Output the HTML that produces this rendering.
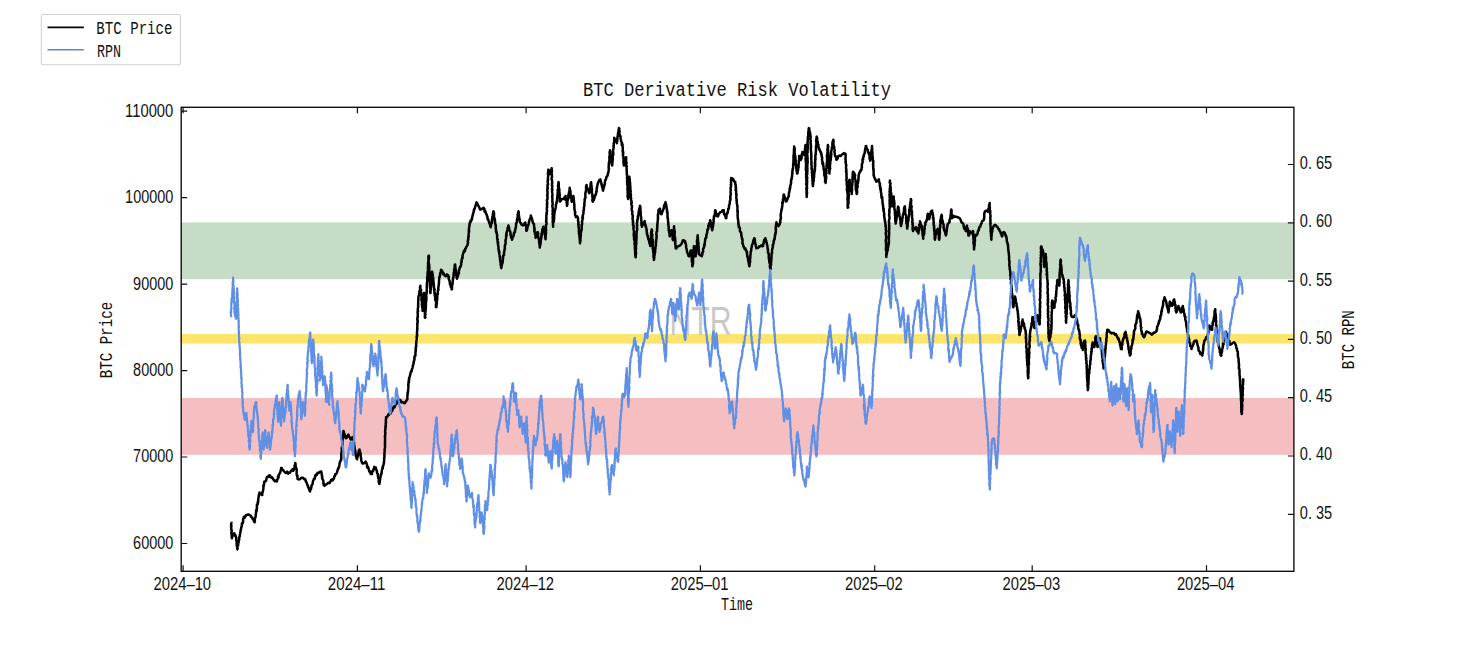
<!DOCTYPE html><html><head><meta charset="utf-8"><style>html,body{margin:0;padding:0;background:#fff;width:1472px;height:648px;overflow:hidden}svg{display:block}</style></head><body><svg width="1472" height="648" viewBox="0 0 1472 648">
<rect width="1472" height="648" fill="#fff"/>
<rect x="181.2" y="222.4" width="1112.7" height="56.70000000000002" fill="#c7dcc6"/>
<rect x="181.2" y="334.0" width="1112.7" height="9.6" fill="#fde56c"/>
<rect x="181.2" y="398.0" width="1112.7" height="56.80000000000001" fill="#f5bfc1"/>
<text x="669.5" y="335.4" font-family="'Liberation Sans', sans-serif" font-size="40" fill="#c8c8c8" textLength="62" lengthAdjust="spacingAndGlyphs">NTR</text>
<path d="M231.1,522.2 L231.4,522.4 L231.1,524.8 L231.2,525.2 L231.5,526.6 L231.1,526.3 L231.3,529.0 L231.1,529.8 L231.6,530.1 L231.8,530.7 L231.3,533.1 L231.6,532.2 L231.6,535.2 L231.7,534.6 L231.6,535.2 L231.8,537.1 L231.9,538.3 L232.2,536.7 L232.8,535.7 L233.0,534.8 L233.9,535.1 L234.3,533.3 L234.6,534.6 L235.4,536.3 L235.5,535.3 L236.0,537.0 L236.3,538.6 L236.2,540.1 L236.5,540.8 L236.5,540.7 L236.8,543.0 L236.7,543.2 L236.6,543.2 L236.8,545.9 L237.0,545.6 L237.2,547.8 L237.1,548.1 L237.3,549.4 L237.6,548.4 L237.5,547.5 L237.5,546.4 L238.1,544.4 L238.2,545.5 L238.1,543.2 L238.7,542.5 L238.6,542.1 L238.6,541.3 L239.2,539.5 L239.1,538.7 L239.3,537.0 L239.1,537.5 L239.8,536.2 L239.8,534.6 L240.1,534.4 L240.2,533.2 L240.4,531.7 L240.9,529.6 L240.7,529.7 L241.1,528.6 L241.3,527.2 L241.7,526.6 L241.8,525.8 L241.9,523.5 L242.4,522.8 L242.7,523.3 L243.0,522.2 L243.2,520.0 L243.0,519.9 L243.5,518.5 L243.9,516.7 L244.8,517.6 L245.8,515.4 L246.2,515.2 L247.2,514.8 L248.4,514.5 L249.5,514.9 L250.9,516.0 L251.4,517.4 L251.9,517.4 L252.4,517.6 L252.8,519.4 L253.7,519.6 L253.9,521.4 L254.6,522.2 L254.9,521.5 L254.6,519.2 L255.2,518.4 L255.3,517.5 L255.4,517.6 L255.8,515.6 L255.7,515.9 L255.9,513.6 L256.0,513.0 L256.2,511.8 L256.1,510.2 L256.6,511.2 L256.8,508.8 L257.0,507.8 L256.8,507.7 L257.0,506.2 L256.9,504.6 L257.1,504.9 L257.9,503.7 L257.6,502.1 L258.3,501.8 L258.2,500.4 L258.3,498.6 L258.7,497.2 L258.6,496.6 L259.0,494.9 L259.1,494.2 L259.5,493.3 L259.5,492.6 L260.0,494.3 L261.0,493.6 L262.0,495.1 L262.3,495.1 L262.2,492.6 L262.7,492.3 L262.6,491.8 L263.0,490.7 L263.4,488.8 L263.4,487.2 L263.3,485.8 L263.5,486.6 L263.9,485.2 L264.0,484.3 L264.1,482.2 L264.4,481.5 L265.2,481.4 L266.1,480.7 L266.6,478.0 L267.0,477.1 L268.2,476.1 L268.9,476.8 L269.4,475.3 L270.2,475.7 L270.8,477.4 L271.4,477.7 L272.2,477.4 L273.1,479.0 L274.1,480.5 L274.9,481.2 L276.0,480.4 L276.8,481.5 L276.9,481.2 L277.3,479.9 L278.1,477.7 L278.0,476.6 L278.5,477.7 L278.7,474.8 L279.4,474.1 L279.9,472.8 L280.2,472.5 L280.2,472.7 L280.7,470.3 L281.1,469.0 L281.1,467.9 L281.7,467.9 L282.2,469.9 L282.9,470.0 L283.3,470.3 L284.2,471.6 L285.5,472.8 L285.9,473.1 L287.2,471.7 L288.2,473.6 L289.1,472.8 L290.1,472.6 L290.8,471.1 L291.5,470.6 L292.3,469.4 L293.2,470.8 L294.1,469.1 L294.4,468.4 L294.4,468.0 L294.6,465.6 L295.1,464.6 L295.0,464.9 L295.3,463.0 L295.5,463.6 L295.7,465.1 L295.5,465.4 L295.7,466.4 L295.8,468.1 L296.3,468.0 L296.6,469.5 L296.8,471.0 L296.7,471.2 L296.6,473.6 L296.8,475.0 L297.5,475.6 L297.2,476.7 L297.5,476.1 L297.5,478.9 L297.8,479.0 L298.8,479.5 L300.0,479.1 L301.5,477.8 L303.0,477.8 L304.2,479.3 L305.2,479.0 L305.7,480.7 L305.8,481.3 L306.1,481.7 L306.8,483.3 L306.8,483.2 L307.6,485.7 L307.9,485.8 L308.2,487.4 L308.5,487.3 L308.7,488.0 L309.3,489.8 L309.5,490.6 L310.1,491.4 L310.2,490.0 L310.6,488.5 L311.0,489.0 L311.4,487.0 L311.4,485.6 L312.0,485.2 L312.2,484.5 L312.7,483.5 L312.9,481.5 L313.0,481.0 L313.6,479.8 L313.8,479.0 L314.6,479.0 L315.0,476.8 L315.2,475.4 L316.2,475.5 L316.6,473.9 L316.9,474.6 L317.5,472.8 L319.0,472.9 L320.1,471.7 L321.2,471.6 L321.5,473.2 L321.9,474.5 L321.8,475.8 L321.8,475.1 L322.2,476.2 L322.1,478.4 L322.7,479.3 L322.8,479.6 L323.1,480.3 L323.4,481.0 L323.4,483.8 L323.8,483.6 L323.7,485.2 L324.5,485.7 L325.9,484.8 L326.8,484.1 L327.9,483.1 L328.6,482.7 L329.4,483.1 L330.2,482.1 L331.0,480.1 L332.2,479.4 L332.5,480.6 L333.6,479.0 L334.0,478.3 L334.4,476.3 L335.1,475.7 L335.2,474.2 L335.6,474.2 L336.4,473.7 L336.6,473.3 L337.3,471.6 L337.6,470.1 L338.0,469.0 L338.3,468.0 L338.7,468.1 L338.9,467.5 L339.3,465.4 L339.5,465.0 L339.6,463.1 L340.2,461.5 L340.5,460.5 L341.0,460.4 L341.0,459.3 L341.4,458.8 L341.2,456.4 L341.1,456.4 L341.3,455.2 L341.1,454.3 L341.5,453.0 L341.5,451.7 L341.8,451.8 L341.9,450.1 L341.7,448.8 L341.8,447.0 L342.3,447.3 L342.1,446.8 L342.2,446.1 L342.3,444.8 L342.7,443.6 L342.3,441.6 L342.6,441.3 L342.4,439.7 L342.7,438.7 L343.1,437.8 L343.1,437.1 L343.2,436.8 L343.3,434.9 L343.3,434.2 L343.2,433.2 L343.4,432.2 L343.5,430.9 L344.0,432.9 L344.3,433.7 L344.6,434.7 L344.7,434.8 L345.4,436.6 L345.4,437.3 L345.9,438.3 L346.5,438.1 L346.9,436.3 L347.9,435.5 L348.4,434.6 L348.8,435.4 L349.1,436.9 L350.1,437.5 L350.3,438.9 L350.9,439.5 L351.8,439.1 L352.3,437.2 L353.3,437.0 L353.3,438.9 L353.7,438.2 L353.6,440.2 L353.9,441.2 L353.9,441.5 L354.1,443.7 L354.1,443.7 L354.2,444.7 L354.4,445.6 L354.3,448.1 L354.7,447.7 L354.6,449.4 L355.0,450.8 L355.3,450.3 L355.2,452.6 L355.7,453.2 L355.6,454.9 L355.8,455.6 L356.3,457.3 L356.7,458.2 L356.6,458.5 L357.0,459.3 L357.1,458.3 L357.7,456.5 L357.9,456.0 L358.2,454.7 L358.2,454.8 L358.5,452.5 L358.5,452.3 L358.7,450.7 L359.5,450.6 L359.5,449.4 L359.4,449.8 L360.1,451.9 L360.1,453.5 L360.5,453.2 L360.6,453.8 L360.6,454.8 L360.8,456.7 L360.9,457.0 L361.2,459.5 L361.2,460.0 L361.5,461.3 L362.0,462.1 L362.0,463.0 L362.9,463.6 L364.7,462.8 L365.7,461.7 L366.0,462.3 L366.7,463.9 L367.0,464.5 L367.0,466.2 L367.2,467.6 L368.0,466.9 L368.2,467.7 L368.6,468.8 L369.3,471.4 L369.4,471.6 L369.9,471.4 L370.8,474.0 L371.9,474.1 L372.0,472.5 L372.3,471.1 L373.1,471.2 L373.5,470.3 L373.5,469.1 L374.3,468.0 L374.3,466.7 L374.8,467.9 L375.8,467.6 L376.1,469.6 L376.8,470.4 L377.0,471.6 L376.9,472.5 L377.3,473.2 L377.8,473.9 L377.8,475.4 L378.1,477.1 L378.3,478.2 L378.6,478.2 L378.8,479.0 L378.9,481.6 L378.6,480.9 L379.1,483.6 L379.3,484.0 L379.8,482.6 L379.7,480.9 L379.7,480.7 L380.2,479.6 L380.0,479.6 L380.2,477.8 L380.5,477.4 L380.8,474.7 L381.0,475.2 L381.5,472.8 L381.7,473.3 L381.7,471.6 L381.9,470.2 L382.2,469.0 L382.3,468.2 L382.9,468.2 L382.6,466.7 L383.0,465.9 L383.4,465.6 L383.6,464.3 L384.0,462.6 L383.8,462.2 L384.2,460.5 L384.2,458.7 L384.0,458.5 L384.4,457.1 L384.6,455.4 L384.3,455.7 L384.4,453.9 L384.6,452.9 L384.5,452.3 L384.8,450.5 L384.5,449.8 L384.9,448.2 L384.9,448.1 L385.0,448.1 L385.0,446.8 L385.0,446.0 L384.9,443.2 L385.2,443.2 L385.1,442.6 L384.9,441.5 L385.1,440.9 L385.0,438.7 L385.1,438.9 L384.9,436.1 L385.2,436.2 L385.0,435.7 L385.4,433.5 L385.1,431.7 L385.2,431.8 L385.2,429.8 L385.4,429.6 L385.5,428.9 L385.3,426.6 L385.7,427.3 L385.8,424.8 L385.6,423.4 L385.8,424.2 L386.0,421.9 L386.0,421.6 L385.8,421.2 L385.9,419.7 L386.1,419.2 L386.0,417.2 L386.9,416.9 L387.3,416.8 L388.4,414.3 L389.0,414.7 L389.7,413.4 L390.7,413.5 L391.3,411.9 L391.5,411.2 L392.3,410.9 L392.7,408.5 L393.0,408.7 L393.7,406.6 L394.5,407.4 L394.9,406.7 L395.4,404.9 L395.9,403.9 L396.6,403.7 L397.0,401.9 L397.3,400.8 L397.9,400.3 L398.4,399.4 L399.6,400.1 L400.3,399.9 L401.2,402.3 L401.9,402.0 L403.1,402.2 L403.7,403.0 L404.5,403.2 L405.4,402.4 L405.8,401.6 L406.7,400.1 L407.3,399.4 L407.5,398.1 L407.3,397.4 L407.3,396.3 L407.6,395.1 L407.5,393.3 L408.0,392.8 L407.7,392.5 L407.8,392.4 L408.2,390.3 L408.1,389.7 L408.2,388.9 L408.3,387.7 L408.5,387.3 L408.2,384.3 L408.4,385.3 L408.5,382.2 L409.0,382.2 L408.9,381.0 L408.6,380.9 L409.3,379.4 L409.0,378.1 L409.4,377.3 L410.0,375.9 L409.8,376.3 L410.3,374.4 L410.4,373.7 L410.9,371.8 L411.5,371.3 L411.8,371.2 L411.7,369.8 L412.4,368.2 L412.6,367.5 L412.8,366.0 L412.8,366.4 L413.0,365.2 L413.7,363.2 L413.6,361.8 L414.0,361.2 L413.9,361.5 L414.5,359.4 L414.3,358.5 L414.5,357.9 L414.5,356.3 L415.1,356.4 L415.5,355.2 L415.4,353.3 L415.5,351.8 L415.8,351.1 L415.5,351.0 L415.9,348.7 L415.6,348.0 L416.0,346.5 L416.3,346.4 L416.2,345.3 L416.1,343.4 L416.4,342.7 L416.2,341.6 L416.4,340.8 L416.6,339.8 L416.8,338.4 L416.7,338.5 L416.7,336.1 L417.0,336.5 L417.2,335.7 L417.0,333.6 L416.9,332.6 L417.2,332.0 L417.1,330.2 L417.3,329.0 L417.4,329.3 L417.2,328.3 L417.4,326.2 L417.4,326.7 L417.2,323.7 L417.6,323.3 L417.4,321.8 L417.8,322.1 L417.7,320.3 L417.3,319.7 L417.4,318.2 L417.9,317.0 L417.5,316.9 L417.9,314.6 L417.7,313.6 L417.6,312.9 L417.6,311.4 L418.2,311.2 L417.8,310.7 L417.8,309.7 L417.9,308.3 L417.9,308.2 L418.2,306.9 L418.2,306.0 L418.1,305.0 L418.2,303.5 L418.2,302.2 L418.2,301.2 L418.3,300.0 L418.5,299.9 L418.3,298.1 L418.5,297.0 L418.8,295.4 L418.9,295.1 L419.2,293.5 L419.3,292.9 L419.4,291.1 L419.7,291.3 L420.0,290.0 L420.1,289.4 L420.0,286.8 L420.0,287.3 L420.4,285.8 L420.3,287.8 L420.4,288.8 L420.9,289.7 L421.0,289.6 L421.1,290.3 L420.9,291.8 L421.1,292.3 L421.2,293.6 L421.3,295.8 L421.6,295.1 L421.5,298.2 L421.5,298.0 L421.5,300.1 L421.7,301.0 L422.0,301.2 L421.9,302.2 L421.9,302.5 L422.1,303.5 L421.8,304.4 L422.0,305.7 L422.2,307.6 L422.7,308.1 L422.5,310.6 L422.5,310.7 L422.8,310.3 L422.9,308.0 L422.8,307.0 L422.7,306.2 L423.2,306.1 L423.3,304.0 L423.2,303.0 L423.4,303.4 L423.3,300.3 L423.2,300.0 L423.4,299.9 L423.6,298.6 L423.4,297.2 L423.9,296.5 L423.9,294.3 L423.8,294.0 L424.0,292.9 L424.3,294.4 L424.3,294.0 L424.3,295.8 L424.3,296.4 L424.1,297.2 L424.3,300.2 L424.2,300.8 L424.3,301.2 L424.5,302.9 L424.4,302.6 L424.5,304.4 L424.7,306.3 L424.5,305.6 L424.3,306.6 L424.4,307.5 L424.8,310.1 L424.6,311.2 L425.0,310.8 L425.1,313.3 L424.8,312.6 L425.0,315.0 L425.0,316.6 L424.7,316.5 L425.0,317.8 L425.4,317.4 L425.2,316.7 L425.1,314.4 L425.5,314.3 L425.1,313.7 L425.4,311.9 L425.6,310.5 L425.7,310.6 L425.7,309.1 L425.7,308.0 L425.9,306.1 L425.9,304.8 L425.9,304.4 L425.9,303.9 L425.8,303.6 L426.3,300.5 L426.0,300.1 L426.2,299.4 L426.4,299.6 L426.3,297.1 L426.4,296.4 L426.2,295.3 L426.4,294.2 L426.7,292.8 L426.4,292.1 L426.9,291.6 L426.8,291.0 L426.8,289.4 L426.8,288.9 L426.8,286.6 L426.8,286.0 L426.8,285.2 L426.9,283.5 L427.3,282.6 L427.0,282.3 L427.5,281.1 L427.3,280.4 L427.2,278.9 L427.1,278.4 L427.2,277.8 L427.4,276.7 L427.6,275.5 L427.6,273.3 L427.5,272.1 L427.6,271.8 L428.1,271.4 L428.0,269.7 L428.0,268.4 L427.9,267.6 L428.2,266.0 L428.0,265.3 L428.3,264.4 L428.2,264.1 L428.0,263.4 L428.4,260.8 L428.5,260.4 L428.4,260.8 L428.6,257.9 L428.3,258.0 L428.5,256.1 L428.6,255.7 L428.9,255.8 L428.9,258.1 L429.0,258.4 L428.9,258.9 L428.5,260.2 L428.7,260.9 L428.8,263.3 L429.0,263.7 L429.1,264.2 L429.3,266.1 L429.3,266.8 L429.3,268.8 L429.1,268.6 L429.4,268.9 L429.3,270.0 L429.1,271.7 L429.6,272.2 L429.7,273.9 L429.2,275.7 L429.3,276.2 L429.5,276.7 L429.7,278.8 L429.7,278.2 L429.5,279.9 L430.0,280.5 L430.0,282.9 L430.1,281.9 L430.1,283.8 L429.8,284.2 L429.9,286.8 L430.1,285.9 L430.3,289.0 L430.5,288.7 L430.4,290.6 L430.2,291.3 L430.3,292.8 L430.3,292.9 L430.5,292.9 L430.5,291.8 L430.7,289.7 L430.5,288.5 L431.0,288.1 L431.1,286.4 L431.1,286.5 L431.3,284.6 L431.2,284.5 L431.2,282.0 L431.5,280.7 L431.3,280.4 L431.5,279.9 L431.5,278.9 L431.8,278.0 L431.7,276.6 L431.5,276.4 L431.8,273.9 L432.2,273.0 L431.8,271.9 L432.1,271.6 L432.3,272.3 L432.7,274.4 L432.6,275.5 L432.4,274.7 L432.9,277.0 L433.2,277.2 L433.1,278.9 L432.9,280.0 L433.5,280.1 L433.1,281.3 L433.7,282.3 L433.5,283.3 L433.8,284.3 L433.9,285.8 L433.9,287.4 L434.4,288.7 L434.0,289.6 L434.6,289.5 L434.3,291.7 L434.5,291.8 L434.4,293.5 L435.0,293.6 L434.7,295.8 L435.2,296.2 L435.2,297.8 L435.1,299.1 L435.2,298.2 L435.3,300.2 L435.5,300.5 L436.1,301.1 L436.2,302.7 L435.9,304.6 L435.9,306.1 L436.0,307.2 L436.4,307.1 L436.5,305.6 L436.7,304.0 L436.9,303.2 L436.8,302.1 L436.8,301.4 L436.9,301.0 L437.2,299.8 L437.0,298.4 L437.2,298.4 L437.4,298.0 L437.2,295.9 L437.4,293.9 L437.8,294.2 L437.8,293.9 L437.8,292.4 L438.0,290.0 L438.3,290.3 L438.4,289.9 L438.3,288.0 L438.4,286.9 L438.6,286.2 L438.6,285.6 L438.9,283.8 L438.8,283.2 L439.1,281.9 L438.9,281.0 L439.2,279.3 L439.2,278.7 L439.4,276.8 L439.5,277.6 L439.9,275.7 L440.1,275.7 L440.1,274.1 L440.5,272.7 L440.8,271.5 L441.0,269.8 L441.0,269.9 L441.5,271.3 L442.1,270.6 L442.9,272.7 L443.2,274.2 L443.7,273.4 L444.5,275.2 L445.8,276.3 L447.0,274.4 L448.1,275.2 L448.4,277.2 L448.9,276.6 L448.7,278.7 L449.1,279.8 L449.3,280.4 L449.6,280.8 L449.8,282.4 L449.9,284.1 L450.6,283.7 L450.7,285.6 L450.7,286.6 L451.0,287.1 L451.7,287.6 L451.6,289.4 L452.0,288.9 L452.1,286.3 L452.1,286.0 L451.9,285.8 L452.4,284.1 L452.5,284.3 L452.7,282.0 L452.7,281.6 L452.8,280.6 L453.0,278.4 L453.2,277.6 L453.6,277.5 L453.6,277.0 L453.5,276.6 L453.6,274.2 L453.9,272.6 L453.8,272.5 L454.5,272.4 L454.0,269.6 L454.6,268.6 L454.4,269.3 L454.8,266.4 L454.6,266.2 L454.9,264.5 L455.2,264.5 L455.2,264.9 L455.3,266.7 L455.4,267.0 L455.5,269.5 L455.8,269.7 L455.9,270.3 L455.9,270.6 L456.4,273.0 L456.1,273.1 L456.2,275.6 L456.8,276.4 L456.9,275.9 L456.6,277.0 L457.0,278.7 L457.2,277.2 L457.5,276.9 L458.0,276.3 L458.0,273.8 L458.2,274.1 L458.9,273.5 L458.9,270.9 L459.3,269.9 L459.4,268.9 L459.7,267.8 L460.2,267.0 L460.5,266.3 L460.8,266.1 L461.2,264.5 L461.1,263.0 L461.5,261.6 L461.8,262.0 L461.5,260.3 L462.1,258.1 L462.2,258.9 L462.6,257.9 L462.5,256.5 L462.7,254.8 L463.0,253.9 L463.5,252.8 L463.7,251.1 L464.4,250.5 L465.0,251.2 L465.3,248.7 L465.6,248.9 L466.3,246.8 L466.8,246.2 L467.4,245.2 L467.6,245.0 L467.7,243.6 L468.0,243.1 L468.1,242.9 L467.7,241.3 L468.1,239.2 L468.3,239.9 L468.2,237.2 L468.4,237.8 L468.7,236.6 L468.6,235.4 L468.6,234.1 L469.0,231.9 L468.7,230.6 L469.2,230.9 L468.9,229.0 L469.0,229.3 L469.1,227.3 L469.6,225.5 L469.4,225.5 L469.4,225.0 L469.8,222.7 L470.6,222.3 L470.5,220.8 L471.0,220.2 L471.4,220.6 L471.7,219.6 L472.2,217.6 L472.3,217.0 L472.5,215.8 L472.9,214.8 L473.0,213.7 L473.7,212.1 L473.7,210.9 L474.0,210.0 L474.3,208.7 L474.8,208.9 L474.8,208.4 L475.1,206.9 L475.7,205.2 L476.0,205.2 L475.9,204.5 L476.5,202.4 L477.0,203.0 L477.2,203.4 L478.1,205.2 L478.3,205.7 L479.2,207.1 L479.8,208.7 L480.0,209.5 L481.5,209.2 L482.4,208.5 L483.6,207.7 L483.7,208.5 L484.5,208.8 L484.5,211.5 L485.1,211.0 L485.8,212.3 L485.8,213.1 L486.6,214.6 L486.8,215.2 L487.1,216.6 L487.4,216.6 L487.6,219.5 L488.2,219.2 L488.5,220.6 L488.9,221.7 L489.0,222.0 L489.4,223.2 L490.0,224.5 L490.0,225.1 L490.7,227.0 L490.7,227.3 L491.0,225.7 L491.2,224.7 L491.2,223.3 L491.5,223.4 L491.8,223.2 L491.8,221.4 L492.0,219.2 L492.3,219.4 L492.3,217.6 L492.6,216.3 L492.6,217.0 L492.9,215.7 L492.8,213.9 L493.1,213.9 L493.3,211.6 L493.5,211.3 L494.0,213.1 L494.1,213.5 L494.0,213.7 L494.0,214.4 L494.0,217.3 L494.4,217.9 L494.9,219.7 L494.6,218.8 L494.7,221.8 L495.2,221.0 L495.0,223.0 L495.2,223.9 L495.5,224.8 L495.7,225.2 L495.8,228.0 L495.7,228.6 L496.0,229.0 L495.9,229.3 L496.1,232.2 L496.6,231.9 L496.7,233.7 L496.9,234.1 L497.1,235.2 L497.2,235.4 L497.1,236.5 L497.1,238.3 L497.7,239.4 L497.4,239.5 L497.7,242.6 L498.2,242.4 L497.9,244.3 L498.0,244.9 L498.4,246.4 L498.5,246.8 L498.4,248.5 L498.6,249.8 L498.9,250.6 L498.8,251.7 L499.2,250.9 L499.3,253.8 L499.3,253.9 L499.5,255.0 L499.9,256.8 L499.6,256.9 L500.3,257.2 L500.0,259.2 L500.1,260.7 L500.6,260.9 L500.3,261.1 L500.5,262.0 L500.7,263.8 L500.6,264.6 L501.0,266.0 L501.1,267.6 L501.3,268.1 L501.4,267.3 L501.5,266.7 L501.8,265.1 L502.1,264.0 L502.1,263.2 L502.7,262.8 L502.7,261.2 L502.7,260.6 L502.9,259.3 L503.1,258.1 L503.1,257.2 L503.3,255.5 L503.5,255.3 L504.1,254.7 L503.9,253.7 L504.2,252.1 L504.2,252.1 L504.5,249.8 L504.5,249.4 L504.9,248.6 L504.7,246.5 L505.1,245.7 L504.9,245.3 L505.5,243.7 L505.4,243.9 L505.7,242.5 L505.4,240.2 L505.7,240.0 L505.8,239.2 L506.2,237.6 L506.1,235.8 L506.3,234.9 L506.7,235.2 L506.3,234.2 L506.7,232.6 L506.9,231.4 L507.3,230.9 L507.7,230.6 L507.5,227.9 L507.7,228.6 L508.0,227.5 L508.4,225.5 L508.5,226.7 L508.9,226.7 L509.3,229.2 L509.2,229.2 L509.5,230.3 L510.0,231.0 L510.5,232.6 L510.5,232.7 L510.5,234.8 L510.8,235.3 L511.1,237.5 L511.5,236.7 L512.0,238.7 L512.0,239.7 L512.1,239.2 L512.3,238.7 L512.7,237.2 L513.1,236.5 L513.8,235.5 L513.7,234.5 L514.0,232.7 L514.9,232.4 L515.0,231.0 L515.0,230.4 L515.5,229.0 L515.6,227.7 L515.8,227.5 L516.1,225.6 L516.0,224.2 L516.1,223.3 L516.5,223.2 L516.8,222.0 L517.1,219.7 L516.8,220.4 L517.4,218.5 L517.6,217.4 L517.6,216.9 L517.9,216.4 L517.6,214.6 L518.2,213.3 L518.3,212.4 L518.4,211.3 L518.7,212.1 L518.8,212.9 L518.6,214.4 L518.8,214.6 L519.1,216.3 L519.0,216.8 L519.7,219.6 L519.6,219.9 L519.7,221.1 L520.0,222.2 L520.9,222.9 L521.5,224.6 L521.9,224.5 L522.5,225.3 L523.4,225.3 L524.5,223.4 L525.3,222.5 L525.2,223.4 L525.8,224.8 L525.6,225.3 L526.2,225.8 L526.2,226.9 L526.3,227.8 L526.3,230.7 L526.7,230.8 L527.0,229.4 L527.3,229.0 L527.2,227.5 L527.6,227.0 L528.0,226.0 L528.6,224.2 L528.9,223.3 L528.9,222.6 L529.0,221.2 L529.4,221.1 L529.5,219.8 L530.1,218.6 L530.4,218.2 L530.7,216.4 L530.8,215.6 L531.2,216.8 L531.4,217.9 L531.7,217.7 L532.5,220.8 L532.4,221.5 L533.1,222.6 L533.1,222.9 L533.6,223.9 L534.0,224.0 L534.1,227.0 L534.2,226.7 L534.2,228.8 L534.6,228.0 L534.6,229.9 L534.3,231.1 L534.4,231.7 L535.1,232.3 L535.0,234.2 L535.3,233.9 L535.4,236.0 L535.7,237.2 L535.6,237.8 L536.1,236.6 L536.5,235.6 L536.7,234.8 L537.1,232.4 L537.8,232.2 L537.9,232.2 L538.2,233.8 L538.0,234.5 L538.1,237.1 L538.5,237.0 L538.4,238.5 L538.7,238.5 L539.0,239.8 L539.2,240.9 L539.1,241.4 L539.2,242.9 L539.5,244.3 L539.6,244.8 L539.7,245.5 L539.7,247.5 L539.8,247.2 L539.9,246.2 L540.4,244.1 L540.5,244.5 L540.7,241.8 L540.8,241.1 L540.6,240.0 L541.0,238.8 L541.1,239.4 L541.3,236.5 L541.5,237.2 L541.4,234.2 L541.8,234.9 L542.0,234.3 L541.9,232.2 L542.3,231.8 L542.2,229.7 L542.8,229.5 L542.8,228.6 L543.3,226.7 L543.6,228.5 L543.8,229.6 L543.9,229.7 L543.9,229.9 L544.1,232.0 L544.5,232.6 L544.9,234.2 L544.8,234.9 L545.2,235.9 L545.5,237.4 L545.1,237.3 L545.6,239.2 L545.7,237.7 L545.5,237.4 L545.7,235.6 L545.9,234.5 L545.9,233.1 L546.0,232.2 L546.1,232.6 L545.6,231.8 L546.2,230.2 L546.0,229.5 L545.9,228.4 L546.0,227.5 L545.9,226.8 L546.0,224.9 L546.5,224.3 L546.5,222.7 L546.0,221.1 L546.3,221.3 L546.5,218.7 L546.2,219.4 L546.4,217.8 L546.3,215.5 L546.5,214.5 L546.7,214.0 L546.9,213.7 L546.5,213.2 L547.0,211.6 L546.9,209.8 L546.9,210.4 L546.8,208.7 L546.9,207.2 L547.2,207.3 L546.9,204.8 L547.0,203.1 L547.3,204.0 L547.0,201.4 L547.0,200.4 L547.0,199.5 L547.5,199.2 L547.4,198.9 L547.6,196.7 L547.1,195.4 L547.6,194.4 L547.3,194.5 L547.6,192.4 L547.7,192.0 L547.3,190.9 L547.4,189.0 L547.7,189.0 L547.4,188.1 L547.7,187.9 L547.5,186.0 L547.6,184.4 L548.1,184.1 L547.8,182.4 L547.6,181.4 L548.1,179.8 L547.7,180.9 L548.0,177.9 L547.9,177.4 L547.9,177.6 L548.4,175.1 L548.3,175.1 L547.9,174.1 L547.9,173.8 L548.2,171.1 L548.6,171.5 L548.3,169.7 L548.6,169.7 L549.1,170.7 L549.5,173.8 L550.3,173.9 L550.4,172.9 L550.7,170.6 L551.1,170.0 L551.4,170.3 L551.7,168.3 L551.6,169.4 L551.7,169.6 L552.0,171.1 L551.5,171.7 L551.7,172.4 L551.7,173.7 L552.0,176.2 L552.1,176.6 L551.6,178.2 L551.7,178.8 L551.9,179.2 L551.7,179.9 L552.1,180.7 L552.2,183.4 L552.1,182.4 L552.1,183.7 L551.9,185.5 L552.1,185.5 L552.3,186.5 L551.9,189.3 L552.4,190.1 L552.2,189.4 L552.0,191.4 L552.3,193.2 L552.5,194.2 L552.4,195.5 L552.1,196.3 L552.3,196.1 L552.3,197.5 L552.4,199.2 L552.4,200.3 L552.3,201.5 L552.5,202.6 L552.6,202.3 L552.6,202.7 L552.7,204.8 L552.5,204.6 L552.3,206.7 L552.8,208.1 L552.8,208.8 L552.6,210.5 L552.9,210.6 L552.6,212.0 L552.9,212.8 L552.5,214.3 L552.9,213.9 L552.9,216.1 L552.7,216.6 L552.7,218.6 L552.6,218.2 L553.0,218.7 L552.7,221.0 L552.7,222.2 L553.0,222.4 L553.0,224.3 L553.0,225.3 L553.2,226.0 L553.1,226.7 L553.2,225.8 L553.0,225.5 L553.1,222.5 L553.6,222.1 L553.8,221.7 L554.0,219.4 L554.2,218.8 L554.2,218.0 L553.9,217.8 L554.2,216.3 L554.2,216.3 L554.3,213.9 L554.7,212.0 L554.6,212.3 L554.7,211.8 L555.0,210.0 L555.3,210.0 L555.4,209.0 L555.7,207.7 L555.8,206.4 L555.9,205.0 L556.5,203.6 L556.6,202.0 L556.4,202.5 L557.0,200.8 L557.0,199.9 L557.2,198.9 L557.1,197.9 L557.5,197.9 L557.4,195.3 L557.8,195.2 L557.5,193.8 L557.8,192.3 L558.0,192.4 L557.6,190.0 L557.9,189.9 L557.9,189.3 L558.4,188.5 L558.0,185.8 L558.1,186.1 L558.4,183.5 L558.3,182.5 L558.6,182.2 L558.8,183.4 L558.5,184.9 L558.8,184.3 L558.7,186.8 L558.7,187.5 L559.3,189.2 L559.1,190.3 L559.4,189.5 L559.2,191.3 L559.5,192.3 L559.4,194.0 L559.3,194.0 L559.8,194.5 L559.4,197.6 L560.0,197.8 L560.1,198.8 L560.0,198.8 L559.7,201.4 L560.0,201.7 L561.2,200.1 L561.9,199.2 L562.8,198.9 L563.8,198.9 L564.5,197.6 L565.6,196.1 L565.5,198.0 L565.9,198.1 L565.7,199.8 L566.1,199.5 L566.6,200.8 L566.5,202.5 L566.9,203.5 L567.0,205.7 L566.9,205.8 L567.2,203.9 L567.5,204.4 L567.4,202.9 L567.3,201.1 L567.6,199.8 L567.8,200.3 L567.9,198.9 L568.4,198.8 L568.3,196.3 L568.4,194.9 L568.8,194.2 L568.9,193.4 L569.1,191.8 L569.0,192.1 L569.5,191.4 L569.5,190.7 L569.6,188.6 L569.7,187.8 L569.8,189.3 L570.2,190.6 L570.3,191.2 L570.5,190.8 L570.5,192.6 L570.5,194.1 L570.9,195.2 L570.5,196.8 L571.1,197.6 L571.3,197.9 L571.2,198.4 L571.6,198.7 L571.5,201.4 L571.7,201.7 L572.2,200.8 L572.4,198.7 L572.7,198.8 L572.9,198.3 L573.3,196.1 L573.6,197.5 L573.8,197.9 L573.4,199.0 L573.7,199.5 L574.1,202.3 L574.0,203.1 L574.1,203.3 L574.4,204.5 L574.2,205.1 L574.5,206.8 L574.3,207.9 L574.4,208.7 L574.5,208.9 L574.5,209.4 L575.0,211.8 L575.2,211.6 L575.2,213.4 L574.9,213.5 L575.3,215.6 L576.0,217.2 L577.2,216.4 L578.1,218.3 L578.1,218.3 L578.0,221.0 L578.5,222.1 L578.4,223.4 L578.2,224.0 L578.7,224.5 L578.4,226.1 L578.6,227.1 L578.9,227.4 L578.7,228.7 L579.2,230.1 L578.7,231.0 L579.1,230.3 L578.9,231.5 L579.0,234.1 L579.2,233.9 L579.6,236.3 L579.4,237.0 L579.8,236.5 L579.7,237.7 L579.7,239.9 L580.0,241.2 L580.0,241.0 L579.9,241.4 L580.0,243.3 L580.0,242.7 L580.4,241.0 L580.6,239.7 L580.2,238.5 L580.3,238.5 L580.5,238.0 L580.8,235.4 L580.9,235.1 L580.6,233.4 L581.0,232.8 L580.9,231.6 L581.1,232.0 L581.5,229.9 L581.6,230.3 L581.7,227.4 L581.8,226.3 L581.5,225.7 L581.6,225.0 L582.1,224.5 L582.2,223.5 L582.0,221.4 L582.2,221.1 L582.2,220.8 L582.5,219.6 L582.4,217.3 L583.0,218.0 L582.6,216.3 L583.2,214.0 L583.2,214.7 L583.5,212.5 L583.5,211.1 L583.4,211.4 L583.4,210.7 L584.0,210.0 L583.8,207.6 L583.9,207.6 L584.2,206.2 L584.4,205.9 L584.3,203.4 L584.7,202.0 L584.5,202.7 L584.7,200.8 L584.6,199.4 L585.0,198.9 L585.4,198.0 L585.4,196.0 L585.3,196.3 L585.4,195.4 L585.3,193.8 L585.7,191.7 L585.7,192.2 L585.9,191.3 L586.1,189.1 L586.3,189.1 L586.0,187.5 L586.3,185.6 L586.4,185.0 L586.6,185.0 L586.9,187.7 L587.3,188.5 L587.7,188.4 L588.0,189.8 L588.7,190.8 L588.8,192.5 L589.2,193.3 L589.2,191.8 L589.4,192.0 L589.6,189.5 L590.1,189.7 L590.0,189.0 L590.5,186.5 L590.5,185.2 L590.5,186.3 L590.6,184.3 L590.7,183.0 L591.1,182.2 L591.3,183.5 L591.0,183.5 L591.3,184.7 L591.6,186.2 L591.3,187.4 L591.6,187.3 L591.9,188.7 L592.0,191.0 L591.7,191.7 L591.9,193.1 L591.8,192.7 L592.4,194.3 L592.3,195.9 L592.3,196.3 L592.7,198.5 L592.6,198.2 L592.4,199.6 L592.4,200.7 L592.8,201.7 L593.1,201.3 L593.8,199.9 L594.3,198.0 L594.4,198.6 L594.9,195.5 L595.1,195.8 L595.6,195.0 L596.1,193.3 L596.1,191.8 L596.7,191.6 L596.6,190.7 L596.7,188.8 L597.0,187.6 L597.0,186.6 L597.2,186.0 L597.4,185.3 L597.7,184.0 L598.2,182.5 L598.3,182.2 L599.1,180.4 L599.7,180.8 L600.3,179.4 L600.7,180.5 L600.7,180.8 L600.7,181.4 L601.4,183.3 L601.7,185.5 L602.0,184.5 L602.0,186.3 L602.1,186.8 L602.6,188.4 L602.9,190.3 L603.1,190.6 L603.4,188.9 L603.4,189.2 L603.7,187.1 L603.9,187.6 L604.2,185.8 L604.6,185.0 L605.0,182.9 L604.8,182.6 L605.1,180.8 L605.4,180.1 L605.8,179.4 L606.2,178.7 L606.4,177.1 L606.8,176.6 L607.4,175.9 L607.8,174.7 L608.1,172.8 L608.5,171.9 L608.6,171.1 L608.6,170.3 L609.0,168.5 L608.6,167.9 L608.7,167.1 L608.8,164.9 L608.9,165.5 L608.8,164.6 L608.9,162.4 L609.3,162.1 L609.5,161.3 L609.3,160.5 L609.5,158.3 L609.3,157.5 L609.5,156.4 L609.4,156.3 L609.8,154.9 L609.8,154.3 L609.6,152.8 L609.7,152.1 L610.0,150.3 L609.9,151.5 L610.4,151.7 L610.6,153.1 L610.4,153.7 L610.7,155.0 L611.1,157.1 L611.3,157.1 L611.0,158.6 L611.4,159.5 L611.3,161.0 L611.7,162.5 L611.6,161.4 L611.7,164.2 L612.2,164.1 L612.2,165.6 L612.4,163.7 L612.2,163.7 L612.2,163.2 L612.7,160.8 L612.4,160.6 L612.9,159.1 L612.5,157.6 L612.6,157.3 L612.7,156.7 L613.0,154.6 L613.0,155.2 L613.4,154.2 L613.2,152.7 L613.0,150.9 L613.1,150.2 L613.3,149.2 L613.5,148.2 L613.8,147.2 L613.4,146.1 L613.8,145.8 L613.7,143.7 L613.7,143.1 L614.2,142.3 L614.2,139.9 L614.2,140.9 L614.2,138.7 L614.2,137.8 L614.6,138.6 L614.9,138.9 L615.4,140.5 L616.1,140.8 L616.7,141.9 L616.9,143.3 L616.9,141.4 L617.0,141.1 L617.3,141.0 L617.3,138.3 L617.5,138.7 L617.5,136.8 L618.0,135.1 L617.8,134.8 L618.1,133.3 L618.5,133.7 L618.1,133.1 L618.5,131.1 L618.6,130.2 L618.8,130.0 L618.9,128.1 L619.4,129.0 L619.0,130.2 L619.7,131.5 L619.4,132.6 L619.5,134.0 L619.8,135.1 L620.0,136.1 L620.2,135.6 L620.7,137.4 L620.5,138.5 L621.1,140.5 L621.1,140.6 L621.1,141.4 L621.9,142.6 L621.7,144.9 L622.5,144.3 L622.5,146.1 L622.7,146.8 L622.8,149.1 L622.8,149.9 L622.6,150.9 L622.7,152.1 L623.1,151.4 L623.2,154.4 L622.8,154.6 L623.0,155.4 L623.2,156.4 L623.3,156.6 L623.5,159.0 L623.7,158.6 L623.4,161.4 L623.4,162.5 L623.9,162.3 L623.7,162.6 L623.6,163.5 L623.9,165.6 L624.4,164.2 L624.2,163.7 L624.9,163.1 L624.8,161.0 L625.5,160.9 L625.5,158.7 L626.1,157.9 L626.1,157.2 L625.9,157.3 L626.2,158.6 L626.0,161.3 L626.3,161.9 L626.6,163.2 L626.2,163.8 L626.2,165.2 L626.4,166.4 L626.8,165.9 L626.5,167.4 L626.6,168.0 L626.7,168.9 L626.6,170.3 L626.6,170.4 L626.9,173.1 L626.7,174.4 L627.1,175.4 L627.2,175.2 L627.2,177.6 L627.3,177.7 L626.9,177.8 L627.3,178.8 L627.0,181.6 L627.5,180.8 L627.1,183.5 L627.2,182.6 L627.1,184.2 L627.6,184.9 L627.5,185.7 L627.7,188.2 L627.4,188.3 L627.5,189.6 L627.6,190.6 L628.0,191.7 L627.6,191.7 L627.8,194.6 L627.6,195.4 L627.6,196.9 L627.8,197.5 L628.2,198.3 L628.1,198.9 L628.4,198.4 L628.4,196.3 L628.1,196.1 L628.1,194.2 L628.3,194.7 L628.2,192.5 L628.5,192.5 L628.7,190.2 L628.8,189.9 L628.6,189.2 L629.0,187.5 L628.6,186.1 L629.0,186.5 L629.0,185.7 L629.0,184.8 L629.2,181.8 L629.1,181.2 L629.1,180.4 L629.3,179.7 L629.6,177.7 L629.5,177.3 L629.4,176.7 L629.3,177.3 L629.4,178.3 L629.8,179.2 L629.6,181.1 L629.9,182.1 L630.0,181.9 L630.1,182.7 L630.1,184.2 L630.3,186.7 L630.3,186.8 L630.3,187.1 L630.4,187.7 L630.4,190.7 L630.8,191.2 L630.4,191.9 L630.7,193.8 L630.5,193.6 L631.0,195.2 L630.7,195.8 L630.8,197.2 L630.9,197.4 L631.2,198.8 L631.0,199.9 L631.1,200.2 L631.7,201.8 L631.7,203.1 L631.2,202.8 L631.4,204.9 L631.8,205.4 L632.0,205.9 L631.9,207.6 L631.7,207.8 L631.7,210.1 L632.0,211.1 L632.4,211.3 L632.2,212.8 L632.2,214.6 L632.3,214.6 L632.8,215.1 L632.7,217.3 L632.5,217.8 L632.6,219.3 L633.1,221.0 L632.7,222.1 L633.2,221.7 L633.1,223.1 L633.0,224.7 L633.0,225.2 L633.6,225.3 L633.5,227.8 L633.4,227.8 L633.6,229.4 L634.0,231.4 L634.0,231.8 L634.0,232.3 L633.7,234.1 L633.7,235.5 L634.0,235.1 L634.0,237.6 L634.3,236.8 L634.0,239.1 L634.3,240.1 L634.7,240.6 L634.8,242.5 L634.5,243.3 L634.4,243.6 L634.7,243.9 L634.8,245.2 L634.8,246.3 L634.9,248.8 L634.9,249.9 L635.2,249.2 L635.2,250.9 L635.2,252.3 L635.1,252.8 L635.2,255.2 L635.6,255.1 L635.8,256.9 L635.6,257.2 L635.5,256.5 L635.4,256.0 L635.7,255.2 L636.0,253.6 L636.0,252.2 L635.8,251.9 L635.7,251.1 L636.1,248.4 L635.9,248.9 L636.0,246.2 L635.8,245.6 L636.2,244.4 L636.3,243.9 L636.3,242.6 L636.1,241.7 L636.4,240.4 L636.4,239.7 L636.4,239.6 L636.5,238.5 L636.6,236.3 L636.7,236.2 L636.3,234.3 L636.5,234.5 L636.6,234.2 L636.6,232.0 L636.6,231.3 L636.7,231.2 L637.1,230.1 L637.1,227.8 L636.7,228.0 L636.9,227.2 L637.2,224.8 L636.8,223.4 L636.8,224.1 L637.2,222.4 L637.2,221.1 L637.6,219.9 L637.3,219.8 L638.0,218.3 L637.7,216.8 L637.9,216.2 L638.3,214.7 L638.6,213.4 L638.7,213.7 L638.7,212.0 L639.1,209.8 L639.3,209.4 L639.4,208.0 L639.8,207.9 L640.0,205.9 L640.0,205.8 L640.3,206.1 L640.4,208.6 L640.0,209.9 L640.4,209.7 L640.6,210.7 L640.4,212.9 L640.9,212.7 L640.5,213.8 L640.8,215.8 L640.7,216.4 L641.3,217.4 L641.1,218.2 L641.3,220.0 L641.2,220.4 L641.7,221.9 L641.4,221.4 L641.4,223.9 L641.5,225.4 L641.8,225.1 L641.9,226.7 L642.7,224.9 L642.8,224.8 L643.5,224.1 L643.9,223.1 L644.2,222.4 L644.7,221.1 L644.7,221.6 L645.0,223.5 L645.2,225.1 L645.5,225.7 L645.6,225.3 L646.0,227.3 L645.9,227.7 L646.4,228.3 L646.7,230.4 L646.6,231.0 L647.0,232.7 L646.8,233.5 L647.2,234.7 L647.5,235.0 L647.5,236.4 L647.7,235.9 L648.0,237.1 L648.5,239.8 L649.1,239.1 L649.1,240.9 L649.2,242.4 L649.8,243.8 L649.7,243.9 L650.2,244.9 L650.3,246.1 L650.1,245.1 L650.5,243.0 L650.7,242.2 L650.5,242.2 L650.8,240.0 L651.1,239.1 L650.8,238.8 L651.0,238.4 L651.2,237.1 L650.9,235.6 L651.5,233.9 L651.0,233.9 L651.2,231.8 L651.6,231.0 L651.6,231.4 L651.7,229.4 L652.0,230.5 L652.1,230.7 L651.7,232.8 L651.8,234.1 L652.0,234.7 L652.4,234.7 L652.1,235.9 L652.1,237.9 L652.2,237.7 L652.6,239.4 L652.7,240.7 L652.8,240.9 L652.9,243.8 L652.5,243.3 L652.7,245.3 L652.6,246.0 L652.9,247.8 L652.7,248.8 L653.1,248.3 L653.0,249.5 L653.3,251.9 L653.3,252.8 L653.5,253.5 L653.6,253.1 L653.6,255.5 L653.3,255.9 L653.9,257.7 L653.5,257.0 L654.0,258.8 L653.9,260.0 L654.2,258.8 L654.2,258.8 L654.3,257.1 L654.2,255.5 L654.4,255.7 L654.6,254.5 L654.9,253.2 L655.1,252.5 L655.2,250.2 L655.2,250.4 L655.5,247.9 L655.3,248.2 L655.7,246.0 L655.5,245.8 L656.0,245.3 L655.8,243.3 L656.1,242.7 L655.9,241.5 L656.2,241.0 L656.1,240.1 L656.4,239.2 L656.5,237.8 L656.6,236.2 L656.8,236.1 L656.3,234.5 L656.5,232.7 L656.7,231.4 L657.1,231.4 L657.2,229.3 L657.2,229.3 L657.0,228.9 L657.3,227.6 L657.5,225.8 L657.1,226.0 L657.4,224.9 L657.3,224.1 L657.6,222.9 L657.7,220.6 L657.7,220.8 L658.1,219.0 L657.8,218.8 L658.0,217.1 L657.9,215.4 L658.0,214.2 L658.1,213.9 L658.1,213.5 L658.7,211.4 L658.3,211.2 L658.6,210.0 L660.0,208.6 L659.9,210.4 L660.2,210.4 L660.6,211.7 L660.8,214.0 L661.0,214.2 L661.8,214.0 L661.8,211.2 L662.4,211.8 L663.0,210.2 L663.5,209.1 L663.9,208.0 L663.9,206.1 L664.2,205.2 L664.4,206.2 L664.8,204.2 L665.1,203.7 L665.6,202.1 L665.8,203.7 L665.7,205.2 L666.4,205.2 L666.3,206.2 L666.7,208.1 L666.6,208.8 L666.7,208.8 L667.1,210.2 L666.9,212.2 L667.3,211.4 L667.6,214.0 L667.6,214.4 L667.5,214.9 L667.4,216.8 L667.6,217.6 L667.7,217.2 L668.0,219.7 L668.1,220.6 L667.9,220.9 L668.1,222.0 L668.4,222.8 L668.1,224.6 L668.4,224.4 L668.5,226.2 L668.7,227.5 L668.7,228.0 L668.7,229.4 L668.8,230.9 L668.8,230.4 L669.2,232.5 L669.5,234.0 L669.6,233.6 L669.6,235.6 L669.7,236.2 L669.8,236.3 L670.3,234.0 L670.7,232.7 L671.0,233.0 L671.2,230.3 L671.7,230.2 L671.8,231.7 L671.8,231.2 L672.0,233.3 L672.2,233.6 L672.6,234.4 L672.5,235.8 L672.6,237.3 L672.6,239.2 L672.7,239.2 L673.1,240.2 L673.3,238.3 L673.4,237.9 L673.0,237.2 L673.1,235.3 L673.4,235.4 L673.4,233.8 L673.8,233.1 L673.8,233.1 L673.5,231.8 L674.0,229.9 L674.0,228.6 L674.1,227.3 L673.9,226.7 L674.1,226.2 L673.9,228.2 L674.1,229.1 L674.1,228.7 L674.3,229.2 L674.3,231.1 L674.7,231.1 L674.7,234.0 L674.4,233.4 L674.5,235.2 L674.6,235.7 L675.0,237.8 L675.2,237.6 L675.2,239.5 L675.1,240.6 L675.1,241.2 L675.5,241.3 L675.0,242.9 L675.3,243.4 L675.5,245.7 L675.8,245.9 L675.5,246.3 L675.7,248.3 L676.5,248.4 L677.0,246.9 L678.1,246.3 L679.2,245.8 L679.9,245.7 L681.1,244.3 L681.8,243.4 L681.9,243.1 L682.8,240.5 L683.1,240.2 L684.1,240.5 L685.1,241.2 L685.1,242.8 L685.5,242.5 L685.9,244.5 L685.9,244.4 L686.1,245.4 L686.1,247.6 L686.3,248.0 L686.8,250.0 L686.9,250.2 L686.9,251.1 L687.1,252.3 L687.7,253.5 L688.1,254.2 L688.5,256.1 L689.1,256.3 L689.2,255.6 L689.5,255.3 L689.9,253.9 L690.2,252.6 L690.5,250.9 L691.1,250.3 L691.3,251.1 L691.3,251.2 L691.6,253.1 L691.2,254.1 L691.8,254.7 L691.6,256.3 L691.6,256.9 L691.9,257.5 L691.7,258.5 L691.8,259.5 L691.9,262.2 L692.4,261.3 L692.5,263.3 L692.3,264.9 L692.1,265.2 L692.5,266.3 L692.5,265.1 L692.9,264.0 L693.0,263.6 L693.1,262.9 L692.9,260.4 L693.2,261.0 L693.0,260.0 L693.2,257.5 L693.4,257.4 L693.6,256.0 L693.6,256.1 L693.8,254.8 L693.5,252.4 L693.6,252.1 L693.7,251.7 L693.5,250.0 L693.9,248.3 L693.8,247.9 L693.8,246.2 L694.1,246.3 L694.3,246.6 L694.4,247.7 L694.4,249.8 L694.9,250.6 L695.2,252.2 L694.8,251.6 L695.3,253.6 L695.5,255.2 L695.3,256.0 L695.7,256.3 L695.7,255.2 L695.7,253.6 L696.0,254.3 L696.3,252.9 L696.1,252.0 L696.3,250.9 L696.5,250.2 L696.8,249.1 L696.5,246.9 L696.9,245.2 L696.6,245.5 L697.1,244.5 L697.3,244.2 L696.9,241.9 L697.0,240.2 L697.3,239.7 L697.6,238.2 L697.7,238.6 L697.6,236.8 L697.4,237.1 L697.7,235.2 L697.6,235.3 L697.7,236.6 L697.8,237.2 L697.9,239.1 L698.1,240.1 L698.2,241.7 L698.5,243.3 L698.3,244.1 L698.4,243.7 L698.5,245.2 L698.7,247.2 L698.4,248.2 L698.6,248.6 L698.5,248.2 L698.7,250.0 L698.7,250.9 L698.8,251.2 L699.1,253.8 L699.1,254.3 L700.3,255.4 L700.9,255.6 L701.8,256.3 L701.9,254.6 L702.4,254.8 L702.3,252.5 L702.7,252.2 L703.2,251.5 L703.0,249.7 L703.3,248.4 L703.5,248.0 L703.8,248.0 L704.2,246.3 L704.2,244.7 L704.7,245.1 L704.6,243.9 L705.0,241.5 L705.0,241.2 L705.2,239.6 L705.5,238.3 L705.8,237.7 L706.4,237.5 L706.3,236.4 L706.3,235.0 L706.7,234.6 L706.9,233.6 L707.2,232.2 L707.3,230.6 L707.5,229.4 L707.7,230.2 L708.4,228.4 L708.3,227.0 L708.5,225.3 L708.9,226.1 L708.9,223.8 L709.2,223.7 L709.8,222.2 L710.1,221.8 L710.2,220.2 L710.2,220.6 L710.5,221.3 L710.6,222.8 L710.9,223.4 L711.0,225.0 L711.1,226.9 L711.5,227.0 L711.9,228.0 L712.0,229.2 L712.2,230.2 L712.1,229.7 L712.5,229.2 L712.5,227.8 L713.0,226.1 L713.0,224.8 L713.1,225.0 L713.4,223.2 L713.2,223.1 L713.7,222.2 L713.5,219.9 L713.8,218.6 L713.9,218.6 L713.9,216.2 L714.0,217.1 L714.7,216.1 L714.7,214.4 L714.9,213.9 L715.0,212.6 L714.9,212.1 L715.2,210.2 L715.7,211.0 L715.8,212.6 L715.9,214.3 L716.3,213.5 L717.1,214.8 L717.2,216.2 L718.0,216.4 L718.7,214.4 L719.0,213.4 L719.5,213.4 L720.2,212.2 L721.5,211.9 L722.4,210.5 L723.2,210.2 L723.8,210.2 L723.8,212.1 L724.0,214.2 L724.8,214.2 L724.7,214.9 L725.3,216.1 L725.8,216.7 L725.8,218.2 L726.3,218.1 L726.4,216.2 L726.6,214.6 L726.9,214.1 L727.0,213.2 L727.8,212.8 L727.7,211.8 L728.2,210.2 L728.3,208.6 L728.9,208.3 L729.0,206.8 L729.1,205.1 L729.1,204.9 L729.6,204.5 L729.6,204.1 L729.8,202.1 L730.1,200.1 L730.2,200.1 L730.5,199.7 L730.4,197.5 L730.2,197.8 L730.4,195.6 L730.7,195.5 L730.6,193.6 L730.8,194.1 L730.6,192.8 L730.6,191.5 L730.6,190.1 L730.9,190.2 L730.5,188.2 L731.0,186.7 L731.1,185.2 L730.7,184.9 L731.1,184.0 L731.0,182.1 L731.0,182.5 L731.2,180.6 L730.9,180.2 L731.4,179.9 L731.2,178.1 L732.5,178.6 L733.2,179.1 L733.6,180.3 L734.7,182.0 L735.3,182.1 L735.1,182.3 L735.4,184.6 L735.6,184.3 L735.8,186.2 L735.6,187.3 L736.1,187.7 L735.6,190.1 L736.1,191.2 L736.2,190.5 L736.2,192.4 L736.1,193.9 L736.3,194.8 L736.6,194.8 L736.5,195.2 L736.2,197.9 L736.6,198.9 L736.6,199.2 L736.5,200.7 L736.8,201.1 L736.8,202.2 L736.7,203.2 L737.1,204.4 L737.1,204.4 L737.3,206.1 L737.5,207.0 L737.4,209.2 L737.4,209.8 L737.8,211.0 L737.6,212.2 L737.4,211.2 L737.7,212.5 L737.7,213.8 L737.5,215.7 L737.7,215.1 L737.7,217.5 L737.9,219.1 L738.0,219.3 L738.1,219.2 L738.2,221.4 L738.4,221.8 L738.4,223.0 L738.3,224.2 L738.6,224.1 L738.7,227.1 L738.9,226.1 L739.7,227.9 L739.9,228.6 L739.9,230.9 L740.4,232.1 L740.6,232.0 L741.2,232.5 L741.3,234.2 L741.3,235.9 L741.4,235.3 L741.7,237.0 L742.1,239.2 L742.3,238.5 L742.6,241.3 L742.5,241.2 L742.4,243.1 L742.7,244.3 L742.8,243.9 L743.3,245.7 L743.3,246.3 L743.7,246.5 L744.7,249.0 L745.3,248.2 L745.6,249.9 L746.3,250.3 L746.6,252.2 L746.9,251.8 L747.0,253.0 L747.0,254.3 L747.2,254.6 L747.3,256.4 L747.6,256.7 L747.8,258.1 L748.2,259.9 L748.2,260.3 L748.2,260.4 L748.6,262.1 L748.7,262.7 L749.1,264.9 L749.2,266.1 L749.3,266.3 L749.5,265.9 L749.6,263.4 L749.5,263.7 L749.7,263.0 L750.1,262.1 L750.1,260.1 L749.9,258.7 L749.9,259.1 L750.4,257.7 L750.3,256.3 L750.5,254.3 L750.6,254.1 L750.6,252.6 L750.6,251.7 L751.2,250.9 L751.1,251.1 L751.3,249.7 L751.3,248.3 L751.6,247.4 L751.8,246.6 L752.0,244.8 L752.7,244.0 L753.0,242.2 L753.2,242.9 L753.2,241.6 L753.5,239.9 L754.0,239.2 L754.3,238.2 L754.8,239.0 L754.9,240.1 L754.7,240.8 L755.1,242.0 L755.1,243.3 L755.8,244.6 L755.9,244.4 L755.7,246.0 L756.4,247.9 L756.3,248.3 L757.5,248.1 L758.5,247.7 L759.3,246.3 L760.3,246.2 L761.5,245.3 L762.3,246.3 L763.0,246.1 L763.1,245.2 L763.4,243.8 L763.7,243.0 L764.0,240.3 L764.4,239.8 L765.1,239.2 L765.3,238.2 L765.8,239.3 L765.6,239.5 L766.2,240.8 L766.1,241.6 L766.8,242.8 L766.7,243.8 L767.1,244.8 L767.4,246.3 L767.6,247.9 L767.6,249.1 L767.6,248.6 L768.0,249.3 L768.0,250.9 L767.9,252.0 L768.1,253.0 L768.7,253.5 L768.8,254.6 L768.7,256.2 L768.9,258.3 L768.9,259.2 L769.1,259.4 L769.4,260.3 L769.2,262.0 L769.8,261.7 L769.7,263.4 L770.1,263.9 L769.9,266.4 L769.8,266.3 L770.0,267.2 L770.2,268.5 L770.4,269.3 L770.6,269.1 L770.7,268.0 L770.6,265.8 L770.7,265.0 L771.1,263.4 L771.2,264.3 L770.8,261.6 L771.3,261.2 L771.3,260.5 L771.0,258.3 L771.4,259.3 L771.5,257.2 L771.5,256.1 L771.6,254.4 L771.6,253.7 L772.0,253.1 L772.1,253.2 L772.0,251.9 L772.0,250.6 L772.2,248.9 L772.4,248.3 L772.9,247.5 L772.6,245.2 L773.1,245.2 L773.1,245.0 L773.7,242.2 L773.6,241.4 L773.7,240.7 L774.1,240.7 L774.2,239.0 L774.7,239.1 L774.9,236.2 L774.8,235.5 L775.2,235.2 L775.4,234.2 L775.2,233.3 L775.7,233.3 L775.9,231.5 L775.8,231.3 L775.9,229.1 L775.6,228.7 L775.9,227.6 L775.8,226.4 L776.2,224.2 L776.4,223.8 L776.3,224.2 L776.4,222.2 L776.7,224.1 L777.3,223.9 L777.6,224.9 L778.4,226.2 L778.9,225.0 L779.3,225.2 L780.2,222.6 L780.4,222.2 L780.2,221.7 L780.4,219.6 L780.4,219.6 L780.7,218.9 L780.9,217.7 L780.7,216.3 L780.6,215.7 L780.8,213.8 L781.0,212.9 L781.2,211.3 L781.4,210.1 L781.6,208.9 L781.9,209.0 L781.9,208.0 L782.1,206.9 L782.4,206.0 L782.4,205.5 L782.2,202.6 L782.8,203.2 L783.0,200.9 L782.9,199.5 L783.3,199.0 L783.2,197.7 L783.5,198.3 L783.6,197.3 L783.6,194.6 L783.9,194.5 L784.2,195.8 L784.6,197.5 L784.9,197.3 L785.1,198.2 L785.5,199.0 L785.8,201.4 L786.2,201.4 L786.6,201.2 L787.4,199.4 L787.5,199.1 L788.3,196.9 L788.5,196.8 L788.9,195.4 L788.8,195.6 L788.8,193.4 L789.1,193.2 L789.2,192.0 L789.8,189.8 L789.6,189.1 L789.9,187.7 L790.1,188.6 L790.3,185.7 L790.5,185.2 L790.8,184.4 L790.9,183.6 L791.2,182.5 L790.9,181.6 L791.4,179.5 L791.3,179.3 L791.7,179.1 L791.7,177.3 L792.0,177.1 L792.1,175.7 L792.1,174.3 L792.5,173.3 L792.1,172.2 L792.7,170.6 L792.5,169.5 L792.9,168.3 L793.1,168.5 L793.2,167.2 L793.1,165.9 L793.3,164.3 L793.4,163.9 L793.1,163.8 L793.5,162.9 L793.4,160.0 L793.8,160.2 L793.6,159.5 L793.5,158.4 L793.5,157.7 L793.5,156.0 L793.5,155.5 L793.9,154.5 L793.8,152.8 L794.0,152.1 L793.9,151.0 L794.1,148.9 L793.9,149.1 L794.2,148.3 L794.2,146.6 L794.1,146.5 L794.7,148.7 L794.7,148.7 L794.6,151.0 L794.7,151.6 L794.5,153.7 L794.6,153.4 L794.8,153.7 L795.1,155.9 L795.3,156.1 L795.3,158.7 L795.6,158.4 L795.5,159.8 L795.6,161.7 L795.9,161.0 L795.6,163.0 L795.7,164.9 L796.3,164.7 L796.2,166.4 L796.3,167.3 L796.4,168.5 L796.5,169.9 L796.7,171.1 L796.7,171.7 L797.1,172.1 L797.0,173.6 L797.5,173.3 L797.7,170.4 L797.7,170.8 L798.1,170.2 L798.2,168.6 L798.6,167.4 L798.5,165.9 L798.6,165.1 L798.7,163.4 L798.9,162.0 L799.0,161.4 L798.8,161.5 L798.9,160.8 L799.4,158.1 L799.1,157.5 L799.3,156.0 L799.3,155.9 L799.7,157.9 L800.1,157.6 L800.5,159.4 L800.9,159.8 L800.9,159.2 L801.6,158.3 L801.6,155.4 L801.7,154.4 L802.2,153.9 L802.4,152.8 L802.4,152.0 L803.3,153.5 L803.7,154.6 L804.3,155.1 L804.2,153.5 L804.7,152.9 L804.5,152.6 L804.9,150.4 L804.9,150.7 L805.1,148.2 L805.2,148.3 L805.2,146.5 L805.4,146.0 L805.5,145.1 L805.8,145.3 L805.7,146.7 L805.4,147.9 L805.6,148.3 L805.8,149.3 L805.5,152.3 L805.5,152.2 L805.8,152.1 L805.6,154.6 L805.7,155.1 L805.7,156.1 L805.9,156.7 L805.9,158.9 L805.6,158.3 L805.6,160.0 L806.1,160.8 L805.8,161.4 L806.0,163.1 L806.1,165.3 L806.1,165.7 L805.9,166.2 L806.0,167.8 L806.2,167.3 L805.8,169.5 L805.9,170.2 L806.4,172.0 L806.1,173.5 L806.1,173.3 L806.1,173.4 L806.2,176.1 L806.4,176.3 L806.1,176.8 L806.2,178.3 L806.6,180.5 L806.3,180.7 L806.7,180.8 L806.5,182.2 L806.1,183.8 L806.3,184.7 L806.7,185.6 L806.7,187.2 L806.4,188.2 L806.5,189.1 L806.7,190.4 L806.5,190.5 L806.5,192.6 L806.5,192.4 L806.9,194.7 L806.5,193.9 L806.8,195.4 L806.7,196.8 L806.7,196.9 L806.8,194.5 L806.8,193.2 L807.1,192.9 L806.8,191.6 L806.5,191.8 L806.9,190.6 L806.8,188.9 L807.1,188.4 L807.0,187.6 L806.9,185.2 L807.0,184.1 L806.9,184.3 L807.0,183.6 L807.0,182.4 L807.2,181.6 L806.9,180.1 L807.3,177.8 L807.2,177.4 L806.9,177.0 L806.9,176.4 L806.9,175.5 L807.4,173.4 L807.1,173.0 L807.2,170.7 L807.4,171.8 L807.3,169.0 L807.4,169.4 L807.4,167.7 L807.1,166.3 L807.3,166.1 L807.5,165.2 L807.3,164.3 L807.7,162.2 L807.7,161.4 L807.5,160.4 L807.5,159.4 L807.6,159.1 L807.5,156.7 L807.5,157.6 L807.3,155.5 L807.2,153.6 L807.3,153.0 L807.6,152.4 L807.5,151.5 L807.6,150.9 L807.6,149.2 L807.7,148.0 L807.7,148.8 L807.9,145.8 L807.5,145.0 L807.9,144.2 L807.5,144.6 L807.5,142.9 L807.5,142.1 L807.8,141.6 L807.8,139.7 L807.8,138.0 L807.9,136.8 L807.9,136.8 L808.3,136.2 L808.3,134.1 L808.2,133.9 L808.5,132.3 L808.3,132.1 L808.8,129.6 L808.6,128.4 L808.9,128.1 L809.3,128.5 L809.3,129.8 L809.4,131.3 L809.5,131.1 L810.2,132.9 L810.2,134.8 L810.4,135.1 L810.2,135.5 L810.7,136.4 L810.5,138.5 L810.4,139.2 L810.8,140.7 L810.7,141.7 L810.5,141.7 L810.6,143.2 L810.9,144.3 L810.8,145.0 L811.1,146.4 L810.9,147.8 L810.9,147.1 L810.7,148.5 L811.0,150.1 L811.0,152.2 L811.2,152.3 L811.2,153.1 L811.3,153.6 L811.2,155.6 L811.4,156.5 L811.4,156.2 L811.2,158.6 L811.3,159.9 L811.4,159.8 L811.4,161.3 L811.5,162.9 L811.4,163.2 L811.3,164.2 L811.5,164.4 L811.7,166.9 L811.5,167.4 L811.6,169.5 L812.1,169.1 L812.2,170.1 L811.9,172.1 L811.9,173.1 L812.2,174.5 L812.4,175.1 L812.0,175.4 L812.3,177.1 L812.6,177.6 L812.3,178.2 L812.6,180.0 L812.3,180.8 L812.9,181.7 L812.5,183.5 L812.8,184.3 L812.8,185.9 L812.9,186.0 L813.0,185.2 L813.2,184.6 L813.2,182.3 L813.3,182.1 L813.8,180.1 L813.5,180.4 L813.6,178.4 L813.8,178.8 L814.2,175.9 L813.8,176.0 L814.0,174.2 L814.4,173.8 L814.3,172.7 L814.5,171.9 L814.8,170.6 L815.0,169.8 L814.9,169.0 L815.0,166.8 L815.2,165.9 L814.8,166.4 L815.3,164.7 L814.8,163.1 L815.3,162.9 L815.1,162.4 L815.2,160.7 L815.1,159.2 L815.5,159.4 L815.4,156.8 L815.3,156.3 L815.3,155.5 L815.9,153.9 L815.9,154.4 L815.6,153.1 L815.9,151.3 L816.0,151.0 L815.9,150.1 L816.1,148.9 L815.9,147.4 L816.3,146.7 L816.0,145.9 L816.3,145.0 L816.4,144.0 L816.4,141.6 L816.5,142.6 L816.1,141.0 L816.2,140.0 L816.2,139.7 L816.8,137.3 L816.6,136.6 L816.6,137.0 L817.2,138.1 L816.9,140.2 L817.5,141.2 L817.8,142.3 L817.8,143.5 L818.0,144.4 L818.5,144.7 L818.2,145.8 L818.6,147.4 L818.9,147.9 L819.5,150.2 L819.9,149.9 L820.4,152.0 L820.9,152.0 L821.1,152.9 L821.1,154.5 L821.5,154.0 L821.6,155.6 L821.5,156.0 L822.1,157.3 L822.1,159.2 L822.0,159.4 L822.2,161.2 L822.6,161.9 L822.4,163.8 L823.0,162.9 L823.2,164.0 L823.2,165.9 L823.6,166.7 L823.6,168.6 L823.6,169.6 L823.7,169.0 L824.0,170.5 L824.3,171.3 L824.3,174.0 L824.4,174.2 L824.3,174.5 L824.4,175.9 L825.0,176.2 L825.0,178.1 L825.1,179.3 L825.3,179.8 L825.0,181.9 L825.4,181.8 L825.6,182.9 L825.6,181.9 L825.8,181.4 L825.8,180.5 L826.1,178.1 L826.1,178.2 L826.2,176.4 L825.8,174.9 L826.1,173.7 L826.4,173.4 L826.4,171.8 L826.1,170.7 L826.5,170.5 L826.1,169.5 L826.2,168.7 L826.8,167.8 L826.5,165.6 L826.4,165.5 L826.9,164.2 L826.8,162.8 L826.9,162.5 L826.9,162.2 L827.2,161.0 L827.0,160.0 L827.2,157.7 L826.9,156.7 L826.9,155.8 L827.2,155.2 L827.1,154.7 L827.3,154.1 L827.6,151.3 L827.6,151.3 L827.4,149.5 L827.6,148.5 L827.8,147.6 L827.8,146.4 L827.7,147.1 L827.9,145.1 L828.2,146.7 L828.1,147.7 L828.1,147.6 L827.9,148.2 L828.1,150.6 L827.9,150.1 L828.3,152.6 L828.3,153.9 L828.6,154.8 L828.3,154.5 L828.6,157.1 L828.7,157.5 L828.6,159.4 L828.6,158.9 L828.6,159.9 L828.5,161.5 L828.7,161.4 L828.9,162.6 L829.0,164.0 L829.3,164.5 L828.9,166.1 L829.4,168.1 L829.3,168.5 L829.1,168.6 L829.4,170.5 L829.3,171.4 L829.4,172.5 L829.4,173.6 L829.5,171.7 L829.4,171.4 L829.4,170.9 L830.1,168.8 L830.0,168.3 L830.2,168.6 L829.8,167.2 L830.0,166.4 L829.9,165.7 L830.2,164.0 L830.3,162.1 L830.2,162.0 L830.4,161.1 L830.9,159.4 L830.9,159.6 L830.7,158.3 L831.1,156.8 L831.1,154.9 L831.2,153.8 L831.4,154.5 L831.1,153.3 L831.2,151.8 L831.4,150.5 L831.7,149.2 L831.9,147.6 L832.2,147.2 L832.4,146.4 L832.5,146.1 L832.3,144.5 L832.5,142.2 L832.7,142.0 L833.0,140.4 L833.3,139.7 L833.3,140.0 L833.7,141.3 L833.4,142.3 L833.5,145.0 L833.8,146.0 L834.0,146.3 L834.1,148.1 L834.2,147.3 L834.4,149.0 L834.7,150.5 L834.4,151.5 L834.6,152.5 L834.8,153.6 L834.8,153.8 L835.1,156.0 L835.5,156.1 L836.1,157.5 L836.2,158.2 L836.4,159.8 L837.2,159.1 L837.8,158.1 L837.8,156.7 L838.7,155.9 L839.3,155.6 L840.5,156.1 L841.7,154.7 L842.5,154.4 L843.8,153.1 L845.3,153.6 L845.6,154.3 L845.6,154.8 L845.6,157.0 L845.5,158.3 L845.6,159.6 L845.4,159.3 L845.7,159.8 L845.5,162.0 L845.9,161.6 L845.6,162.7 L846.2,164.8 L846.2,165.9 L846.1,166.0 L846.0,167.7 L846.2,168.8 L846.3,168.9 L846.0,171.4 L846.5,170.6 L846.3,173.0 L846.4,173.6 L846.6,173.6 L846.4,176.4 L846.7,177.1 L846.6,176.7 L846.7,178.1 L846.4,179.3 L846.5,181.0 L846.8,182.1 L846.7,183.5 L846.9,184.8 L847.0,185.7 L846.8,185.2 L847.0,186.7 L847.2,187.7 L846.8,189.5 L847.3,191.0 L847.4,191.3 L847.3,191.1 L847.5,193.7 L847.6,193.8 L847.7,195.5 L847.7,196.4 L847.5,197.5 L847.6,199.1 L847.6,199.5 L847.5,200.3 L847.8,201.2 L847.9,201.6 L847.6,204.2 L847.9,205.0 L847.6,205.7 L847.7,207.7 L847.9,207.6 L848.3,207.4 L848.0,206.2 L847.8,203.5 L848.4,204.1 L848.4,203.3 L848.5,200.9 L848.5,200.6 L848.6,198.5 L848.4,198.0 L848.5,197.8 L848.8,196.7 L848.3,196.2 L849.0,194.8 L848.8,194.0 L848.5,191.5 L849.0,191.3 L848.6,190.3 L849.2,188.4 L849.0,187.1 L849.0,186.5 L849.4,186.9 L848.9,184.9 L849.0,183.3 L849.5,182.7 L849.2,181.7 L849.2,180.2 L849.5,179.8 L849.8,181.7 L849.8,183.1 L850.2,184.7 L850.3,184.8 L850.3,184.7 L850.3,186.5 L850.7,188.9 L851.0,188.6 L851.0,190.6 L851.4,191.4 L851.5,191.1 L851.8,193.6 L851.7,194.0 L851.7,192.4 L852.0,191.8 L851.6,191.6 L851.8,189.1 L852.2,189.9 L851.8,187.6 L852.1,186.5 L852.2,185.2 L852.1,185.0 L852.2,184.9 L852.4,183.1 L852.7,181.7 L852.4,181.2 L852.4,180.0 L852.5,178.4 L852.4,178.6 L852.6,176.9 L852.5,176.6 L852.7,174.8 L853.0,173.6 L852.7,173.2 L853.0,171.8 L853.8,173.7 L853.9,172.5 L854.7,174.3 L855.1,175.5 L854.6,175.6 L854.8,177.1 L855.0,178.2 L855.0,179.7 L855.6,180.3 L855.6,181.0 L855.6,182.3 L855.8,182.5 L855.6,185.1 L855.7,186.3 L855.8,187.7 L855.8,188.4 L855.9,189.4 L856.0,190.2 L856.4,191.2 L856.5,191.9 L856.7,192.4 L856.7,194.0 L856.5,192.8 L857.2,193.0 L857.0,189.9 L856.9,190.2 L857.0,189.1 L857.0,187.2 L857.7,187.1 L857.5,185.6 L857.4,184.4 L857.9,183.3 L857.8,183.0 L858.2,181.6 L858.3,179.9 L858.2,180.1 L858.5,179.5 L858.5,176.9 L858.7,176.3 L858.6,175.5 L859.1,173.6 L859.6,172.4 L859.9,171.7 L860.5,171.7 L860.7,170.0 L861.4,170.0 L861.6,168.1 L862.0,166.8 L861.8,166.8 L861.8,165.6 L862.0,163.6 L862.6,162.8 L862.6,162.0 L862.5,159.5 L862.8,159.4 L863.2,159.4 L863.0,157.3 L863.8,156.4 L863.8,154.7 L864.2,154.2 L864.5,153.4 L864.7,153.2 L864.8,151.6 L865.2,149.7 L865.2,148.4 L865.8,148.3 L865.7,146.2 L866.0,145.9 L866.2,145.9 L866.5,148.7 L867.2,149.3 L867.3,149.2 L867.7,149.9 L867.8,151.1 L868.2,152.6 L868.7,152.6 L869.0,154.5 L869.5,154.5 L869.5,156.7 L869.6,157.5 L869.6,158.8 L870.3,160.1 L870.2,160.7 L870.5,159.6 L870.6,159.1 L870.8,157.0 L870.9,156.0 L870.9,154.9 L871.1,154.3 L870.9,152.4 L871.1,153.1 L871.4,152.2 L871.5,149.8 L871.9,149.5 L872.0,148.8 L872.0,148.0 L872.0,145.9 L871.9,146.9 L872.0,148.7 L872.3,148.8 L872.0,149.3 L872.3,151.5 L872.5,152.5 L872.3,154.1 L872.4,153.3 L872.4,156.1 L872.6,156.7 L872.9,157.8 L872.8,158.2 L872.6,158.8 L872.7,159.4 L873.2,160.7 L873.2,161.3 L873.4,162.4 L873.0,164.8 L873.4,165.7 L873.1,167.2 L873.5,168.4 L873.2,169.4 L873.7,170.5 L873.7,169.8 L873.6,172.0 L873.5,173.0 L873.7,172.9 L873.6,175.4 L873.9,175.1 L874.0,176.7 L874.7,178.0 L874.8,178.9 L875.5,179.3 L876.2,181.6 L876.4,181.7 L877.1,181.0 L877.9,180.8 L878.9,179.2 L878.9,181.1 L878.9,180.4 L879.3,182.0 L879.8,183.6 L880.0,184.0 L879.8,186.2 L879.8,185.4 L880.1,186.6 L880.3,189.2 L880.8,188.3 L880.8,190.3 L880.8,191.7 L881.1,192.6 L880.9,192.1 L881.4,194.0 L881.2,195.6 L881.6,196.6 L881.5,198.0 L882.2,197.1 L882.2,198.4 L882.3,199.4 L882.4,200.5 L882.6,202.6 L882.6,204.0 L882.9,204.3 L883.1,206.1 L883.1,205.2 L883.1,206.2 L883.3,209.1 L883.8,209.1 L883.4,210.7 L883.8,211.3 L884.1,213.4 L884.3,214.2 L884.1,215.6 L884.1,214.6 L884.2,216.6 L884.5,218.2 L884.7,219.3 L884.7,219.7 L884.8,220.0 L885.0,222.1 L885.3,222.1 L885.5,225.0 L885.5,225.2 L885.8,226.1 L885.5,226.1 L886.1,228.2 L885.7,229.5 L886.1,229.9 L886.1,230.6 L886.0,232.1 L885.6,233.3 L886.1,233.5 L886.0,235.6 L886.2,237.4 L886.3,237.2 L886.1,238.4 L886.1,238.7 L885.8,240.0 L885.8,241.6 L886.4,243.5 L885.9,244.2 L886.0,244.6 L886.3,246.5 L886.3,246.2 L886.0,247.0 L886.0,247.7 L885.9,250.3 L886.4,250.4 L886.5,250.9 L886.4,252.2 L886.2,253.6 L886.3,254.5 L886.2,255.8 L886.3,257.0 L886.3,256.0 L886.5,255.1 L886.8,253.8 L887.0,251.9 L887.0,252.0 L887.7,250.0 L887.3,249.5 L887.9,249.1 L887.7,247.8 L887.9,247.6 L888.4,245.8 L888.6,245.2 L888.8,243.4 L888.9,242.3 L888.9,240.4 L888.8,241.3 L888.8,239.3 L888.9,238.1 L889.0,237.5 L888.7,236.6 L889.0,235.9 L889.2,233.5 L889.1,232.6 L889.1,231.9 L888.8,231.5 L889.1,230.4 L889.3,229.2 L889.2,227.1 L889.1,226.3 L889.3,225.4 L889.0,224.8 L889.2,223.4 L889.2,222.5 L888.9,222.2 L889.0,220.3 L889.3,219.0 L889.3,219.1 L889.5,218.2 L889.5,217.4 L889.4,216.4 L889.1,215.1 L889.2,214.1 L889.4,212.7 L889.3,211.2 L889.6,211.6 L889.2,210.4 L889.7,208.6 L889.6,208.6 L889.7,207.7 L889.8,206.5 L889.7,204.6 L889.6,203.0 L889.6,203.1 L889.7,201.3 L889.6,200.8 L889.6,200.3 L889.8,198.7 L889.8,198.5 L889.8,197.4 L889.6,196.7 L889.5,193.9 L889.5,194.1 L890.0,191.6 L889.5,191.7 L889.8,190.6 L889.8,188.5 L890.0,188.1 L890.1,187.5 L890.0,186.1 L890.2,186.3 L890.2,183.9 L890.2,182.5 L889.8,182.9 L889.7,182.1 L890.0,180.4 L889.9,182.0 L889.9,182.1 L890.5,184.0 L890.6,183.6 L890.2,184.8 L890.2,186.7 L890.8,187.0 L890.5,188.1 L890.8,189.7 L890.7,191.0 L890.7,191.8 L890.6,193.0 L890.8,193.4 L891.3,193.3 L891.3,194.8 L891.3,197.4 L891.6,197.9 L891.6,198.7 L891.7,199.1 L891.8,200.4 L891.4,200.7 L891.8,202.0 L891.9,203.9 L891.8,203.8 L892.1,205.0 L892.0,206.4 L892.3,204.7 L892.1,204.3 L892.4,203.1 L892.6,201.8 L893.1,201.9 L892.9,201.4 L893.4,200.2 L893.3,198.1 L893.6,197.9 L893.7,196.5 L893.8,197.9 L893.6,198.9 L893.7,199.4 L894.3,201.4 L893.9,200.8 L894.0,201.8 L894.5,203.3 L894.3,203.8 L894.4,204.5 L894.3,207.1 L894.3,207.7 L894.5,209.4 L894.9,209.7 L894.5,209.5 L895.1,211.5 L894.8,212.0 L895.0,213.6 L894.9,215.1 L895.0,214.8 L895.4,217.4 L895.1,218.3 L895.3,218.4 L895.3,220.1 L895.3,219.5 L895.3,221.3 L895.6,221.6 L895.7,223.6 L895.9,221.9 L896.1,221.2 L895.9,220.6 L896.5,220.2 L896.4,218.6 L896.8,217.0 L896.4,215.7 L897.0,216.1 L896.8,214.7 L896.9,212.8 L897.2,211.7 L897.1,211.6 L897.8,210.6 L898.0,210.1 L897.7,209.0 L898.1,206.5 L898.1,206.4 L898.5,207.3 L898.7,207.7 L898.3,210.5 L899.0,210.3 L899.0,211.7 L898.8,211.9 L899.4,213.8 L899.2,215.1 L899.3,215.8 L900.0,217.5 L899.9,218.4 L900.0,218.2 L900.2,219.7 L900.6,221.4 L900.5,221.7 L900.4,222.9 L900.9,223.7 L900.7,224.5 L901.1,226.1 L901.1,224.9 L901.4,223.7 L901.5,224.0 L901.6,222.6 L902.1,221.3 L902.2,220.1 L902.1,219.7 L902.5,218.5 L902.7,216.2 L902.7,216.1 L903.0,214.8 L903.5,213.5 L903.5,213.0 L903.9,212.7 L903.8,211.9 L904.1,210.3 L904.0,209.1 L904.2,207.4 L904.9,206.3 L904.8,206.4 L904.9,206.5 L904.9,208.5 L905.2,209.4 L905.1,211.3 L905.1,212.5 L905.2,211.6 L905.5,214.0 L905.8,215.0 L905.7,214.7 L906.2,216.1 L906.1,218.4 L906.2,218.8 L906.2,220.5 L906.6,220.7 L906.2,220.7 L906.4,223.5 L907.0,223.5 L906.8,223.9 L907.0,225.2 L907.3,227.4 L907.0,227.0 L907.3,228.6 L907.1,227.8 L907.5,225.8 L907.7,226.0 L907.6,224.0 L907.8,222.5 L908.0,221.8 L908.0,221.2 L908.6,220.4 L908.2,219.1 L908.4,218.9 L908.8,217.1 L908.9,215.8 L909.1,214.6 L909.2,213.9 L909.2,214.3 L909.3,212.0 L909.2,210.9 L909.4,209.2 L909.6,209.4 L909.9,208.3 L909.8,208.1 L910.0,206.2 L910.1,205.9 L910.1,204.9 L910.4,202.3 L910.6,202.4 L910.8,201.3 L910.8,199.3 L911.0,199.0 L911.2,200.7 L911.3,200.8 L911.1,201.8 L911.1,202.0 L911.0,203.1 L911.1,205.8 L911.7,206.6 L911.5,206.4 L911.4,208.4 L911.3,209.7 L911.7,210.6 L911.5,211.4 L912.1,211.9 L912.0,212.6 L911.7,214.7 L912.0,214.6 L912.1,215.3 L912.0,216.4 L912.2,218.2 L912.1,218.5 L912.6,220.1 L912.1,221.9 L912.5,222.1 L912.8,224.0 L912.5,223.6 L912.4,224.4 L912.9,225.3 L912.6,227.1 L912.6,227.4 L912.6,229.5 L913.0,230.7 L913.0,231.0 L913.6,229.3 L914.4,228.1 L915.4,229.3 L915.9,227.3 L916.4,227.4 L916.7,228.6 L917.0,231.3 L917.7,231.4 L918.3,231.9 L918.4,233.5 L918.5,232.6 L918.7,231.4 L918.9,230.0 L919.1,229.5 L918.8,229.3 L919.2,227.5 L919.4,226.4 L919.2,224.7 L919.6,225.2 L920.0,223.6 L920.1,222.0 L920.0,221.3 L920.5,222.7 L920.6,224.6 L921.2,225.2 L921.6,225.6 L921.6,227.7 L921.9,227.0 L921.9,229.3 L922.3,230.1 L922.0,229.9 L922.4,230.6 L922.4,231.8 L922.7,234.4 L922.6,235.3 L923.1,235.0 L922.9,235.9 L923.3,238.4 L923.2,238.6 L923.1,237.3 L923.3,236.0 L923.4,235.9 L923.7,233.5 L924.0,234.6 L924.2,233.5 L924.2,231.8 L924.4,231.2 L924.1,230.4 L924.8,228.4 L924.6,228.3 L924.6,226.2 L924.9,225.6 L925.4,224.8 L925.2,222.4 L925.8,222.3 L926.4,221.4 L926.5,220.2 L926.9,219.8 L927.1,218.3 L927.2,217.9 L927.5,215.1 L927.7,215.3 L927.8,213.8 L928.0,215.1 L928.0,215.7 L928.9,216.9 L929.1,217.0 L929.2,219.2 L929.3,219.0 L929.8,216.8 L929.7,216.2 L929.9,213.9 L930.4,214.5 L930.7,213.6 L930.8,211.6 L932.1,210.5 L932.2,212.4 L932.2,213.2 L932.6,212.9 L933.0,215.6 L933.1,215.6 L933.0,218.1 L933.3,217.9 L933.5,218.2 L933.5,220.2 L933.7,221.5 L933.7,223.1 L933.5,222.9 L933.7,225.3 L933.8,225.7 L934.2,225.7 L934.0,227.0 L934.4,229.3 L934.0,228.5 L934.3,230.4 L934.2,230.8 L934.6,232.4 L934.5,233.1 L934.6,233.6 L934.5,234.8 L934.9,236.4 L934.5,238.0 L934.7,238.1 L934.9,239.7 L935.0,239.1 L935.4,237.8 L935.4,236.0 L935.5,236.1 L935.5,235.4 L936.1,233.2 L936.0,231.1 L936.2,231.0 L937.0,230.4 L937.8,228.9 L937.7,230.8 L938.1,231.8 L938.2,232.8 L938.1,232.9 L938.6,233.6 L938.5,234.7 L939.0,236.9 L938.9,236.9 L939.0,239.0 L939.2,239.7 L939.1,238.9 L939.6,238.0 L939.3,237.3 L939.7,235.0 L939.3,235.4 L939.5,234.6 L939.9,232.4 L939.7,232.3 L939.8,231.4 L939.7,228.5 L939.8,229.4 L940.2,227.1 L940.4,226.5 L940.0,226.0 L940.4,224.2 L940.6,223.9 L940.2,221.2 L940.2,220.8 L940.5,220.2 L940.6,220.0 L940.8,218.0 L941.3,216.0 L941.4,216.7 L941.6,214.8 L941.9,215.8 L941.9,216.8 L941.9,219.1 L942.4,220.0 L942.3,220.0 L942.9,222.1 L942.9,222.4 L943.0,223.2 L943.6,224.5 L943.7,226.0 L943.6,225.9 L943.7,228.3 L944.3,230.0 L944.4,230.9 L944.6,231.0 L945.2,231.8 L945.1,232.3 L945.7,234.7 L945.9,235.4 L946.3,234.4 L946.4,232.7 L946.6,231.2 L946.5,232.1 L946.8,230.7 L946.9,228.1 L946.9,227.2 L947.4,226.8 L947.4,224.8 L947.5,224.6 L948.5,223.2 L949.2,222.4 L949.7,222.0 L949.4,221.0 L949.7,219.6 L950.1,219.1 L950.5,217.0 L950.6,214.9 L950.7,215.3 L950.9,213.8 L951.1,212.5 L950.8,211.1 L951.4,211.5 L951.3,209.4 L951.5,210.1 L951.6,210.6 L951.5,212.3 L951.6,213.6 L951.6,214.4 L951.9,215.3 L952.0,216.6 L952.2,218.1 L952.9,217.0 L953.5,215.9 L954.3,216.9 L955.9,216.5 L956.7,217.0 L958.2,217.4 L959.4,218.1 L959.9,218.5 L960.8,220.1 L961.2,221.7 L961.6,222.4 L963.2,223.5 L963.5,224.7 L963.5,224.6 L963.8,227.3 L964.2,226.8 L964.3,228.9 L965.2,229.0 L965.9,231.0 L966.4,229.1 L966.1,228.3 L966.5,227.0 L966.8,226.2 L967.0,225.6 L966.8,226.9 L967.2,228.4 L967.5,228.0 L967.8,229.5 L967.7,231.9 L968.0,232.2 L968.2,232.5 L968.3,233.6 L968.4,235.4 L969.0,235.4 L969.2,232.3 L969.6,231.6 L969.7,231.0 L970.3,233.1 L971.3,233.2 L972.3,231.9 L972.9,231.0 L973.2,231.8 L973.1,232.8 L973.2,233.3 L973.3,234.4 L973.0,235.0 L973.3,236.5 L973.5,237.2 L973.4,238.4 L973.4,239.3 L973.7,241.0 L973.4,242.5 L973.5,243.3 L973.8,244.5 L974.0,244.9 L973.9,246.8 L974.0,246.4 L974.2,248.7 L974.0,249.4 L974.2,247.7 L974.1,248.4 L974.0,247.4 L974.5,246.1 L974.6,245.4 L974.6,242.5 L974.8,241.4 L974.9,241.5 L974.6,240.6 L975.0,240.3 L974.7,237.4 L975.2,236.7 L975.1,236.4 L975.7,234.9 L976.6,235.4 L977.2,234.3 L977.7,232.8 L977.8,231.5 L978.4,230.5 L978.9,230.0 L979.0,228.3 L979.6,226.7 L980.3,226.7 L980.5,225.6 L981.1,223.8 L981.5,223.4 L981.7,222.8 L982.1,221.3 L983.7,220.2 L983.9,219.4 L984.2,217.9 L984.3,217.9 L984.2,215.6 L984.3,213.8 L984.4,212.9 L984.9,211.7 L984.8,211.6 L986.4,210.5 L988.0,211.6 L988.0,211.4 L988.3,209.8 L988.4,208.8 L988.9,208.4 L989.1,205.2 L989.2,204.7 L989.6,204.4 L989.7,203.0 L989.6,203.5 L989.7,204.5 L989.6,205.7 L989.7,207.8 L989.9,207.6 L989.8,209.2 L989.7,210.3 L990.3,211.1 L990.2,213.2 L990.1,212.9 L990.2,214.3 L990.5,215.4 L990.5,216.2 L990.5,216.8 L990.2,218.3 L990.6,220.2 L990.4,220.0 L990.3,221.3 L990.6,223.2 L990.6,223.9 L990.3,223.7 L990.5,225.7 L990.6,226.3 L990.6,228.2 L990.6,227.8 L990.8,229.3 L990.6,230.5 L990.6,231.7 L991.2,232.5 L990.8,233.7 L991.0,233.5 L991.0,236.3 L991.4,236.3 L991.3,237.5 L991.2,238.6 L991.3,239.7 L991.5,238.6 L991.3,237.7 L991.6,236.1 L991.6,235.8 L991.6,234.0 L992.0,232.4 L991.8,231.1 L992.4,231.3 L992.2,230.9 L992.4,228.9 L992.8,228.3 L993.4,226.8 L994.0,225.6 L995.1,224.8 L996.1,225.6 L996.6,226.4 L997.7,227.2 L998.3,228.9 L999.1,229.0 L999.5,230.7 L1000.5,232.1 L1000.7,233.4 L1001.5,233.6 L1001.6,235.4 L1002.1,236.4 L1002.4,235.3 L1002.7,233.2 L1003.1,232.5 L1003.7,232.1 L1004.8,232.8 L1005.3,234.3 L1005.6,236.1 L1006.1,235.6 L1006.4,237.5 L1006.5,238.1 L1006.7,239.0 L1006.9,241.8 L1006.9,241.4 L1007.4,242.6 L1007.7,244.6 L1008.1,244.5 L1008.0,246.2 L1008.1,247.3 L1008.2,247.4 L1008.1,249.3 L1008.4,249.4 L1008.4,250.7 L1008.7,252.7 L1008.8,252.5 L1008.9,254.8 L1008.8,254.5 L1009.0,255.6 L1009.2,257.3 L1009.0,258.4 L1009.1,259.1 L1009.2,260.9 L1009.4,260.9 L1009.5,262.7 L1009.3,264.1 L1009.3,264.0 L1009.4,266.2 L1009.7,266.3 L1009.6,267.6 L1009.6,267.7 L1009.7,268.9 L1009.9,269.5 L1010.3,272.1 L1010.2,272.1 L1010.6,274.3 L1010.2,275.3 L1010.5,274.8 L1010.5,275.9 L1010.7,276.5 L1010.5,279.5 L1010.9,279.5 L1011.2,281.1 L1010.9,282.4 L1010.8,282.9 L1011.1,284.2 L1011.1,285.1 L1011.3,285.6 L1011.6,286.0 L1011.5,287.2 L1011.9,289.8 L1011.5,289.5 L1011.8,290.9 L1011.7,290.8 L1011.8,292.2 L1012.2,294.2 L1012.0,295.2 L1012.4,294.9 L1012.1,296.7 L1012.5,298.3 L1012.7,298.3 L1013.0,300.0 L1012.7,302.2 L1013.2,301.3 L1012.8,303.1 L1012.9,304.4 L1013.1,306.2 L1013.3,307.3 L1013.3,307.3 L1013.7,305.5 L1013.6,305.0 L1013.9,303.1 L1014.2,302.2 L1013.9,301.7 L1014.0,300.6 L1014.6,299.6 L1014.9,299.4 L1014.8,298.1 L1014.9,296.5 L1014.9,297.0 L1015.4,297.5 L1015.4,298.9 L1015.8,299.6 L1015.6,302.1 L1015.8,301.6 L1016.1,303.5 L1016.6,303.5 L1016.5,306.3 L1016.5,305.8 L1017.1,306.9 L1017.2,308.2 L1017.3,309.9 L1017.6,310.2 L1017.8,311.9 L1017.9,313.4 L1018.0,313.5 L1017.9,313.5 L1017.9,314.5 L1018.3,315.9 L1018.0,316.9 L1018.5,318.2 L1018.4,319.9 L1018.2,321.7 L1018.3,322.1 L1018.7,322.0 L1018.9,322.7 L1018.6,324.2 L1018.7,324.8 L1018.7,326.2 L1019.0,326.9 L1018.8,328.7 L1019.3,330.8 L1019.3,330.3 L1019.4,333.0 L1019.6,332.5 L1019.3,333.7 L1019.5,335.1 L1019.9,333.2 L1019.9,333.1 L1020.2,332.1 L1020.4,331.7 L1020.7,329.1 L1021.0,328.4 L1021.1,326.9 L1021.2,326.2 L1021.6,326.1 L1021.8,325.8 L1021.9,322.8 L1022.2,323.8 L1022.0,321.6 L1022.7,321.5 L1022.6,319.6 L1022.6,319.9 L1022.9,322.8 L1023.2,321.9 L1023.4,324.8 L1024.1,323.8 L1023.9,326.2 L1024.1,326.0 L1024.9,328.2 L1024.6,327.9 L1024.9,329.2 L1025.4,329.9 L1025.7,332.0 L1025.7,334.0 L1025.8,333.5 L1026.1,335.8 L1025.9,336.6 L1025.8,337.3 L1025.9,338.6 L1026.2,338.0 L1026.1,340.5 L1026.1,341.5 L1026.0,341.3 L1026.2,342.3 L1026.4,343.4 L1026.5,344.2 L1026.1,347.0 L1026.4,348.0 L1026.7,348.4 L1026.7,348.3 L1026.8,349.8 L1026.5,351.9 L1026.7,351.9 L1026.7,352.4 L1026.7,354.7 L1027.2,356.2 L1026.9,355.8 L1026.8,357.5 L1026.9,358.3 L1027.1,358.4 L1027.0,359.6 L1027.1,361.5 L1027.4,362.6 L1027.4,363.5 L1027.2,363.8 L1027.2,364.9 L1027.6,365.1 L1027.8,367.8 L1027.9,368.6 L1027.9,370.3 L1028.0,370.6 L1027.8,370.3 L1027.6,371.3 L1027.8,372.5 L1027.8,375.1 L1027.9,375.0 L1028.0,376.4 L1028.3,378.0 L1028.1,378.3 L1028.2,378.2 L1028.4,377.2 L1028.2,375.8 L1028.2,374.4 L1028.6,372.9 L1028.4,371.3 L1028.6,370.3 L1028.5,370.8 L1028.3,369.1 L1028.5,368.9 L1028.6,367.7 L1028.4,366.2 L1028.4,365.2 L1029.0,364.4 L1028.8,362.0 L1029.0,361.7 L1028.7,361.8 L1028.8,359.7 L1028.8,358.0 L1028.7,359.0 L1029.1,358.1 L1029.1,355.9 L1029.0,354.6 L1029.3,353.1 L1029.4,353.9 L1029.3,352.1 L1029.2,351.7 L1029.1,350.2 L1029.1,350.0 L1029.1,348.6 L1029.7,347.0 L1029.6,345.1 L1029.6,345.9 L1029.4,343.7 L1029.4,342.5 L1029.7,341.6 L1029.4,340.6 L1030.0,340.0 L1029.8,339.6 L1029.6,336.7 L1030.2,336.5 L1029.8,336.2 L1029.9,334.6 L1030.0,333.7 L1030.1,332.5 L1030.4,330.7 L1030.4,330.1 L1030.8,328.6 L1031.0,327.6 L1031.1,328.0 L1031.4,327.0 L1031.2,326.0 L1031.8,325.1 L1031.4,323.3 L1032.2,322.9 L1032.1,321.4 L1032.2,319.3 L1032.4,318.5 L1032.4,317.2 L1032.8,317.0 L1033.2,319.0 L1033.4,318.3 L1033.1,319.4 L1033.5,322.0 L1033.3,321.6 L1033.8,322.7 L1033.7,324.0 L1034.0,325.0 L1034.1,325.8 L1034.3,327.8 L1034.6,328.1 L1035.1,328.1 L1035.0,326.9 L1035.4,324.6 L1035.3,324.5 L1035.8,322.6 L1035.7,322.1 L1036.1,321.3 L1036.2,319.8 L1036.3,319.7 L1036.9,317.9 L1036.7,316.6 L1037.1,315.7 L1037.4,315.2 L1037.5,315.5 L1037.8,317.5 L1038.3,317.6 L1038.5,319.0 L1038.5,320.3 L1038.7,322.2 L1039.2,322.3 L1039.2,324.0 L1039.6,324.4 L1039.8,323.2 L1039.4,322.6 L1039.8,321.2 L1039.4,319.8 L1039.8,318.4 L1039.9,318.7 L1039.9,318.0 L1040.0,317.4 L1040.0,314.9 L1039.9,313.8 L1039.8,313.5 L1040.1,311.3 L1040.1,312.4 L1039.6,309.8 L1039.8,309.9 L1040.1,309.1 L1039.9,307.7 L1040.3,306.2 L1039.9,305.8 L1040.0,303.4 L1040.1,304.2 L1040.2,302.8 L1040.3,302.2 L1039.8,300.1 L1039.8,299.0 L1040.0,299.2 L1040.3,296.5 L1040.2,296.7 L1040.3,295.1 L1040.4,294.5 L1040.0,293.6 L1040.3,292.3 L1040.5,290.8 L1040.1,289.7 L1040.1,288.3 L1040.4,288.2 L1040.3,286.3 L1040.5,286.8 L1040.3,285.0 L1040.5,284.1 L1040.6,283.4 L1040.4,283.0 L1040.2,282.0 L1040.4,280.1 L1040.5,278.2 L1040.4,277.8 L1040.4,276.0 L1040.3,275.3 L1040.4,275.3 L1040.5,274.0 L1040.3,273.9 L1040.9,270.9 L1040.9,271.5 L1040.7,270.4 L1040.8,268.6 L1040.7,267.5 L1040.9,266.6 L1041.0,265.0 L1040.5,265.5 L1040.5,262.9 L1041.1,261.9 L1041.1,261.6 L1040.7,261.0 L1040.7,259.9 L1040.9,259.9 L1040.6,257.6 L1041.1,257.4 L1041.1,255.1 L1040.8,255.5 L1041.2,253.2 L1041.3,253.1 L1040.8,252.2 L1041.2,250.8 L1041.0,248.9 L1040.9,249.8 L1041.0,246.6 L1041.1,246.7 L1041.5,246.6 L1041.8,248.8 L1042.5,249.4 L1043.0,250.4 L1042.9,252.3 L1043.4,252.6 L1043.1,253.0 L1043.4,255.4 L1043.7,255.0 L1043.8,256.8 L1043.7,257.2 L1043.7,258.5 L1044.0,259.7 L1043.7,260.9 L1044.3,262.6 L1043.9,263.6 L1044.3,263.5 L1044.0,264.0 L1044.2,265.5 L1044.4,267.0 L1044.8,265.7 L1044.9,265.4 L1044.5,264.0 L1044.7,263.3 L1044.7,262.0 L1044.8,261.9 L1045.0,260.7 L1045.5,259.8 L1045.4,257.4 L1045.2,257.6 L1045.5,256.7 L1045.7,255.8 L1045.7,254.1 L1045.6,255.0 L1045.6,255.9 L1046.0,256.8 L1046.0,257.8 L1046.0,258.6 L1046.0,261.0 L1045.9,260.6 L1046.5,263.0 L1046.4,264.0 L1046.3,264.8 L1046.7,264.8 L1046.5,265.6 L1046.4,266.8 L1046.7,267.2 L1046.9,268.9 L1046.7,270.8 L1046.5,270.4 L1047.1,272.2 L1046.6,274.4 L1047.2,275.1 L1047.2,274.4 L1047.0,276.1 L1047.1,276.3 L1047.2,278.9 L1047.4,279.8 L1047.5,280.3 L1047.5,281.8 L1047.6,283.6 L1047.7,282.6 L1047.8,284.3 L1047.6,285.6 L1047.5,285.8 L1047.6,288.3 L1047.8,288.8 L1047.8,289.8 L1047.7,291.1 L1047.5,292.5 L1047.8,292.9 L1047.5,293.0 L1047.9,294.3 L1047.9,295.8 L1047.9,297.6 L1047.8,296.6 L1048.0,298.5 L1048.1,300.1 L1047.7,300.1 L1048.1,301.8 L1048.1,302.5 L1047.7,302.8 L1047.8,305.2 L1048.2,306.4 L1048.0,307.1 L1048.2,308.0 L1048.0,309.3 L1047.8,310.7 L1048.0,310.4 L1048.0,311.7 L1048.3,311.8 L1047.8,314.1 L1048.2,315.1 L1048.3,315.5 L1047.9,316.4 L1048.2,318.0 L1048.3,317.7 L1048.5,319.7 L1048.4,320.5 L1048.1,322.1 L1048.1,322.8 L1048.6,324.6 L1048.3,323.8 L1048.2,326.5 L1048.5,326.9 L1048.4,328.5 L1048.2,329.1 L1048.2,329.0 L1048.7,330.5 L1048.4,332.0 L1048.3,333.7 L1048.5,333.7 L1048.9,334.3 L1048.5,336.7 L1048.6,337.3 L1049.1,338.8 L1048.9,339.0 L1049.4,340.9 L1049.4,341.1 L1049.5,340.0 L1049.8,338.6 L1050.2,337.5 L1050.3,337.4 L1050.5,335.3 L1050.3,335.8 L1050.9,333.3 L1050.9,333.0 L1051.1,332.9 L1051.0,329.9 L1051.3,330.0 L1051.5,328.0 L1051.3,327.5 L1051.4,326.9 L1051.7,325.0 L1051.2,325.9 L1051.7,322.9 L1051.7,322.6 L1051.4,321.3 L1051.5,321.3 L1051.8,319.8 L1051.5,318.8 L1051.6,318.4 L1051.7,316.2 L1051.5,315.8 L1051.7,314.0 L1051.6,312.7 L1051.8,312.6 L1051.8,311.9 L1052.0,310.3 L1051.9,309.0 L1052.2,307.8 L1052.0,307.4 L1051.8,307.4 L1051.8,305.8 L1051.9,303.8 L1051.9,303.6 L1051.9,302.8 L1052.3,301.1 L1052.2,300.4 L1052.8,301.3 L1052.7,303.3 L1053.1,303.6 L1053.6,305.1 L1053.4,306.3 L1053.8,307.4 L1054.1,307.8 L1054.5,307.4 L1054.5,306.7 L1054.6,303.8 L1054.8,302.9 L1055.2,302.7 L1055.5,301.1 L1055.6,300.4 L1055.9,299.8 L1055.5,298.4 L1055.7,297.0 L1056.2,296.1 L1056.0,295.2 L1056.0,294.1 L1056.4,293.6 L1056.2,292.9 L1056.2,292.2 L1056.6,289.2 L1056.7,288.2 L1056.5,288.5 L1056.7,288.0 L1056.6,286.3 L1056.8,285.2 L1057.0,284.8 L1057.3,282.4 L1057.0,281.3 L1057.5,280.5 L1057.4,280.0 L1057.7,282.0 L1058.0,281.9 L1058.3,283.3 L1058.7,284.0 L1059.3,285.6 L1059.4,284.4 L1059.5,282.9 L1059.2,283.4 L1059.5,282.3 L1059.6,281.0 L1059.6,279.2 L1059.4,278.9 L1059.7,277.9 L1059.5,275.2 L1059.7,274.6 L1059.8,274.6 L1059.6,272.4 L1059.7,272.3 L1060.1,270.7 L1059.9,270.5 L1060.0,270.0 L1060.0,268.9 L1060.4,266.2 L1060.5,264.8 L1060.0,264.7 L1060.6,264.6 L1060.3,262.3 L1060.5,262.6 L1060.4,260.2 L1060.6,259.6 L1060.9,260.1 L1060.9,262.3 L1060.6,261.9 L1060.8,263.5 L1061.1,265.4 L1061.2,265.0 L1061.1,268.0 L1061.5,267.2 L1061.5,269.3 L1061.7,270.9 L1061.5,271.0 L1061.4,272.9 L1061.9,273.2 L1061.9,274.4 L1062.6,275.2 L1062.5,276.7 L1063.3,278.1 L1063.4,279.3 L1063.8,279.7 L1063.8,281.0 L1063.9,282.6 L1064.2,282.3 L1063.8,283.1 L1064.3,285.2 L1064.1,286.9 L1064.4,287.4 L1064.7,288.1 L1064.5,288.0 L1064.4,289.6 L1064.8,291.1 L1064.9,292.6 L1065.0,292.8 L1065.0,293.2 L1064.7,295.4 L1064.8,295.9 L1065.3,296.2 L1065.3,298.1 L1065.1,298.2 L1064.9,299.3 L1065.4,302.0 L1065.2,302.3 L1065.2,302.6 L1065.4,304.2 L1065.6,306.0 L1065.2,306.4 L1065.2,308.2 L1065.3,307.9 L1065.5,308.5 L1065.9,311.5 L1065.4,311.7 L1065.9,313.1 L1065.5,312.7 L1066.0,314.6 L1065.7,316.4 L1066.0,315.8 L1065.8,316.8 L1066.1,318.6 L1066.1,320.1 L1065.9,320.1 L1066.2,322.4 L1066.1,322.6 L1065.9,321.1 L1066.1,321.2 L1066.2,320.1 L1066.3,318.3 L1066.5,316.5 L1066.4,317.5 L1066.2,314.4 L1066.7,314.3 L1066.7,313.2 L1066.7,312.0 L1066.7,312.2 L1066.8,309.9 L1066.8,309.0 L1066.6,307.2 L1067.1,307.3 L1067.2,305.1 L1066.7,305.8 L1067.0,304.1 L1067.1,303.4 L1067.3,301.8 L1067.5,301.6 L1067.0,299.1 L1067.1,299.1 L1067.1,297.6 L1067.6,297.9 L1067.3,296.7 L1067.3,295.4 L1067.7,293.5 L1068.0,293.7 L1068.0,292.1 L1067.9,290.7 L1068.0,289.0 L1068.1,288.8 L1067.9,288.8 L1068.1,286.3 L1068.4,285.1 L1067.9,284.4 L1068.1,284.1 L1068.3,283.9 L1068.4,282.4 L1068.4,280.2 L1068.5,280.0 L1068.6,281.2 L1068.6,282.6 L1068.5,282.7 L1068.5,284.2 L1068.9,285.5 L1068.8,286.7 L1068.9,286.7 L1069.2,287.6 L1068.9,288.3 L1069.1,290.6 L1069.3,291.9 L1069.1,291.4 L1069.3,293.2 L1069.4,295.0 L1069.2,295.6 L1069.7,295.4 L1069.6,297.7 L1069.4,299.0 L1069.7,299.4 L1069.8,300.4 L1069.7,302.4 L1069.9,301.6 L1070.4,303.9 L1070.4,305.0 L1070.2,306.7 L1070.6,306.9 L1070.7,308.5 L1070.3,308.1 L1070.7,309.6 L1071.0,311.0 L1071.0,311.9 L1070.7,313.7 L1071.2,314.0 L1071.1,315.2 L1071.8,316.8 L1072.6,317.0 L1073.5,317.0 L1074.5,315.7 L1075.4,315.2 L1075.3,316.8 L1075.9,317.1 L1076.4,318.2 L1076.5,319.2 L1076.9,319.6 L1077.2,321.0 L1077.2,322.6 L1077.2,323.2 L1078.0,325.7 L1078.3,325.0 L1078.1,325.7 L1078.3,328.4 L1078.6,329.6 L1079.1,330.0 L1079.1,330.7 L1079.5,332.4 L1079.5,334.1 L1079.6,333.6 L1079.9,335.4 L1079.8,336.7 L1079.8,337.5 L1079.9,338.8 L1080.5,340.6 L1080.7,339.8 L1080.7,341.8 L1080.8,342.5 L1080.6,343.2 L1080.9,344.8 L1081.5,345.8 L1081.6,347.6 L1081.8,347.5 L1082.6,348.0 L1082.8,350.0 L1083.1,349.1 L1082.9,348.7 L1083.3,347.2 L1083.0,345.5 L1083.1,344.2 L1083.6,344.1 L1083.5,342.6 L1084.2,341.2 L1085.0,340.5 L1085.2,341.9 L1085.3,341.7 L1085.1,344.6 L1085.5,344.9 L1085.5,345.0 L1085.2,346.7 L1085.5,347.5 L1085.6,348.9 L1085.8,349.1 L1085.5,351.0 L1085.6,352.9 L1085.7,353.2 L1085.6,353.6 L1086.0,354.6 L1086.0,355.9 L1085.9,357.7 L1086.4,358.0 L1086.3,358.8 L1086.0,359.3 L1086.6,361.6 L1086.4,362.0 L1086.3,363.4 L1086.6,363.4 L1086.8,364.9 L1086.7,366.4 L1086.7,368.5 L1086.9,368.6 L1086.9,370.5 L1086.8,370.6 L1086.8,370.7 L1086.8,371.5 L1086.9,374.6 L1087.2,375.5 L1087.3,374.7 L1087.0,376.7 L1087.1,378.8 L1087.4,379.8 L1087.5,379.5 L1087.2,380.4 L1087.7,382.9 L1087.6,383.4 L1087.5,384.1 L1087.4,386.0 L1087.8,385.4 L1087.8,387.9 L1087.6,387.0 L1087.9,388.2 L1087.8,390.2 L1087.9,390.0 L1088.2,387.0 L1088.3,387.7 L1088.1,385.5 L1088.2,384.0 L1088.2,385.1 L1088.6,383.5 L1088.2,380.9 L1088.5,380.9 L1088.7,380.2 L1088.4,379.0 L1088.6,377.8 L1088.8,377.9 L1088.6,376.6 L1088.9,373.8 L1088.8,372.8 L1089.3,372.0 L1089.5,372.8 L1089.3,370.7 L1089.4,369.0 L1089.6,369.4 L1089.9,368.0 L1089.6,366.8 L1089.9,365.4 L1090.1,364.2 L1090.4,364.0 L1090.2,362.1 L1090.2,360.9 L1090.6,360.6 L1090.7,358.9 L1091.0,358.1 L1090.9,358.7 L1090.6,357.0 L1091.0,355.6 L1091.2,354.4 L1091.1,353.9 L1091.5,352.3 L1091.2,351.7 L1091.7,351.4 L1091.5,348.6 L1091.9,348.9 L1092.0,346.5 L1092.1,346.5 L1092.0,344.8 L1092.5,343.5 L1092.6,343.8 L1092.5,342.6 L1092.7,342.8 L1093.6,344.0 L1093.7,346.8 L1094.3,347.0 L1094.5,346.0 L1094.8,344.1 L1094.6,343.4 L1094.9,343.7 L1094.9,341.6 L1095.3,340.6 L1095.3,340.0 L1095.3,337.4 L1095.5,337.6 L1095.8,336.2 L1096.1,338.2 L1095.9,339.1 L1096.2,338.7 L1096.2,340.4 L1096.8,342.3 L1096.6,342.7 L1096.8,343.2 L1097.2,344.1 L1097.1,345.5 L1097.5,347.0 L1097.8,346.8 L1098.4,344.4 L1098.6,344.6 L1098.7,342.7 L1099.2,342.9 L1099.5,340.8 L1099.3,339.9 L1099.8,338.4 L1100.1,338.3 L1099.9,338.6 L1100.2,341.2 L1100.3,341.4 L1100.9,343.1 L1100.9,343.9 L1100.8,343.7 L1100.8,345.0 L1101.3,345.7 L1101.2,346.4 L1101.2,348.4 L1101.5,349.7 L1101.7,350.0 L1101.8,351.3 L1102.2,352.1 L1101.8,353.1 L1102.1,354.4 L1102.2,354.9 L1102.1,357.3 L1102.2,356.6 L1102.7,358.0 L1102.7,358.8 L1102.5,361.2 L1103.1,361.7 L1102.8,363.4 L1103.3,362.9 L1103.4,365.4 L1103.4,366.4 L1103.4,365.5 L1103.4,367.1 L1103.6,368.6 L1103.6,368.3 L1103.9,367.1 L1104.1,364.5 L1104.2,365.5 L1104.1,362.6 L1103.9,361.6 L1104.6,360.5 L1104.4,360.7 L1104.7,360.4 L1104.3,359.0 L1104.9,357.1 L1104.6,356.2 L1105.1,355.1 L1105.1,353.4 L1105.1,353.4 L1105.2,351.6 L1105.4,351.7 L1105.1,351.3 L1105.4,348.6 L1105.7,348.9 L1105.5,346.5 L1105.6,346.9 L1105.7,345.5 L1106.1,344.0 L1105.9,343.2 L1106.2,341.7 L1106.5,340.2 L1106.2,339.9 L1106.3,338.8 L1106.2,339.0 L1106.7,337.6 L1106.7,336.9 L1106.7,335.3 L1106.7,333.7 L1106.9,332.7 L1106.8,332.8 L1107.3,331.6 L1107.2,329.7 L1108.2,330.0 L1108.9,330.3 L1109.4,331.8 L1110.6,332.6 L1111.6,333.4 L1112.6,332.9 L1113.8,333.1 L1115.0,334.7 L1115.9,334.0 L1116.4,335.1 L1116.9,336.4 L1117.4,337.3 L1117.7,337.7 L1118.1,339.1 L1118.6,338.5 L1119.1,340.5 L1119.4,341.8 L1119.7,342.3 L1120.1,342.9 L1120.0,344.6 L1120.4,345.8 L1120.8,347.9 L1120.8,349.0 L1121.3,349.1 L1121.8,349.2 L1121.7,347.7 L1121.8,346.0 L1121.9,345.5 L1122.4,344.7 L1122.4,342.2 L1122.7,341.5 L1122.8,340.2 L1122.9,340.1 L1123.0,340.0 L1123.4,338.3 L1124.0,338.3 L1124.1,337.1 L1124.4,335.7 L1124.6,333.4 L1125.3,332.4 L1125.6,331.8 L1125.6,333.0 L1125.9,333.8 L1126.0,334.4 L1126.3,334.9 L1126.4,336.7 L1126.7,338.4 L1127.1,337.9 L1127.1,340.5 L1127.7,341.5 L1127.4,341.4 L1127.8,342.6 L1127.7,342.8 L1128.1,344.2 L1128.3,346.7 L1128.4,346.2 L1128.6,348.7 L1128.5,349.1 L1128.9,349.9 L1129.2,350.0 L1129.1,352.5 L1129.3,352.3 L1129.7,353.7 L1129.9,355.3 L1129.9,355.6 L1129.8,355.0 L1130.6,354.7 L1130.6,353.0 L1130.7,351.8 L1130.6,349.9 L1131.2,348.8 L1131.5,348.5 L1131.3,346.8 L1131.5,346.1 L1131.7,345.7 L1132.1,344.8 L1132.1,344.9 L1132.6,342.0 L1132.7,341.5 L1132.5,339.7 L1132.7,340.8 L1133.3,339.4 L1133.5,337.2 L1133.5,335.9 L1133.9,334.7 L1133.7,334.4 L1134.0,333.1 L1133.9,331.8 L1134.1,330.8 L1134.2,331.0 L1134.7,329.7 L1135.0,329.5 L1135.4,328.1 L1135.2,325.6 L1135.7,324.3 L1136.0,323.4 L1136.4,323.2 L1136.5,321.5 L1136.6,320.3 L1136.9,319.5 L1136.8,318.3 L1137.3,318.5 L1137.0,316.4 L1137.1,315.3 L1137.7,314.3 L1137.6,314.1 L1138.0,313.4 L1138.1,311.7 L1138.1,311.3 L1138.5,312.5 L1138.9,313.5 L1139.1,315.1 L1139.3,315.5 L1139.6,317.5 L1140.1,318.3 L1140.3,318.9 L1140.5,320.1 L1140.3,320.9 L1140.3,321.2 L1140.6,321.8 L1140.8,323.9 L1140.8,325.2 L1140.7,326.4 L1141.4,327.4 L1141.2,327.4 L1141.0,328.3 L1141.2,329.5 L1141.7,331.5 L1141.4,331.2 L1142.0,332.2 L1141.8,334.0 L1142.6,334.2 L1143.1,336.1 L1144.0,337.2 L1144.4,336.8 L1145.0,335.2 L1145.2,334.4 L1145.8,333.1 L1146.1,331.8 L1147.1,331.6 L1148.0,332.1 L1149.4,332.9 L1150.7,333.5 L1151.7,334.6 L1152.6,334.0 L1153.8,332.6 L1154.9,332.7 L1155.8,331.8 L1156.5,331.2 L1156.5,330.1 L1157.0,329.6 L1157.1,326.5 L1157.6,326.2 L1158.0,325.4 L1158.2,324.1 L1158.9,323.3 L1158.8,321.4 L1159.5,321.0 L1159.6,320.1 L1160.2,318.9 L1160.3,318.4 L1160.3,316.0 L1161.0,315.7 L1161.0,315.2 L1161.4,313.7 L1161.2,313.9 L1161.4,311.1 L1161.9,311.4 L1161.9,310.8 L1162.0,308.5 L1162.3,308.1 L1162.7,306.5 L1162.6,306.5 L1163.1,305.1 L1163.1,303.3 L1163.2,303.5 L1163.2,301.7 L1163.6,301.3 L1163.6,300.4 L1163.8,300.0 L1164.4,299.0 L1164.5,297.3 L1164.6,297.8 L1165.3,299.2 L1165.4,300.2 L1166.0,301.0 L1166.5,303.5 L1166.6,303.8 L1166.8,305.8 L1167.0,306.9 L1167.2,306.0 L1167.6,308.0 L1167.9,309.4 L1167.7,309.4 L1168.2,310.2 L1168.4,312.4 L1168.5,312.3 L1168.9,309.1 L1168.8,308.1 L1169.0,307.1 L1169.1,307.3 L1169.2,306.4 L1169.7,303.8 L1169.7,302.7 L1169.5,302.9 L1169.9,301.6 L1170.1,302.0 L1171.2,303.4 L1171.3,305.6 L1172.0,305.9 L1172.5,304.6 L1173.0,304.8 L1173.3,302.1 L1173.3,301.9 L1173.6,299.9 L1174.2,299.4 L1174.3,300.1 L1174.3,302.3 L1174.9,302.1 L1174.8,304.3 L1175.2,305.3 L1175.5,304.8 L1175.6,307.1 L1175.3,308.0 L1175.9,307.6 L1176.1,310.2 L1175.7,310.8 L1176.3,310.7 L1176.3,312.4 L1177.0,310.7 L1177.2,310.3 L1177.7,308.1 L1178.1,307.1 L1178.4,308.0 L1178.5,305.9 L1178.8,307.3 L1179.4,308.3 L1179.5,308.9 L1180.2,310.8 L1180.1,310.8 L1180.7,312.4 L1181.3,312.3 L1181.6,310.8 L1181.5,310.2 L1182.2,307.3 L1182.8,306.3 L1182.8,305.9 L1183.0,307.9 L1183.2,308.0 L1183.3,308.7 L1183.7,310.0 L1183.8,310.6 L1183.8,312.0 L1184.0,312.6 L1184.6,314.2 L1184.4,314.9 L1184.7,316.5 L1185.0,316.7 L1185.4,316.7 L1185.2,319.6 L1185.6,320.5 L1185.6,320.4 L1186.0,321.6 L1186.0,322.2 L1186.2,323.7 L1186.3,325.8 L1186.5,326.4 L1186.9,327.6 L1187.0,328.5 L1187.0,328.8 L1187.1,330.3 L1187.1,331.8 L1187.6,332.5 L1187.9,333.0 L1187.8,333.6 L1188.1,335.3 L1188.3,335.3 L1188.3,336.3 L1188.7,338.3 L1189.0,339.8 L1189.2,339.2 L1189.2,342.3 L1189.6,342.7 L1190.2,343.2 L1190.1,343.3 L1190.2,345.9 L1190.9,346.4 L1191.2,346.3 L1191.5,348.9 L1191.5,349.1 L1191.8,347.2 L1192.2,346.8 L1192.6,346.1 L1193.2,344.6 L1193.4,344.4 L1193.6,342.6 L1194.5,340.9 L1195.5,340.7 L1196.4,340.5 L1196.5,341.0 L1197.0,341.9 L1196.9,342.6 L1197.2,343.6 L1197.9,346.2 L1198.1,346.9 L1198.3,347.0 L1198.5,348.0 L1198.4,350.3 L1198.8,350.1 L1199.0,351.3 L1199.9,351.6 L1200.1,353.9 L1201.0,353.1 L1201.6,353.9 L1202.3,355.6 L1202.4,354.9 L1202.3,353.9 L1202.7,353.2 L1203.0,351.7 L1203.0,350.8 L1202.9,349.5 L1203.4,349.1 L1203.2,348.4 L1203.4,346.4 L1203.4,345.1 L1203.8,344.4 L1203.8,343.5 L1204.2,342.5 L1204.2,341.4 L1204.4,340.5 L1205.2,340.1 L1205.9,338.4 L1206.2,337.1 L1207.2,336.7 L1207.7,336.2 L1207.9,334.2 L1208.0,334.5 L1208.4,332.6 L1208.6,331.8 L1208.3,330.5 L1208.4,330.1 L1208.7,329.3 L1209.2,326.5 L1209.2,326.9 L1209.4,325.4 L1209.8,326.0 L1210.3,327.1 L1211.0,328.2 L1211.2,329.8 L1212.0,329.7 L1212.2,328.9 L1212.1,328.0 L1212.3,326.0 L1212.7,324.9 L1212.5,323.5 L1212.7,324.5 L1212.8,322.1 L1213.5,321.3 L1213.4,321.3 L1213.6,319.8 L1213.8,318.6 L1214.2,318.3 L1214.0,317.1 L1214.3,315.9 L1214.6,315.1 L1214.5,312.4 L1214.7,313.0 L1214.7,310.6 L1215.3,310.8 L1215.2,309.2 L1215.3,310.3 L1215.2,312.0 L1215.5,313.1 L1215.4,314.4 L1215.8,314.7 L1215.6,316.3 L1215.7,315.9 L1216.0,317.0 L1215.9,319.1 L1215.6,319.7 L1215.7,321.5 L1216.2,320.8 L1216.1,323.0 L1215.9,324.1 L1216.1,325.7 L1216.5,325.5 L1216.3,325.9 L1216.5,328.1 L1216.3,328.9 L1216.5,329.4 L1216.5,331.4 L1216.8,331.4 L1216.9,332.6 L1216.7,334.0 L1216.9,335.1 L1216.9,335.7 L1217.2,336.2 L1217.4,339.1 L1217.4,340.1 L1217.7,341.5 L1217.9,341.3 L1217.9,342.6 L1218.6,343.6 L1218.5,344.8 L1218.8,346.4 L1219.2,347.5 L1219.4,348.3 L1219.6,349.5 L1219.9,349.6 L1219.8,351.6 L1219.9,352.5 L1220.1,351.9 L1220.3,352.6 L1220.6,355.0 L1221.1,355.6 L1221.4,355.4 L1221.1,353.1 L1221.8,352.8 L1221.7,351.6 L1222.1,351.5 L1222.0,349.5 L1222.4,349.1 L1222.8,346.9 L1222.7,346.3 L1223.0,346.6 L1222.9,343.6 L1223.6,344.4 L1223.3,341.5 L1223.5,341.7 L1223.9,340.5 L1223.9,339.5 L1224.6,337.6 L1224.5,337.7 L1224.8,337.1 L1225.3,334.6 L1225.3,334.2 L1225.9,332.8 L1226.0,331.8 L1226.2,333.0 L1226.7,334.1 L1227.1,334.2 L1227.3,335.3 L1227.5,338.2 L1228.2,338.3 L1228.6,339.5 L1229.0,341.1 L1229.5,341.1 L1229.3,342.7 L1229.7,343.3 L1230.3,344.8 L1231.4,344.0 L1232.0,343.6 L1233.2,342.6 L1234.3,342.3 L1235.0,343.4 L1235.7,344.8 L1236.1,345.8 L1236.2,346.7 L1236.7,349.0 L1236.8,348.4 L1237.3,351.2 L1237.5,351.2 L1237.7,351.5 L1237.9,353.4 L1237.7,354.7 L1238.0,354.9 L1237.9,356.7 L1238.1,357.2 L1238.5,358.4 L1238.6,358.9 L1238.5,360.7 L1238.8,361.4 L1238.7,363.4 L1238.9,363.6 L1239.1,365.4 L1238.8,366.5 L1238.9,366.7 L1238.8,368.5 L1239.3,368.4 L1239.1,368.4 L1239.6,370.7 L1239.5,371.9 L1239.4,371.8 L1239.6,374.4 L1239.6,374.8 L1239.5,375.2 L1239.9,376.7 L1240.0,376.8 L1239.7,378.1 L1240.1,379.4 L1240.0,381.2 L1240.2,381.4 L1240.2,383.2 L1240.0,383.7 L1240.2,384.6 L1240.1,386.4 L1240.2,386.3 L1240.4,387.4 L1240.4,387.4 L1240.5,389.0 L1240.5,389.8 L1240.8,392.2 L1240.7,393.6 L1241.1,394.4 L1241.0,395.3 L1241.0,395.5 L1240.8,395.9 L1241.1,398.3 L1240.9,397.8 L1240.9,399.0 L1241.2,401.6 L1241.3,401.2 L1241.2,401.8 L1241.2,404.7 L1241.4,404.6 L1241.3,404.7 L1241.2,407.8 L1241.3,408.4 L1241.3,409.1 L1241.3,409.8 L1241.3,411.8 L1241.7,412.9 L1241.7,413.9 L1241.8,413.9 L1242.0,413.5 L1241.8,411.1 L1241.8,409.9 L1242.1,410.7 L1241.9,408.0 L1242.1,408.8 L1242.2,407.6 L1242.1,404.8 L1242.4,405.7 L1241.9,403.0 L1242.2,402.0 L1242.1,402.1 L1242.3,401.4 L1242.7,400.3 L1242.6,399.3 L1242.4,397.2 L1242.3,396.3 L1242.9,395.0 L1242.4,393.5 L1242.6,393.0 L1242.6,392.8 L1242.8,390.8 L1242.6,389.5 L1242.8,389.7 L1243.1,388.3 L1242.8,387.5 L1242.7,386.9 L1242.8,384.8 L1243.1,384.2 L1243.1,383.5 L1243.0,382.9 L1243.1,380.7 L1243.4,380.6 L1243.1,379.9 L1243.3,378.3" fill="none" stroke="#000" stroke-width="2.5" stroke-linejoin="round"/>
<path d="M230.9,315.6 L231.2,316.2 L230.7,312.1 L231.2,313.8 L231.0,312.2 L231.2,311.0 L231.0,309.9 L231.2,308.4 L231.6,308.4 L231.4,308.2 L231.3,305.4 L231.2,303.0 L231.4,303.5 L231.9,302.2 L231.7,301.7 L231.4,299.7 L231.6,299.0 L232.1,298.7 L231.7,298.2 L232.1,298.0 L232.3,296.4 L232.3,295.5 L232.4,293.1 L232.0,294.2 L232.4,292.5 L232.3,290.5 L232.6,289.6 L232.6,288.6 L232.7,287.1 L232.5,288.0 L232.9,285.9 L232.7,285.4 L232.6,282.7 L232.6,283.3 L232.7,283.0 L232.8,282.0 L233.1,281.2 L233.0,278.7 L233.1,277.7 L233.2,279.2 L233.0,279.1 L233.5,280.8 L233.0,282.2 L233.4,283.9 L233.2,285.2 L233.1,285.7 L233.3,286.4 L233.7,285.9 L233.6,286.6 L233.4,290.1 L233.9,289.0 L233.8,290.7 L233.6,290.4 L233.9,291.9 L234.1,292.6 L234.0,293.4 L233.8,294.4 L233.8,298.2 L234.1,297.0 L233.8,298.8 L233.9,301.8 L234.0,299.6 L234.3,302.6 L234.1,301.9 L234.3,302.7 L234.5,306.2 L234.5,307.7 L234.5,308.6 L234.3,308.3 L234.4,309.9 L234.5,309.1 L234.4,312.7 L234.7,312.5 L234.9,313.8 L235.0,314.6 L235.3,317.2 L235.7,317.0 L236.0,316.1 L236.2,318.8 L236.0,316.6 L236.1,315.2 L236.4,314.4 L236.7,314.8 L236.7,315.2 L236.4,311.9 L236.5,310.9 L236.7,311.2 L236.4,310.5 L236.6,308.5 L236.3,306.1 L236.4,306.4 L236.5,306.5 L236.5,303.4 L236.5,302.8 L236.7,302.8 L236.9,301.1 L237.0,299.8 L237.0,301.3 L236.9,298.5 L236.6,298.0 L236.9,296.5 L236.7,294.7 L236.9,295.8 L237.3,293.8 L236.9,293.1 L237.0,293.4 L237.2,289.1 L237.0,288.4 L237.2,288.7 L237.3,290.9 L237.2,289.1 L237.3,291.4 L237.4,291.7 L237.3,292.3 L237.7,294.3 L237.6,294.3 L237.6,295.7 L237.5,297.4 L237.5,299.6 L237.4,298.5 L237.9,299.3 L238.0,302.2 L237.5,303.4 L238.0,304.3 L237.9,305.5 L237.9,305.3 L237.8,307.8 L238.0,307.9 L238.2,310.3 L238.3,311.2 L238.0,310.1 L238.0,311.7 L238.3,312.5 L238.3,315.2 L238.0,315.9 L238.6,315.3 L238.3,315.6 L238.2,316.3 L238.5,318.8 L238.8,321.2 L238.3,321.4 L238.4,321.2 L238.7,323.5 L238.6,323.8 L238.7,323.7 L238.9,327.6 L238.7,325.7 L238.6,328.8 L238.8,330.5 L238.8,330.9 L239.0,332.9 L238.7,332.5 L238.7,333.1 L239.2,334.7 L239.0,334.3 L239.0,336.4 L239.4,338.2 L239.1,339.2 L239.1,341.1 L239.3,341.4 L239.2,341.6 L239.5,343.5 L239.4,342.7 L239.5,344.4 L239.6,347.3 L239.5,345.1 L239.8,348.5 L239.9,349.3 L240.0,348.2 L239.9,351.6 L240.1,353.3 L240.1,351.6 L239.8,354.8 L240.1,355.8 L240.3,354.9 L240.2,355.8 L240.1,357.8 L240.3,359.3 L240.6,359.1 L240.1,359.7 L240.7,362.1 L240.5,363.2 L240.7,364.8 L240.8,365.2 L240.6,365.7 L240.5,367.4 L241.0,367.0 L241.0,368.3 L240.9,371.4 L241.2,372.1 L240.9,373.8 L241.1,372.4 L241.1,374.5 L241.3,374.0 L241.2,378.3 L241.3,377.8 L241.7,378.6 L241.6,379.1 L241.6,380.8 L241.4,383.3 L241.6,384.0 L241.9,384.4 L241.7,385.5 L241.6,387.2 L241.9,387.5 L242.2,388.2 L242.0,389.1 L242.2,391.2 L242.0,390.5 L242.0,392.1 L242.5,392.5 L242.5,392.9 L242.3,394.9 L242.1,395.7 L242.3,397.2 L242.4,398.2 L242.8,400.7 L242.7,400.2 L242.6,402.9 L242.6,401.1 L242.9,402.5 L242.7,404.1 L242.7,406.6 L243.0,407.6 L243.2,407.3 L243.2,408.1 L243.1,411.1 L243.1,410.7 L243.6,412.4 L243.7,413.7 L244.0,415.2 L244.3,415.9 L244.3,415.4 L244.3,417.8 L244.4,417.9 L244.8,419.4 L245.0,419.8 L245.6,417.1 L245.9,415.0 L245.6,413.8 L246.0,413.4 L246.4,412.9 L246.7,415.3 L246.5,415.8 L246.5,416.0 L246.7,418.0 L246.9,417.2 L246.9,417.7 L246.8,421.4 L247.0,419.7 L247.2,421.1 L247.3,422.1 L247.3,423.1 L247.5,425.3 L247.8,425.5 L247.6,425.5 L247.9,428.0 L247.9,430.2 L247.8,431.0 L248.3,431.2 L248.4,431.6 L248.2,433.5 L248.3,435.9 L248.5,435.1 L248.7,435.6 L248.7,437.6 L249.0,438.4 L249.0,441.0 L248.8,440.2 L248.7,441.4 L249.3,441.1 L249.4,442.2 L249.4,445.1 L249.2,444.0 L249.1,447.5 L249.3,446.2 L249.3,447.4 L249.6,449.6 L249.4,449.2 L249.8,449.2 L250.0,445.1 L249.8,444.7 L249.7,444.8 L249.7,443.6 L250.3,441.5 L250.1,442.7 L250.4,441.2 L250.2,438.3 L250.0,437.3 L250.2,436.2 L250.2,435.0 L250.5,435.1 L250.8,435.8 L250.6,434.3 L250.4,434.0 L250.9,430.2 L250.6,431.0 L250.7,429.1 L250.9,428.3 L251.1,427.2 L251.1,427.6 L250.9,425.4 L251.4,425.4 L251.3,422.6 L251.4,423.2 L251.3,421.5 L251.5,421.0 L251.4,422.7 L251.9,425.0 L252.1,426.3 L252.1,427.6 L252.4,426.5 L252.6,430.2 L252.3,430.5 L252.5,430.2 L252.8,432.3 L252.9,431.7 L253.2,429.2 L253.3,430.8 L253.0,428.0 L253.3,426.1 L253.1,426.8 L253.3,426.4 L253.3,423.7 L253.4,423.7 L253.2,422.5 L253.4,421.6 L253.4,421.3 L253.6,418.3 L253.7,417.4 L253.6,418.2 L253.9,416.6 L253.8,415.7 L253.8,413.5 L253.8,412.5 L254.0,410.5 L254.1,409.5 L254.1,409.8 L254.3,407.3 L254.1,408.7 L254.3,406.4 L254.9,405.7 L255.3,405.5 L255.5,402.5 L256.1,402.1 L256.1,404.2 L256.5,402.4 L256.3,404.1 L256.3,405.5 L256.5,407.9 L256.6,408.0 L256.5,410.3 L256.7,410.5 L257.1,410.0 L256.8,411.8 L257.4,413.6 L257.3,414.8 L257.6,416.3 L257.4,415.1 L257.9,418.9 L257.8,417.3 L257.8,419.4 L257.9,421.7 L258.0,422.1 L257.8,421.5 L258.2,422.0 L258.2,423.3 L258.2,425.2 L258.2,428.2 L258.3,427.5 L258.3,427.6 L258.7,429.7 L258.9,429.3 L258.4,432.3 L258.7,433.4 L258.6,433.8 L258.9,434.8 L259.0,436.8 L259.2,437.5 L258.8,436.9 L259.0,438.8 L259.1,438.7 L259.3,441.0 L259.5,442.1 L259.8,443.5 L259.6,442.6 L259.8,443.6 L259.5,445.8 L259.9,446.4 L260.2,448.0 L259.9,448.6 L260.2,451.5 L260.4,449.8 L260.6,451.7 L260.6,453.6 L260.5,455.5 L260.3,456.8 L260.9,455.7 L260.8,455.5 L260.8,458.2 L261.0,458.9 L260.7,457.4 L261.1,455.3 L261.1,453.9 L261.0,454.0 L261.3,450.5 L261.5,452.6 L261.3,450.5 L261.2,450.3 L261.7,447.0 L261.5,448.2 L261.4,447.2 L261.5,445.1 L261.6,442.8 L261.8,441.0 L261.8,441.6 L261.7,441.1 L262.1,439.6 L262.4,438.2 L262.2,436.2 L262.2,436.3 L262.4,437.0 L262.4,434.4 L262.8,433.1 L262.6,432.3 L262.7,434.3 L262.7,433.2 L262.7,434.1 L262.9,434.8 L263.0,439.0 L262.8,438.6 L263.0,439.2 L262.9,440.2 L263.3,440.5 L263.4,444.0 L263.0,443.9 L263.5,443.8 L263.4,447.1 L263.6,446.8 L263.6,446.7 L263.8,448.1 L263.6,449.6 L263.8,448.4 L263.8,447.7 L264.1,446.4 L263.9,446.4 L264.3,444.5 L264.2,444.3 L264.0,444.0 L264.3,441.7 L264.6,440.2 L264.4,440.9 L264.7,438.7 L264.5,438.0 L264.6,437.3 L264.8,434.1 L264.8,434.8 L265.2,433.2 L264.9,433.2 L265.1,432.6 L265.1,430.2 L265.3,430.8 L265.6,433.1 L265.6,433.8 L265.3,433.9 L265.4,435.1 L265.7,437.8 L266.0,437.6 L266.2,437.2 L265.8,438.7 L266.1,440.7 L266.2,442.8 L266.1,441.0 L266.5,441.8 L266.3,445.1 L266.7,444.8 L267.1,447.8 L266.9,447.4 L267.1,447.7 L266.9,445.7 L267.0,444.8 L267.5,442.7 L267.6,442.6 L267.4,441.3 L267.7,440.4 L268.0,438.5 L267.7,440.0 L268.2,436.5 L268.0,437.1 L268.1,435.6 L268.4,435.6 L268.3,433.4 L268.6,432.3 L268.7,433.0 L268.6,433.9 L269.0,434.3 L269.2,437.8 L269.2,437.8 L269.0,437.2 L268.9,440.1 L269.5,439.0 L269.2,440.4 L269.7,442.1 L269.8,441.8 L269.7,443.8 L269.5,445.4 L269.7,448.1 L270.2,448.6 L270.3,448.4 L270.1,449.6 L270.0,447.1 L270.1,447.5 L270.5,447.6 L270.5,446.6 L270.9,443.0 L270.8,442.6 L271.0,441.3 L270.9,441.5 L271.1,439.1 L271.1,440.6 L271.5,437.7 L271.7,438.1 L271.6,436.6 L271.9,436.1 L272.1,433.4 L271.7,432.0 L272.2,431.2 L272.4,431.6 L272.5,432.1 L272.3,429.9 L272.6,430.1 L272.6,426.4 L272.4,424.8 L272.9,425.9 L273.0,425.7 L273.1,422.2 L273.2,424.0 L273.0,421.3 L273.3,418.9 L273.4,419.4 L273.2,419.9 L273.8,418.4 L273.9,415.8 L273.7,414.1 L274.2,414.5 L273.8,413.4 L274.2,413.8 L274.1,412.2 L274.1,409.7 L274.5,408.2 L274.7,408.0 L274.6,408.4 L274.9,407.7 L274.8,404.7 L275.1,404.2 L275.4,404.7 L275.6,400.5 L275.6,400.6 L275.7,400.8 L276.1,398.0 L276.0,399.1 L276.5,397.8 L276.6,395.6 L276.8,395.5 L276.8,398.1 L276.7,398.8 L276.7,399.7 L276.8,400.6 L276.8,400.5 L277.0,402.3 L277.2,404.1 L277.2,404.1 L277.0,405.4 L277.5,405.8 L277.5,409.5 L277.2,408.0 L277.3,408.8 L277.2,410.9 L277.7,411.9 L277.4,414.4 L277.9,412.6 L277.6,414.9 L277.7,415.2 L277.7,416.6 L277.9,417.5 L277.9,420.5 L278.0,420.2 L278.1,421.5 L278.3,421.7 L278.0,421.1 L278.2,419.5 L278.4,417.7 L278.3,416.7 L278.2,413.9 L278.8,415.8 L278.4,413.2 L278.7,413.5 L278.9,411.2 L278.7,409.1 L279.1,410.3 L279.0,409.9 L279.3,408.8 L279.4,406.2 L278.9,404.0 L279.1,405.2 L279.5,403.1 L279.4,402.1 L279.3,403.7 L279.3,405.1 L279.8,405.4 L279.5,406.4 L279.9,408.9 L280.0,409.3 L279.9,410.8 L279.9,411.4 L279.9,410.5 L279.8,411.6 L280.1,413.8 L279.9,415.9 L280.1,416.5 L280.2,415.9 L280.5,419.1 L280.3,418.5 L280.4,418.1 L280.6,422.3 L280.9,422.3 L280.6,421.2 L280.6,423.5 L281.0,424.4 L280.9,425.8 L281.1,423.6 L281.1,423.1 L281.3,421.7 L281.3,421.5 L281.2,422.4 L281.2,418.2 L281.4,420.4 L281.3,418.7 L281.6,418.3 L281.5,416.2 L281.2,413.5 L281.7,412.8 L281.8,414.0 L281.4,413.1 L281.6,409.2 L281.8,408.1 L282.1,410.2 L282.0,406.4 L282.0,407.4 L281.8,405.5 L282.3,406.1 L282.1,404.5 L282.0,401.2 L282.1,400.9 L282.4,399.8 L282.1,400.4 L282.1,400.1 L282.4,397.8 L282.6,400.3 L282.4,400.3 L282.9,401.5 L282.5,400.9 L282.7,403.9 L282.9,402.6 L282.8,403.9 L282.8,405.3 L283.1,408.1 L283.1,408.6 L283.5,410.1 L283.1,411.8 L283.2,410.5 L283.6,412.1 L283.5,413.6 L283.7,415.9 L283.7,417.0 L283.5,416.8 L283.9,417.5 L284.0,417.5 L284.0,418.2 L284.1,420.8 L284.2,421.5 L284.1,419.3 L284.5,419.1 L284.3,418.3 L284.5,416.9 L284.8,415.2 L284.7,415.4 L285.2,412.8 L284.8,411.9 L285.4,411.7 L285.5,412.9 L285.6,409.4 L285.3,407.8 L285.7,407.1 L285.8,407.7 L285.9,406.4 L286.1,406.9 L285.9,405.2 L286.4,404.7 L286.0,403.4 L286.3,402.0 L286.2,400.3 L286.6,400.1 L286.4,399.1 L286.4,397.9 L286.4,396.7 L286.6,393.4 L287.2,394.6 L287.0,392.9 L287.2,392.3 L287.3,392.6 L286.9,389.4 L287.1,390.2 L287.6,388.8 L287.3,385.7 L287.7,385.6 L287.6,384.8 L288.0,387.0 L287.8,386.1 L287.7,389.2 L287.7,389.2 L287.9,391.2 L288.1,391.0 L288.3,391.4 L288.1,392.9 L288.3,394.9 L288.5,395.9 L288.3,397.2 L288.7,397.7 L288.6,396.8 L288.5,399.4 L288.5,399.1 L288.9,402.2 L288.9,404.1 L289.1,404.7 L289.0,403.4 L289.1,406.8 L289.2,405.8 L289.1,407.2 L289.3,409.4 L289.4,408.4 L289.3,410.7 L289.3,408.1 L289.9,409.7 L290.0,406.6 L290.0,405.3 L289.9,404.8 L290.3,404.0 L290.2,404.3 L290.6,402.1 L290.4,402.4 L290.6,403.1 L291.1,406.3 L290.8,405.2 L290.9,407.3 L291.2,409.8 L291.0,407.7 L291.2,410.4 L291.3,411.5 L291.2,411.0 L291.1,414.6 L291.4,413.4 L291.4,414.3 L291.2,415.3 L291.7,417.0 L291.6,419.0 L291.5,420.1 L291.7,422.3 L291.4,422.1 L291.8,421.9 L291.9,425.3 L292.1,423.3 L291.9,425.8 L292.1,425.9 L292.0,426.9 L292.4,430.0 L292.7,430.5 L292.6,431.6 L292.9,431.7 L292.8,432.5 L293.0,435.5 L293.4,436.3 L293.4,436.6 L293.7,437.5 L293.3,438.1 L293.8,440.9 L294.0,441.5 L293.8,441.4 L294.1,443.2 L294.2,443.0 L293.9,446.4 L294.0,444.2 L294.1,447.4 L294.1,449.4 L294.3,450.2 L294.4,451.4 L294.7,449.6 L294.9,451.3 L294.6,454.1 L294.8,454.0 L294.7,456.0 L295.0,456.1 L295.0,455.3 L295.1,454.3 L295.0,452.8 L295.5,451.6 L295.0,451.1 L295.4,449.6 L295.1,449.6 L295.3,447.6 L295.3,448.1 L295.7,447.3 L295.5,443.3 L295.6,444.0 L295.4,444.2 L295.4,443.0 L295.6,442.0 L296.0,438.2 L295.9,440.4 L295.8,438.7 L296.0,435.9 L295.8,436.8 L295.9,434.3 L296.3,432.9 L295.8,431.0 L296.3,430.6 L296.4,430.9 L296.5,430.3 L296.0,428.9 L296.3,426.3 L296.3,425.3 L296.8,424.8 L296.6,426.1 L296.5,423.3 L296.6,421.1 L296.7,421.5 L296.8,419.3 L296.8,420.5 L297.1,419.1 L296.9,418.8 L297.2,415.5 L296.9,415.3 L297.4,414.9 L297.1,414.9 L297.1,411.4 L297.2,410.5 L297.5,411.6 L297.2,407.6 L297.8,407.0 L297.8,406.5 L297.5,405.1 L297.5,406.5 L297.8,404.0 L298.0,402.4 L297.8,403.1 L298.0,400.2 L298.1,399.8 L298.0,399.7 L298.2,397.8 L298.4,398.2 L298.7,394.0 L298.8,394.6 L299.3,394.7 L299.3,392.4 L299.7,391.3 L299.6,391.0 L299.9,393.8 L299.6,394.9 L300.1,396.2 L300.0,396.9 L300.4,398.5 L300.1,398.6 L300.4,399.4 L300.4,400.9 L300.4,400.7 L300.4,401.4 L300.5,401.7 L300.8,405.1 L300.8,405.3 L300.3,405.3 L300.6,407.5 L300.8,408.0 L301.0,410.2 L300.9,409.7 L301.1,411.8 L301.0,412.6 L300.8,414.4 L300.9,415.3 L301.3,414.3 L301.2,416.2 L301.0,415.9 L301.1,417.6 L301.4,419.4 L301.4,419.0 L301.6,416.9 L301.9,417.0 L301.7,415.7 L302.0,413.0 L302.2,412.8 L302.3,411.3 L302.1,410.7 L302.5,409.1 L302.5,409.2 L302.3,409.3 L302.6,407.3 L303.0,405.3 L302.8,404.2 L302.7,403.9 L302.8,402.4 L303.2,402.1 L303.4,403.1 L303.7,405.8 L303.8,404.5 L303.5,404.7 L303.9,407.2 L303.7,408.4 L304.1,408.7 L304.4,409.7 L304.1,411.9 L304.6,411.9 L304.7,414.0 L304.9,415.7 L304.9,415.0 L305.1,413.6 L305.1,413.3 L305.2,412.2 L305.1,411.6 L305.1,410.8 L305.4,409.6 L305.0,407.9 L305.1,408.1 L305.1,404.7 L305.3,404.4 L305.3,404.7 L305.7,402.2 L305.5,399.9 L305.8,399.3 L305.5,398.8 L305.5,397.1 L305.5,398.1 L305.7,394.8 L306.0,393.8 L305.9,395.2 L305.7,392.7 L305.9,393.0 L306.4,391.4 L306.2,389.3 L306.2,389.1 L306.3,387.9 L306.4,386.8 L306.0,386.1 L306.2,386.1 L306.4,383.5 L306.6,383.3 L306.5,380.7 L306.6,381.4 L306.8,379.1 L306.8,380.5 L306.5,378.0 L306.9,376.8 L306.8,375.2 L306.7,374.7 L306.8,374.2 L307.2,374.2 L306.7,371.1 L307.2,369.1 L306.9,369.5 L307.3,367.2 L307.4,366.7 L307.3,366.2 L307.4,365.1 L307.2,363.4 L307.1,362.3 L307.7,362.8 L307.7,359.9 L307.3,359.8 L307.5,357.9 L307.6,357.1 L307.5,357.4 L307.8,357.8 L307.6,356.3 L307.9,355.2 L307.7,354.3 L307.9,352.4 L308.0,352.9 L308.4,348.9 L308.5,348.7 L308.1,347.3 L308.5,347.3 L308.7,346.9 L308.9,344.8 L308.6,344.3 L308.8,343.5 L308.8,342.3 L309.0,340.3 L309.0,340.7 L309.3,338.8 L309.3,339.3 L309.8,337.1 L310.0,335.7 L309.8,334.2 L309.8,333.3 L310.1,333.0 L310.3,332.5 L310.4,335.5 L310.1,335.9 L310.6,337.5 L310.2,338.2 L310.6,339.1 L310.6,341.1 L310.3,341.8 L310.3,340.8 L310.6,342.9 L310.9,342.4 L310.9,345.2 L311.0,347.6 L311.0,347.9 L311.1,348.2 L310.9,350.0 L310.8,351.1 L311.4,351.2 L311.4,351.2 L311.4,353.1 L311.0,352.9 L311.4,354.3 L311.4,357.5 L311.4,357.2 L311.6,358.2 L311.5,360.4 L311.5,360.8 L311.4,360.3 L311.8,361.9 L311.8,363.2 L311.8,362.2 L311.9,362.0 L312.0,360.7 L312.0,360.6 L312.3,357.8 L312.4,356.3 L312.1,355.4 L312.4,355.1 L312.3,353.2 L312.5,354.6 L312.5,352.5 L312.5,351.0 L312.9,348.6 L312.6,349.4 L312.8,347.4 L312.9,345.2 L313.0,347.3 L312.8,344.5 L313.1,343.7 L313.3,343.2 L312.9,340.7 L313.3,342.1 L313.3,339.4 L313.4,341.8 L313.5,342.8 L313.6,343.2 L313.7,345.0 L313.5,346.1 L313.5,344.5 L313.7,346.3 L313.7,348.1 L313.7,350.0 L313.9,347.8 L313.8,351.0 L313.8,352.3 L314.0,353.8 L314.1,355.0 L313.9,355.2 L314.5,356.8 L314.3,355.3 L314.5,356.3 L314.6,359.7 L314.3,360.4 L314.2,360.9 L314.5,360.2 L314.4,363.3 L314.3,361.9 L314.6,363.9 L314.8,366.9 L314.9,367.8 L314.8,367.5 L315.0,369.2 L315.1,368.6 L315.1,370.8 L315.0,371.5 L315.3,373.7 L315.4,372.5 L315.0,374.7 L315.5,376.5 L315.3,376.3 L315.3,376.8 L315.5,378.7 L315.7,380.1 L315.8,379.5 L315.6,381.4 L315.8,381.5 L316.0,384.2 L315.8,385.7 L316.0,385.7 L315.7,386.2 L316.3,388.3 L316.4,388.5 L316.2,388.1 L316.3,390.2 L316.4,391.1 L316.2,391.6 L316.4,393.3 L316.8,394.3 L316.6,395.6 L316.6,394.6 L316.7,392.3 L316.8,393.5 L316.8,393.1 L317.0,390.2 L317.1,391.2 L317.0,387.3 L316.7,386.4 L317.2,387.5 L316.9,385.9 L316.9,384.5 L316.9,382.8 L317.4,384.1 L317.4,380.5 L317.3,381.4 L317.2,378.7 L317.4,379.7 L317.0,379.1 L317.3,376.0 L317.7,375.3 L317.6,376.2 L317.6,374.1 L317.4,373.8 L317.9,372.0 L317.6,369.4 L317.9,369.1 L317.5,368.4 L317.8,367.1 L317.5,366.7 L317.7,366.6 L317.9,363.0 L318.0,364.1 L317.7,361.2 L318.0,362.3 L318.1,358.9 L318.1,358.1 L317.9,359.3 L318.3,357.2 L318.3,355.8 L318.4,354.0 L318.3,354.6 L318.3,354.7 L318.6,358.3 L318.6,356.6 L318.5,358.4 L318.4,359.0 L318.6,362.4 L318.9,360.8 L318.7,361.5 L318.5,362.6 L318.9,366.6 L318.7,366.5 L318.7,366.5 L318.8,369.2 L319.4,370.6 L319.1,369.1 L319.0,370.1 L319.3,372.1 L319.4,374.5 L319.4,373.1 L319.2,374.1 L319.8,375.9 L319.9,375.9 L320.0,379.6 L319.6,379.8 L319.8,380.5 L319.6,380.4 L320.1,378.5 L320.1,377.5 L320.3,375.3 L320.0,374.1 L320.4,374.6 L320.1,372.0 L320.2,373.1 L320.2,370.8 L320.6,371.8 L320.8,368.7 L320.5,369.4 L320.8,365.6 L320.6,366.5 L320.7,363.3 L321.0,365.4 L321.0,363.5 L321.2,361.1 L321.3,360.8 L321.2,360.2 L321.5,360.0 L321.5,358.5 L321.3,356.7 L321.3,357.4 L321.4,357.9 L321.4,361.1 L321.3,359.9 L321.9,362.5 L321.5,362.5 L321.9,364.6 L321.8,364.4 L321.9,365.3 L322.2,367.3 L322.3,367.2 L322.0,369.1 L322.0,370.9 L322.4,370.9 L322.4,372.9 L322.4,372.9 L322.2,374.7 L322.6,376.3 L322.5,375.7 L322.2,378.3 L322.8,377.0 L322.8,377.2 L322.6,379.1 L322.7,379.3 L322.9,381.3 L323.0,383.9 L323.0,382.6 L323.0,384.8 L323.1,385.2 L323.3,383.3 L323.7,380.9 L323.9,381.6 L324.2,378.3 L324.5,376.8 L324.4,377.4 L324.8,376.2 L324.7,377.6 L324.9,378.2 L324.8,380.3 L325.2,381.9 L325.3,380.3 L325.3,381.6 L325.4,382.4 L325.3,385.7 L325.5,386.1 L325.3,387.0 L325.7,388.5 L325.7,388.7 L325.5,389.2 L325.5,391.3 L325.8,392.7 L325.7,391.7 L325.8,395.1 L326.0,393.2 L325.9,394.8 L326.1,398.3 L325.7,398.8 L325.9,398.1 L326.0,401.6 L326.3,399.9 L326.3,402.1 L326.4,402.0 L326.5,400.1 L326.0,399.3 L326.0,399.0 L326.4,398.5 L326.2,396.2 L326.2,395.9 L326.1,393.9 L326.5,393.2 L326.5,391.9 L326.4,390.7 L326.2,390.6 L326.6,388.0 L326.6,388.1 L326.5,387.0 L326.4,385.2 L326.4,386.7 L326.9,388.1 L326.7,387.3 L327.1,389.0 L326.8,388.8 L327.4,392.6 L327.1,391.9 L327.3,391.5 L327.3,395.5 L327.5,396.4 L327.7,397.2 L328.2,397.9 L328.0,398.3 L328.1,399.2 L328.4,401.8 L328.4,401.4 L328.9,402.0 L329.0,404.5 L328.9,404.2 L329.3,404.7 L328.9,400.5 L329.3,399.7 L329.4,398.9 L329.1,398.0 L329.6,397.5 L329.2,396.2 L329.4,397.0 L329.6,395.3 L329.6,394.7 L329.5,392.0 L329.6,393.1 L329.9,390.1 L329.8,391.4 L329.9,388.3 L330.3,387.7 L330.2,387.1 L330.1,385.2 L330.5,384.6 L330.5,385.2 L330.7,381.8 L330.4,381.1 L330.3,380.6 L330.9,379.8 L331.0,377.4 L330.6,377.4 L330.6,376.8 L331.1,375.1 L331.1,373.9 L331.2,372.8 L331.1,372.6 L331.2,374.3 L331.1,374.5 L331.3,374.3 L331.6,376.1 L331.2,376.3 L331.5,378.1 L331.6,380.5 L331.3,379.9 L331.4,382.3 L331.7,383.7 L331.7,385.2 L331.8,384.7 L332.0,384.5 L332.0,387.2 L331.8,386.4 L331.9,387.7 L332.3,389.5 L332.1,390.8 L332.1,391.7 L332.3,391.5 L332.0,393.9 L332.0,395.9 L332.3,397.3 L332.4,398.2 L332.4,396.8 L332.5,398.1 L332.6,398.4 L332.6,402.1 L332.7,401.6 L333.0,402.8 L332.7,404.2 L332.8,406.6 L332.8,407.2 L333.2,408.7 L333.3,406.5 L333.5,408.8 L333.4,408.9 L333.7,412.7 L333.9,412.2 L333.7,411.9 L334.0,413.9 L334.2,415.1 L334.2,414.8 L334.6,418.3 L334.3,418.6 L334.5,419.7 L334.7,419.2 L334.9,422.8 L334.9,421.5 L335.3,423.2 L335.5,421.9 L335.4,420.6 L335.4,418.8 L335.9,417.8 L335.7,419.3 L335.8,417.4 L335.8,416.8 L336.2,414.6 L336.5,413.6 L336.0,413.0 L336.6,412.1 L336.4,410.0 L336.8,410.3 L336.8,407.4 L336.9,406.7 L336.9,408.6 L336.8,404.4 L337.3,405.0 L337.0,403.8 L337.4,403.9 L337.4,403.7 L337.5,401.0 L337.8,403.0 L337.4,402.0 L337.8,405.2 L338.0,406.4 L337.7,404.8 L338.0,408.3 L338.3,409.1 L338.0,407.5 L338.0,408.7 L338.5,410.8 L338.3,411.3 L338.7,413.0 L338.4,414.9 L338.4,413.9 L339.0,415.0 L338.5,416.6 L338.6,416.7 L338.9,419.7 L339.1,420.6 L339.1,420.3 L339.4,422.7 L339.0,423.1 L339.4,423.5 L339.2,426.5 L339.7,427.6 L339.3,427.1 L339.5,429.9 L339.7,429.5 L339.8,432.2 L340.0,431.6 L340.2,431.2 L340.4,432.3 L340.7,433.5 L341.0,436.0 L341.0,438.0 L341.1,438.9 L341.4,440.1 L341.8,441.2 L342.0,441.7 L341.9,442.2 L342.3,441.6 L342.2,444.2 L342.2,444.4 L342.4,446.6 L342.6,445.8 L343.1,447.3 L343.1,448.2 L343.4,451.5 L343.4,452.4 L343.6,453.1 L343.5,454.9 L343.7,454.8 L343.9,457.5 L343.9,456.6 L344.3,458.4 L344.4,458.4 L344.8,459.8 L344.5,459.9 L345.0,462.2 L345.1,461.7 L345.2,463.0 L345.3,466.3 L345.7,465.4 L345.9,467.5 L346.3,467.5 L346.3,465.4 L346.5,465.4 L346.6,464.2 L347.1,460.9 L347.1,460.2 L347.2,460.7 L347.1,458.6 L347.3,457.8 L347.7,457.1 L347.9,454.4 L348.1,454.8 L348.2,453.6 L348.4,454.2 L348.5,450.2 L348.9,449.1 L349.1,447.9 L349.2,449.9 L349.6,448.1 L349.8,445.3 L350.0,443.7 L350.0,442.9 L350.4,443.1 L350.7,442.2 L350.7,442.1 L351.4,443.5 L351.2,446.9 L351.5,444.8 L351.6,448.7 L351.9,450.2 L351.9,448.8 L352.4,449.9 L352.5,450.9 L352.8,453.5 L352.7,452.3 L353.2,454.8 L353.0,455.0 L353.4,452.4 L353.3,453.4 L353.4,451.6 L353.4,450.8 L353.5,447.8 L353.3,448.2 L353.5,447.0 L353.6,445.3 L353.6,444.3 L353.6,445.4 L353.5,442.6 L354.0,441.0 L354.0,440.7 L354.0,441.1 L354.2,440.2 L354.1,436.7 L354.1,435.0 L354.2,437.0 L354.2,435.9 L354.0,434.5 L354.0,431.9 L354.4,430.3 L354.5,429.2 L354.6,428.8 L354.1,430.2 L354.6,427.8 L354.2,426.4 L354.7,425.5 L354.4,424.6 L354.4,423.7 L354.6,421.4 L354.7,421.4 L355.0,419.7 L354.6,418.1 L354.8,419.3 L355.1,418.7 L355.1,416.5 L355.2,415.0 L355.1,416.0 L355.4,413.0 L355.3,410.7 L355.0,412.9 L355.0,410.9 L355.6,409.0 L355.2,407.0 L355.4,407.4 L355.3,405.2 L355.8,404.4 L355.6,404.7 L355.8,404.3 L355.7,403.9 L356.1,401.4 L356.2,399.6 L356.0,398.8 L355.9,397.9 L356.3,396.7 L356.3,397.4 L356.4,393.7 L356.5,394.7 L356.2,392.3 L356.4,392.2 L356.9,392.2 L356.9,388.6 L356.8,388.9 L357.1,387.9 L357.2,385.6 L357.0,387.4 L357.3,386.6 L357.2,384.6 L357.3,383.7 L357.2,382.9 L357.3,380.7 L357.7,378.2 L357.6,378.9 L357.6,380.3 L358.1,382.1 L358.1,383.0 L358.3,382.4 L358.4,383.3 L358.6,386.3 L358.9,387.5 L358.8,387.2 L359.0,387.6 L359.4,388.0 L359.1,389.6 L359.5,391.5 L359.5,391.3 L359.7,393.0 L359.5,394.0 L359.7,395.5 L359.7,396.6 L360.1,397.7 L360.0,398.1 L360.1,399.4 L360.2,400.2 L360.2,403.3 L359.9,403.4 L360.3,404.3 L360.4,403.5 L360.6,406.7 L360.2,406.3 L360.1,406.6 L360.8,408.7 L360.6,409.2 L360.8,409.4 L360.5,411.2 L360.8,413.7 L360.8,413.7 L361.0,412.9 L361.0,410.4 L361.1,410.9 L361.0,409.0 L361.1,407.2 L361.2,407.5 L361.3,406.5 L361.6,405.7 L361.5,403.4 L361.6,404.3 L361.4,401.4 L361.7,402.2 L361.8,399.9 L361.6,399.3 L361.6,398.3 L362.1,398.3 L362.0,397.2 L362.3,394.0 L362.3,395.6 L361.9,394.1 L362.2,391.7 L362.1,391.7 L362.3,391.6 L362.6,390.0 L362.3,387.4 L362.3,387.5 L362.3,384.6 L362.7,385.2 L363.2,387.2 L363.4,386.9 L363.7,388.6 L364.1,388.9 L364.6,389.7 L364.9,391.5 L364.8,390.7 L365.3,388.2 L365.5,388.5 L365.4,388.3 L365.5,385.7 L365.7,385.4 L366.0,383.7 L366.1,385.1 L365.8,382.2 L366.2,381.4 L365.9,381.1 L366.6,378.6 L366.1,378.7 L366.7,377.8 L366.4,377.9 L366.5,376.3 L366.9,375.0 L366.8,371.9 L367.1,372.6 L367.5,373.3 L367.6,376.3 L368.2,375.0 L368.4,376.6 L368.8,379.0 L369.0,378.9 L369.0,377.6 L369.2,377.5 L369.2,376.4 L369.1,375.6 L369.3,374.8 L369.1,372.5 L369.5,372.8 L369.4,371.2 L369.6,368.2 L369.5,368.7 L369.4,368.7 L370.0,367.8 L370.1,364.2 L369.8,366.1 L370.2,363.3 L370.2,361.0 L370.2,359.8 L370.1,358.9 L370.3,360.2 L370.2,357.9 L370.2,356.0 L370.3,355.4 L370.3,354.0 L370.3,354.0 L370.5,354.1 L370.7,353.2 L370.9,352.0 L370.9,349.7 L371.1,347.6 L371.2,348.9 L370.8,346.6 L370.9,346.9 L371.1,346.4 L371.2,344.1 L371.1,346.3 L371.6,345.4 L371.7,345.7 L371.7,347.8 L371.6,348.0 L372.0,351.4 L371.7,349.8 L371.8,350.8 L372.1,352.4 L372.5,353.5 L372.3,353.7 L372.6,356.6 L372.6,357.1 L372.5,357.0 L372.4,360.4 L373.1,360.3 L372.7,362.6 L373.0,363.9 L373.3,362.0 L373.5,364.3 L373.5,364.0 L373.4,366.2 L373.3,364.5 L373.9,363.0 L374.0,364.5 L374.0,362.6 L374.1,360.3 L374.2,358.5 L374.8,358.0 L374.6,359.2 L374.6,358.3 L374.8,356.2 L375.5,354.9 L375.3,353.6 L375.5,355.4 L375.7,356.1 L375.9,356.6 L375.9,358.4 L376.0,357.7 L375.7,361.2 L376.1,360.4 L376.3,362.7 L376.2,362.0 L376.6,364.5 L376.1,363.4 L376.3,366.9 L376.6,365.3 L377.0,366.0 L376.6,367.1 L376.9,369.7 L377.3,371.5 L377.4,370.1 L377.2,371.2 L377.1,372.8 L377.6,373.3 L377.5,375.7 L377.5,374.1 L377.6,375.0 L377.5,371.5 L377.5,371.2 L377.7,371.2 L377.8,370.2 L378.2,367.1 L378.0,368.4 L378.1,365.3 L378.1,365.6 L378.2,363.0 L378.3,365.0 L378.0,363.0 L378.3,361.8 L378.5,359.5 L378.0,358.6 L378.6,358.2 L378.2,358.0 L378.7,355.9 L378.4,356.7 L378.4,354.2 L378.8,353.8 L378.8,351.6 L378.8,351.2 L378.8,350.9 L379.0,348.0 L378.6,346.6 L379.0,345.7 L379.2,345.9 L378.7,343.9 L378.9,342.3 L378.9,344.0 L379.0,342.0 L379.1,340.9 L379.4,341.2 L379.4,341.3 L379.3,345.5 L379.6,344.9 L379.4,345.3 L379.4,348.2 L379.8,347.1 L379.7,347.5 L380.2,351.3 L380.4,351.1 L380.4,353.2 L380.5,352.6 L380.4,353.6 L380.2,354.0 L380.8,357.1 L380.7,358.3 L380.9,358.8 L380.9,358.4 L381.2,358.8 L380.9,361.9 L381.4,362.9 L381.6,361.7 L381.4,365.9 L381.3,364.8 L381.7,366.2 L381.8,368.1 L381.5,367.3 L382.0,368.9 L381.9,369.7 L381.7,371.9 L381.7,372.6 L382.0,374.3 L382.0,375.7 L382.1,375.0 L382.3,376.2 L381.9,376.7 L382.1,378.9 L382.2,378.2 L382.2,380.3 L382.3,382.8 L382.3,383.8 L382.7,381.8 L382.3,384.1 L382.8,385.9 L382.8,386.1 L382.6,389.2 L383.1,388.9 L383.0,388.8 L383.0,389.1 L382.9,391.5 L383.2,390.6 L383.3,389.6 L383.6,387.1 L383.6,387.5 L383.7,387.3 L383.9,386.6 L383.7,383.5 L384.4,384.1 L384.2,381.8 L384.7,381.9 L384.3,380.7 L384.7,379.3 L384.9,377.2 L385.0,377.4 L384.9,376.6 L385.2,376.6 L385.5,374.1 L385.8,374.6 L386.0,376.5 L385.9,378.2 L386.0,379.8 L386.0,377.8 L386.1,380.3 L386.5,383.0 L386.5,383.1 L386.4,381.7 L386.4,384.3 L386.4,386.9 L387.1,387.7 L386.6,387.0 L386.8,388.4 L387.1,391.2 L387.3,389.6 L387.4,391.7 L387.7,391.7 L387.8,395.0 L387.9,395.9 L387.9,394.9 L387.7,396.5 L388.0,397.9 L388.1,399.6 L388.3,399.1 L388.5,400.7 L388.7,403.0 L388.6,402.4 L389.1,403.3 L388.9,406.9 L389.2,405.9 L389.4,406.0 L389.3,408.9 L389.7,408.8 L389.5,412.0 L390.1,412.3 L390.3,413.5 L390.2,413.7 L390.2,411.8 L390.5,413.2 L390.7,411.2 L390.5,409.7 L390.7,406.9 L390.8,408.6 L391.0,405.9 L391.5,405.7 L391.7,405.2 L391.5,404.1 L392.1,401.9 L392.2,400.8 L392.0,400.1 L392.0,400.4 L392.4,397.9 L393.0,399.4 L393.0,401.1 L393.6,401.4 L393.8,402.6 L394.5,403.0 L394.9,404.2 L394.9,402.4 L395.2,402.9 L395.2,400.6 L395.4,400.4 L395.7,399.5 L395.4,399.5 L395.7,396.8 L395.6,394.5 L395.8,393.6 L395.7,393.1 L396.3,393.3 L396.0,390.6 L396.5,389.9 L396.5,388.1 L396.5,388.4 L396.6,391.0 L396.9,389.6 L396.9,392.7 L397.2,391.1 L397.2,393.3 L397.4,395.7 L397.7,396.3 L397.9,395.5 L398.1,397.5 L398.4,399.4 L398.4,399.3 L398.7,401.0 L399.2,402.4 L399.0,404.3 L399.3,404.8 L399.3,405.7 L399.7,407.2 L400.2,408.2 L400.4,407.2 L400.3,411.0 L400.9,411.1 L400.9,410.0 L401.0,412.0 L401.3,413.7 L401.8,413.4 L402.4,416.6 L403.0,415.8 L403.8,416.9 L405.0,417.3 L404.9,417.9 L405.2,418.8 L405.4,420.4 L405.1,421.7 L405.8,422.3 L405.7,424.6 L405.6,425.0 L405.7,423.8 L405.9,427.9 L405.9,427.4 L406.1,426.8 L406.4,428.0 L406.1,430.7 L406.2,430.6 L406.4,431.4 L406.6,433.1 L406.7,434.6 L407.0,434.0 L407.1,436.2 L407.0,436.5 L406.9,439.8 L406.8,440.4 L406.8,441.3 L407.3,442.8 L407.0,441.9 L407.1,444.4 L407.2,445.0 L407.4,447.1 L407.3,447.9 L407.6,447.9 L407.6,449.9 L407.6,449.5 L407.4,451.5 L407.7,450.4 L407.8,451.9 L407.8,452.1 L407.4,453.2 L407.7,454.6 L407.9,455.5 L408.0,459.0 L408.2,457.7 L407.9,461.4 L408.1,462.3 L407.8,460.1 L408.4,461.6 L408.4,462.7 L408.2,464.8 L408.6,466.6 L408.2,467.3 L408.2,468.8 L408.4,468.4 L408.6,470.9 L408.4,469.7 L408.7,470.9 L408.5,473.1 L408.9,475.7 L409.0,474.3 L408.8,477.8 L409.0,475.7 L409.4,478.4 L409.0,479.3 L409.6,480.9 L409.2,481.8 L409.5,482.6 L409.4,483.8 L409.6,484.5 L409.5,486.2 L409.8,486.4 L410.1,488.1 L409.8,488.2 L409.9,488.6 L410.1,490.9 L410.1,490.4 L410.1,491.6 L410.4,493.1 L410.3,494.4 L410.3,494.0 L410.7,497.0 L410.5,496.8 L410.5,499.3 L410.8,500.1 L410.9,500.1 L411.0,500.6 L410.9,502.4 L411.4,503.6 L411.2,506.1 L411.4,507.0 L411.2,506.9 L411.5,508.0 L411.5,506.2 L411.6,504.6 L411.7,504.9 L411.9,502.3 L411.7,503.3 L411.9,501.1 L412.0,499.7 L411.8,498.6 L412.2,498.0 L412.0,496.7 L412.2,495.2 L412.1,497.0 L411.9,493.1 L412.0,492.2 L411.9,493.7 L412.1,490.0 L412.0,490.4 L412.4,489.2 L412.2,488.2 L412.5,488.0 L412.6,486.0 L412.6,486.0 L412.3,484.4 L412.7,483.9 L412.6,482.1 L412.8,483.5 L413.1,484.4 L413.1,484.5 L413.6,487.8 L413.2,488.1 L413.4,488.4 L414.0,491.0 L414.1,490.7 L414.3,492.5 L414.4,491.4 L414.3,494.8 L414.4,495.6 L414.7,494.9 L414.8,495.2 L415.0,497.8 L415.3,500.0 L415.5,498.8 L415.6,500.9 L415.5,500.3 L415.7,502.1 L415.8,503.7 L415.6,506.0 L415.8,505.0 L416.1,507.6 L416.3,507.8 L416.4,507.7 L416.6,510.1 L416.5,509.8 L416.4,511.7 L416.5,513.8 L416.7,514.6 L417.2,515.7 L416.9,514.4 L417.0,517.7 L417.2,517.0 L417.5,519.6 L417.2,520.4 L417.5,521.0 L417.4,522.0 L418.0,523.6 L417.7,523.2 L418.3,525.8 L418.0,527.8 L418.6,528.8 L418.3,527.5 L418.5,530.8 L418.8,530.5 L419.0,531.7 L418.9,531.0 L419.4,529.9 L419.1,528.4 L419.3,528.1 L419.4,528.2 L419.6,524.6 L419.5,524.3 L419.7,524.0 L419.7,524.1 L420.1,520.4 L420.4,521.5 L420.5,520.3 L420.5,518.6 L420.4,517.3 L420.6,516.6 L420.4,516.5 L420.8,515.3 L420.9,514.5 L421.1,511.0 L421.2,510.0 L421.3,511.9 L421.5,509.2 L421.7,507.6 L421.8,505.9 L421.9,505.0 L421.8,505.3 L422.1,503.9 L421.8,505.1 L422.0,502.6 L422.3,501.5 L422.2,501.4 L422.5,498.8 L422.6,499.1 L423.2,498.5 L423.4,494.8 L423.5,496.3 L423.4,494.7 L423.5,492.0 L424.0,493.5 L424.0,490.7 L423.9,488.6 L424.1,489.2 L424.0,486.8 L424.2,485.8 L424.2,484.8 L424.6,484.9 L424.4,483.8 L424.3,481.4 L424.5,483.1 L424.6,480.9 L424.9,478.0 L424.6,478.7 L425.2,477.9 L425.0,475.9 L425.2,476.8 L425.1,475.5 L425.1,474.2 L425.2,471.1 L425.2,470.3 L425.2,471.7 L425.5,469.1 L425.5,471.0 L425.9,470.8 L425.8,472.5 L425.5,474.3 L425.6,473.7 L426.0,476.5 L426.0,477.5 L426.0,475.9 L426.4,479.6 L425.9,480.7 L426.2,481.9 L426.1,482.0 L426.5,484.2 L426.6,483.8 L426.4,484.2 L426.4,484.9 L426.7,487.5 L426.9,488.2 L426.8,488.5 L426.7,489.8 L427.1,492.2 L426.8,491.1 L427.0,492.9 L427.0,493.1 L427.0,490.6 L427.1,489.8 L427.2,488.1 L427.6,488.2 L427.8,486.0 L427.9,487.3 L427.9,483.9 L427.6,484.4 L428.2,482.3 L427.8,482.0 L428.1,479.2 L428.4,481.0 L428.2,480.1 L428.6,476.6 L428.7,476.3 L428.5,476.1 L428.4,476.0 L428.8,473.4 L429.4,476.1 L429.4,476.0 L429.8,475.7 L430.5,477.8 L430.5,476.7 L431.0,476.7 L431.1,475.8 L431.5,473.3 L431.5,470.7 L432.0,471.3 L431.9,470.7 L432.3,470.4 L432.2,467.3 L432.1,467.9 L432.1,466.8 L432.5,463.4 L432.6,463.8 L432.8,461.8 L432.8,461.7 L432.6,462.3 L432.7,458.9 L433.1,459.0 L432.7,457.7 L433.2,457.9 L433.3,457.3 L433.1,454.2 L433.4,452.9 L433.2,454.0 L433.1,452.1 L433.5,449.2 L433.5,449.7 L433.5,447.9 L434.0,446.4 L434.0,447.6 L433.6,445.0 L434.2,443.3 L433.8,443.4 L434.3,443.9 L434.3,440.4 L434.0,439.3 L434.4,438.4 L434.3,438.2 L434.3,438.2 L434.7,437.2 L434.4,434.6 L434.6,433.5 L434.5,431.7 L434.6,433.0 L434.7,432.8 L435.1,429.5 L435.0,430.4 L435.2,428.1 L435.7,426.1 L435.3,426.5 L435.4,425.7 L435.9,423.5 L436.1,422.0 L435.8,420.0 L436.4,421.0 L436.4,419.9 L436.3,418.9 L436.5,417.3 L436.7,417.9 L436.9,418.0 L436.6,420.4 L436.9,420.4 L436.7,423.5 L436.8,423.0 L437.1,423.4 L437.1,424.0 L437.2,427.7 L436.9,426.2 L437.3,427.0 L437.4,430.2 L437.4,429.4 L437.4,431.3 L437.2,434.4 L437.1,434.6 L437.4,433.3 L437.6,434.7 L437.4,437.2 L437.5,436.7 L437.7,440.2 L437.6,441.3 L437.6,442.3 L437.7,443.8 L437.8,443.2 L438.2,445.6 L438.2,445.7 L438.4,445.5 L438.8,448.8 L438.8,449.1 L439.3,449.0 L439.1,449.5 L439.6,451.8 L439.9,453.0 L439.6,452.1 L439.9,455.1 L440.1,456.8 L439.9,457.0 L440.2,457.2 L440.3,458.7 L440.8,458.2 L440.7,460.7 L440.6,460.9 L441.2,461.9 L441.3,465.1 L441.3,464.8 L441.7,467.2 L441.5,467.1 L441.9,466.8 L442.0,468.8 L442.0,469.2 L442.1,469.7 L442.3,471.0 L442.6,475.1 L442.4,474.0 L442.8,475.6 L443.1,475.3 L443.5,476.1 L443.4,478.0 L443.7,478.9 L444.0,481.8 L443.9,483.0 L444.0,484.2 L444.3,484.2 L444.1,481.8 L444.4,480.9 L444.8,481.0 L444.8,481.1 L444.4,478.0 L444.7,478.3 L445.0,477.5 L445.0,476.8 L445.1,473.4 L445.2,472.5 L444.9,472.3 L445.4,471.6 L445.4,470.3 L445.0,471.6 L445.1,468.9 L445.3,466.6 L445.6,468.5 L445.8,464.1 L445.6,464.8 L445.4,465.9 L445.7,467.2 L446.1,468.2 L445.8,467.7 L446.1,470.0 L446.3,469.9 L445.8,471.6 L446.1,474.7 L446.3,472.9 L446.2,476.0 L446.5,475.4 L446.5,477.8 L446.7,478.8 L446.9,478.1 L446.7,481.1 L446.6,479.8 L446.9,482.7 L447.1,482.3 L447.2,482.8 L447.3,484.5 L447.1,486.4 L447.0,485.7 L447.2,483.3 L447.3,481.8 L447.2,482.4 L447.7,480.8 L447.8,481.3 L447.7,477.8 L447.7,477.7 L448.0,478.8 L447.9,476.7 L448.3,474.7 L448.4,474.8 L448.0,473.4 L448.2,473.7 L448.4,470.2 L448.6,470.6 L448.6,469.1 L448.9,468.1 L448.7,465.7 L449.2,465.5 L449.0,465.1 L449.2,464.9 L449.2,464.2 L449.7,460.5 L449.9,459.9 L449.8,460.5 L450.1,457.7 L450.2,456.5 L450.3,456.6 L450.4,456.2 L450.4,453.7 L450.2,453.8 L450.4,451.4 L450.3,452.2 L450.5,449.7 L451.0,450.3 L450.8,447.9 L450.7,446.7 L451.0,445.8 L451.2,446.0 L450.8,445.4 L451.0,445.4 L451.4,443.9 L451.4,441.7 L451.0,441.7 L451.5,440.1 L451.1,439.8 L451.4,437.8 L451.3,438.1 L451.6,435.0 L451.7,434.6 L451.6,435.7 L451.9,435.6 L451.7,439.1 L451.8,439.0 L452.2,438.7 L452.3,441.3 L452.1,443.2 L452.2,443.5 L451.9,445.4 L452.5,444.9 L452.1,445.6 L452.5,446.5 L452.3,449.5 L452.4,448.0 L452.5,448.9 L452.6,452.2 L453.0,451.3 L452.6,453.0 L452.6,455.0 L452.6,455.7 L452.9,456.2 L453.2,455.4 L453.1,453.4 L453.5,453.9 L453.4,453.1 L453.6,452.7 L453.5,449.9 L453.8,450.0 L454.3,449.1 L454.1,446.5 L454.5,446.9 L454.3,446.6 L454.6,443.3 L454.7,443.2 L455.1,443.3 L455.0,440.4 L455.0,440.4 L455.4,437.7 L455.5,437.4 L455.7,436.6 L455.6,437.6 L455.7,434.5 L456.4,434.7 L456.6,434.4 L456.3,431.2 L456.8,431.7 L456.8,430.2 L457.0,432.5 L456.9,431.2 L457.2,433.5 L457.4,435.6 L457.3,436.8 L457.2,436.9 L457.3,438.2 L457.3,439.8 L457.4,439.6 L457.7,440.6 L457.6,440.8 L457.8,442.8 L457.9,444.0 L457.9,443.4 L458.2,445.7 L457.9,447.2 L457.9,447.0 L458.0,447.8 L458.2,450.5 L458.3,452.2 L458.5,452.9 L458.4,454.3 L458.6,454.0 L458.9,454.4 L458.7,456.5 L458.7,458.1 L459.0,457.0 L459.0,460.1 L459.2,458.4 L459.3,462.4 L459.3,460.4 L459.3,464.8 L459.4,464.7 L459.7,465.6 L460.1,464.6 L459.9,466.1 L460.1,467.3 L460.1,469.1 L460.0,467.1 L460.7,468.2 L460.8,464.9 L461.0,463.3 L460.6,462.4 L461.0,463.4 L461.3,461.4 L461.5,462.1 L461.6,458.4 L461.6,458.3 L461.9,460.9 L462.1,460.8 L462.2,461.1 L462.2,463.3 L462.1,463.2 L462.2,465.5 L462.2,464.1 L462.2,467.2 L462.7,466.0 L462.5,468.2 L462.8,468.1 L462.7,471.5 L462.8,472.9 L463.1,474.0 L463.3,473.4 L463.5,474.2 L463.6,475.3 L464.0,476.6 L464.1,478.0 L464.5,477.8 L464.4,478.3 L464.8,480.4 L465.0,482.1 L465.4,481.7 L465.2,484.9 L465.2,485.4 L465.6,484.5 L465.7,487.2 L465.3,487.8 L465.9,489.8 L465.7,489.1 L465.8,489.7 L465.8,492.1 L465.9,494.7 L466.2,494.1 L465.9,496.8 L466.4,495.2 L466.4,498.1 L466.6,500.1 L466.2,499.8 L466.4,501.2 L466.6,501.5 L466.6,501.0 L466.8,499.4 L466.8,499.3 L466.7,498.3 L467.1,495.1 L467.4,494.8 L467.4,494.2 L467.5,492.6 L467.5,493.0 L467.4,492.4 L467.5,490.4 L468.1,490.1 L467.9,489.4 L467.8,485.7 L468.1,486.4 L468.1,486.2 L468.6,490.1 L468.3,489.8 L468.8,489.8 L469.1,492.7 L469.4,493.2 L469.0,493.9 L469.3,494.4 L469.8,497.4 L469.8,497.2 L470.2,496.7 L470.7,496.1 L471.3,495.2 L472.0,492.9 L472.0,493.1 L472.3,496.0 L472.0,497.2 L472.4,498.5 L472.7,499.5 L472.6,498.9 L473.0,501.2 L473.1,500.6 L473.1,503.6 L473.0,501.8 L472.9,503.9 L473.2,505.3 L473.3,507.4 L473.9,505.4 L473.7,508.0 L473.8,510.1 L473.8,509.9 L473.8,511.1 L473.8,513.5 L473.8,513.4 L474.0,515.5 L474.4,514.1 L474.2,514.8 L474.3,515.7 L474.7,516.9 L474.5,518.3 L474.4,521.5 L474.4,521.9 L474.6,523.6 L474.8,524.5 L475.1,525.1 L474.9,525.0 L475.2,526.4 L475.2,527.4 L475.0,524.9 L475.1,526.4 L475.3,523.3 L475.3,524.2 L475.4,522.9 L475.7,520.2 L475.8,520.7 L476.0,518.4 L476.3,518.2 L476.1,516.2 L476.4,517.0 L476.5,514.5 L476.2,513.3 L476.8,513.7 L476.3,513.2 L476.8,510.8 L476.9,511.0 L476.6,507.3 L476.9,508.0 L476.9,507.0 L477.3,506.4 L477.0,504.8 L477.4,503.6 L477.3,503.0 L477.6,502.6 L477.8,501.4 L478.1,499.2 L477.7,498.8 L478.3,497.2 L478.3,496.8 L478.3,495.0 L478.4,495.0 L478.5,495.7 L478.8,497.7 L478.3,497.9 L478.9,500.4 L478.7,500.9 L479.0,502.7 L478.8,503.5 L478.7,503.4 L479.0,503.1 L478.8,504.4 L479.3,504.4 L479.1,505.7 L479.2,506.7 L479.2,509.8 L479.1,510.1 L479.7,512.4 L479.3,512.3 L479.5,512.9 L479.4,512.5 L479.8,513.7 L479.7,517.3 L479.5,516.6 L480.0,518.1 L480.2,518.3 L479.8,521.6 L480.1,522.4 L480.1,521.8 L480.2,523.1 L480.0,521.5 L480.4,521.3 L480.6,520.4 L480.8,518.8 L480.7,516.0 L481.2,516.8 L481.2,514.4 L481.6,513.7 L481.7,513.9 L481.7,512.3 L482.0,514.3 L481.7,515.8 L482.0,513.9 L482.0,515.7 L482.4,516.2 L482.4,517.4 L482.1,518.1 L482.4,522.1 L482.4,522.1 L482.9,521.8 L482.8,522.6 L482.9,524.5 L482.9,526.0 L482.9,525.0 L483.4,529.2 L483.5,527.4 L483.3,530.5 L483.4,531.1 L483.3,533.1 L483.7,531.6 L483.8,533.9 L483.9,533.0 L483.9,532.6 L484.2,530.2 L484.0,528.5 L484.3,528.8 L484.4,526.4 L483.9,526.7 L484.2,525.1 L484.2,525.8 L484.1,524.3 L484.3,522.7 L484.1,520.4 L484.2,519.1 L484.8,519.5 L484.6,519.3 L484.8,518.2 L484.4,518.1 L484.5,516.5 L484.6,515.7 L484.9,514.1 L485.0,513.9 L485.0,512.9 L484.8,511.3 L484.9,508.7 L484.8,507.6 L484.9,507.8 L484.9,507.5 L485.2,504.1 L484.9,506.0 L485.3,504.6 L485.5,503.1 L485.3,501.5 L485.3,501.2 L485.6,505.1 L485.9,505.3 L486.0,504.7 L486.4,506.6 L486.7,506.7 L486.6,509.9 L487.1,510.2 L487.3,508.5 L487.4,509.3 L487.3,506.9 L487.2,505.7 L487.8,504.3 L487.9,504.4 L487.6,503.5 L487.7,502.0 L487.9,499.3 L488.2,501.0 L487.8,497.6 L488.1,497.9 L488.0,497.8 L488.6,496.7 L488.3,495.7 L488.5,494.2 L488.4,491.7 L488.6,491.1 L488.8,490.7 L488.9,490.0 L489.0,488.5 L489.1,485.9 L489.3,485.2 L489.1,485.9 L489.3,483.3 L489.1,485.1 L489.2,483.0 L489.3,480.0 L489.7,479.7 L489.3,478.7 L489.7,477.9 L489.8,476.7 L489.9,475.7 L489.5,476.8 L489.8,474.5 L489.8,474.1 L490.0,470.5 L490.1,471.5 L490.3,468.6 L489.9,467.8 L490.1,467.8 L490.4,466.3 L490.4,465.5 L490.3,464.8 L490.4,467.1 L491.0,465.6 L490.9,468.6 L491.2,468.3 L491.0,470.3 L491.7,472.8 L491.6,470.9 L491.8,473.4 L492.1,475.0 L491.9,476.8 L492.3,475.1 L491.9,477.8 L492.4,478.3 L492.4,480.1 L492.6,482.2 L492.5,482.8 L492.7,483.4 L492.9,485.3 L492.6,485.9 L492.8,485.0 L493.0,487.5 L492.7,487.8 L493.2,490.5 L493.1,491.5 L493.1,491.6 L493.1,493.1 L493.1,491.8 L493.7,495.2 L493.6,495.0 L493.9,494.2 L493.6,494.4 L493.6,492.3 L494.0,491.9 L493.8,489.8 L493.9,489.2 L494.0,487.8 L493.9,486.5 L494.3,484.8 L494.2,484.6 L494.0,483.4 L494.3,484.3 L494.3,483.0 L494.1,479.9 L494.2,481.1 L494.4,479.9 L494.4,477.3 L494.8,478.0 L494.7,475.2 L494.7,474.3 L494.9,473.1 L494.7,471.2 L494.9,471.3 L494.6,469.4 L495.0,469.5 L495.0,467.3 L495.2,467.2 L494.8,468.3 L495.1,467.0 L495.0,465.4 L495.5,462.7 L495.3,462.6 L495.6,462.4 L495.6,460.9 L495.5,461.0 L495.6,458.1 L495.6,457.7 L495.5,455.6 L495.5,456.9 L495.8,455.9 L495.8,452.5 L495.9,452.5 L495.7,453.0 L496.2,452.2 L496.3,450.9 L495.9,448.0 L496.1,447.6 L496.3,448.2 L496.4,446.1 L496.2,446.1 L496.3,443.1 L496.5,441.7 L496.2,440.0 L496.6,442.1 L496.8,440.0 L496.4,437.7 L496.5,437.2 L496.8,436.2 L496.5,435.4 L496.8,434.6 L497.1,434.1 L497.4,431.7 L497.3,431.1 L498.2,429.3 L497.9,428.6 L498.6,429.6 L498.4,426.0 L499.0,425.9 L499.2,423.9 L499.2,425.5 L499.3,421.4 L499.4,423.3 L500.1,419.8 L499.7,419.6 L500.4,419.5 L500.5,416.7 L500.6,417.8 L500.6,414.3 L501.0,415.8 L500.7,413.1 L501.1,413.0 L501.2,412.9 L501.8,411.5 L501.6,410.2 L502.0,407.8 L502.7,407.3 L502.4,405.8 L503.1,407.1 L503.3,404.3 L503.4,402.4 L503.6,401.6 L503.5,402.0 L503.6,398.9 L503.4,399.4 L503.7,397.1 L503.5,396.4 L503.7,397.7 L503.9,399.1 L504.4,400.4 L504.8,400.6 L505.0,401.6 L505.3,403.0 L505.3,404.1 L505.3,404.1 L505.2,404.0 L505.2,408.3 L505.2,407.1 L505.7,409.6 L505.6,409.8 L505.8,412.4 L506.0,411.3 L505.9,414.0 L506.1,413.5 L506.0,415.2 L505.9,415.6 L506.3,416.4 L506.1,419.3 L506.2,420.4 L506.5,420.8 L506.4,421.5 L506.8,420.9 L506.7,423.2 L506.7,422.8 L507.0,424.1 L507.0,425.3 L507.3,428.1 L507.8,427.9 L508.0,429.8 L507.9,429.6 L508.0,431.8 L507.8,430.3 L507.9,428.6 L508.0,429.1 L508.1,429.4 L508.3,427.0 L508.2,427.1 L508.2,424.7 L508.5,423.0 L508.8,424.0 L509.0,422.6 L508.7,421.5 L509.1,418.3 L509.1,416.9 L508.8,415.9 L508.8,416.0 L509.0,415.7 L509.4,413.6 L509.4,414.7 L509.3,412.4 L509.4,410.8 L509.8,411.0 L509.4,409.5 L509.5,409.4 L509.8,406.3 L509.9,405.1 L510.2,404.9 L509.8,403.6 L510.4,404.7 L510.2,401.7 L510.4,400.8 L510.3,399.5 L510.7,399.5 L510.4,398.0 L510.8,397.1 L510.9,394.8 L510.7,396.4 L510.8,393.4 L511.0,393.0 L511.0,392.0 L511.3,392.0 L511.7,390.6 L512.1,389.7 L512.0,386.8 L512.3,387.9 L512.3,385.8 L512.3,383.9 L512.8,383.2 L513.1,384.0 L513.2,386.2 L513.3,387.2 L513.3,388.9 L513.0,386.8 L513.1,389.2 L513.0,391.8 L513.1,390.1 L513.7,393.4 L513.6,392.0 L513.8,393.2 L513.7,396.9 L513.9,398.0 L513.8,398.2 L513.7,397.2 L513.7,400.5 L513.9,400.8 L514.1,401.6 L514.3,401.9 L514.2,400.7 L514.4,396.8 L515.2,398.8 L515.2,397.5 L515.7,393.6 L515.5,392.6 L515.8,393.0 L515.8,395.5 L516.2,393.4 L516.1,395.3 L516.0,396.6 L516.2,399.1 L516.4,399.4 L516.2,400.1 L516.5,401.4 L516.3,402.3 L516.2,403.7 L516.3,405.7 L516.7,404.4 L516.7,406.4 L516.7,406.2 L516.6,409.8 L516.9,410.1 L517.1,411.1 L517.0,411.4 L517.1,412.8 L516.9,414.7 L517.1,414.6 L517.6,413.5 L517.8,411.6 L518.1,412.4 L518.4,410.2 L518.5,412.4 L518.6,413.0 L518.7,414.6 L518.5,413.6 L518.5,415.6 L519.1,415.2 L519.1,417.5 L519.2,419.5 L519.0,419.2 L519.0,420.0 L519.0,420.0 L519.3,423.7 L519.4,421.9 L519.3,426.0 L519.7,425.8 L519.8,424.9 L519.7,427.5 L519.6,427.0 L520.1,424.9 L520.2,425.5 L520.0,421.8 L520.6,421.8 L520.7,420.6 L520.9,420.7 L521.0,417.4 L521.3,417.5 L521.2,416.7 L521.5,417.3 L521.3,418.6 L521.2,419.0 L521.7,421.8 L521.5,422.1 L521.8,423.6 L521.6,425.4 L522.0,424.6 L521.7,425.4 L522.3,426.5 L522.4,428.2 L522.2,430.2 L522.1,429.6 L522.2,429.3 L522.8,433.5 L522.4,431.5 L522.7,434.0 L523.0,432.0 L522.9,431.8 L523.1,429.6 L523.5,429.9 L523.9,427.3 L523.8,427.6 L523.8,425.5 L523.8,423.8 L524.0,424.2 L524.4,423.2 L524.8,424.3 L524.9,425.7 L524.6,426.6 L524.5,426.0 L524.9,429.6 L524.9,430.3 L525.0,430.5 L525.0,430.0 L525.1,430.8 L525.3,433.8 L525.2,436.1 L525.5,437.2 L525.3,435.9 L525.1,436.6 L525.5,438.4 L525.8,440.2 L525.7,441.9 L525.9,441.5 L525.7,442.6 L525.5,441.2 L525.6,439.7 L525.7,438.8 L525.9,437.6 L525.9,437.2 L526.2,435.5 L526.0,436.5 L526.0,434.0 L526.3,433.0 L526.2,433.0 L526.2,431.8 L526.2,428.6 L526.2,430.0 L526.3,427.8 L526.3,426.2 L526.3,425.8 L526.4,426.1 L526.4,425.4 L526.3,422.1 L526.4,420.3 L526.4,420.7 L526.5,421.4 L526.7,418.1 L526.5,418.9 L526.6,416.7 L526.8,418.7 L526.5,419.3 L526.5,418.9 L526.9,421.4 L526.9,421.5 L526.6,423.4 L526.6,422.7 L526.8,424.0 L527.3,425.3 L527.2,426.6 L527.1,427.0 L526.9,429.4 L527.1,429.1 L527.3,429.4 L527.4,432.0 L527.2,431.5 L527.1,434.0 L527.3,433.9 L527.2,434.4 L527.4,437.7 L527.8,438.5 L527.9,437.6 L527.7,441.1 L527.6,440.3 L527.9,441.6 L527.6,444.3 L527.9,442.3 L527.9,444.8 L527.9,446.7 L527.9,446.8 L528.0,448.3 L528.0,450.3 L528.5,448.2 L528.2,451.1 L528.5,451.9 L528.8,452.2 L528.4,455.6 L528.8,453.7 L528.5,456.2 L528.9,457.0 L528.7,456.8 L528.7,458.9 L529.2,459.6 L529.4,459.6 L529.2,462.1 L529.5,461.5 L529.4,464.7 L529.3,463.5 L529.6,466.5 L529.5,468.6 L530.0,468.0 L529.7,469.1 L529.9,468.4 L529.9,471.9 L530.2,471.3 L530.5,471.7 L530.6,473.1 L530.5,475.0 L530.4,474.6 L530.7,477.1 L530.4,477.5 L531.0,478.9 L530.8,482.1 L530.8,479.8 L530.7,481.0 L531.2,483.8 L531.4,486.4 L531.5,484.6 L531.5,488.6 L531.3,488.0 L531.5,488.6 L531.3,487.4 L531.2,485.5 L531.7,482.3 L531.3,482.7 L531.3,482.3 L531.9,482.3 L531.6,480.9 L531.5,477.6 L531.9,478.3 L532.1,475.6 L532.0,475.1 L532.1,473.5 L532.2,472.9 L531.7,474.4 L532.0,470.8 L532.0,471.9 L531.8,468.8 L532.4,470.1 L532.1,468.7 L532.1,466.5 L532.3,464.8 L532.3,465.0 L532.3,464.5 L532.4,461.4 L532.4,462.1 L532.5,460.5 L532.5,460.1 L532.8,457.4 L532.3,458.6 L532.8,456.0 L532.6,455.6 L533.0,453.3 L533.0,454.0 L532.6,451.5 L533.1,451.8 L533.2,448.9 L532.9,450.5 L533.4,447.5 L533.1,446.6 L533.0,448.0 L533.2,446.4 L533.3,443.3 L533.7,444.9 L533.6,443.4 L533.3,441.9 L533.8,439.1 L533.9,438.7 L533.9,437.1 L533.9,435.9 L533.9,436.2 L534.3,437.3 L534.5,438.3 L534.8,438.9 L534.7,440.0 L535.3,441.2 L535.3,441.0 L535.7,445.4 L535.7,444.8 L535.8,442.1 L536.1,441.7 L536.5,440.8 L536.8,440.2 L536.7,438.3 L537.1,439.2 L537.1,438.2 L537.4,436.2 L537.4,434.3 L537.8,433.1 L537.7,432.0 L537.4,431.5 L537.9,430.7 L538.1,430.8 L537.7,429.7 L538.1,427.8 L538.2,427.4 L538.1,425.5 L538.1,424.5 L538.1,423.2 L538.5,423.2 L538.7,423.8 L538.5,419.5 L538.8,419.3 L538.7,418.4 L538.9,419.4 L539.0,415.8 L539.0,416.4 L538.8,416.6 L539.1,412.8 L539.1,412.8 L539.3,412.2 L539.1,411.7 L539.7,409.9 L539.2,408.2 L539.5,406.5 L539.7,408.2 L539.4,406.7 L539.8,405.4 L539.6,405.1 L539.6,401.3 L540.0,401.6 L540.3,399.8 L540.8,399.0 L540.5,397.2 L541.2,395.6 L541.3,396.2 L541.3,397.1 L541.2,398.3 L541.6,399.8 L541.8,402.0 L541.9,400.0 L541.6,401.9 L541.8,402.0 L541.6,405.9 L542.0,405.7 L541.7,407.1 L542.1,406.7 L542.0,408.3 L542.1,409.3 L542.2,411.5 L542.1,412.0 L542.2,412.8 L542.6,413.9 L542.3,415.7 L542.5,414.3 L542.5,417.4 L542.7,419.5 L542.8,418.9 L543.0,421.5 L542.9,420.4 L542.9,420.3 L543.3,422.4 L543.3,423.4 L543.3,423.3 L543.5,427.3 L543.5,427.2 L543.4,426.4 L543.8,429.0 L543.5,430.8 L544.0,431.3 L544.0,433.4 L544.0,431.6 L544.3,434.2 L544.1,434.0 L544.3,436.2 L544.5,438.6 L544.7,436.5 L544.8,439.3 L544.5,439.7 L544.9,440.5 L544.8,441.2 L544.5,443.9 L545.0,445.8 L545.1,444.6 L545.1,445.2 L545.0,448.6 L545.0,449.5 L545.5,450.9 L545.5,450.2 L545.5,450.6 L545.6,452.6 L545.2,454.0 L545.4,455.5 L545.6,455.6 L545.8,453.9 L545.8,452.3 L546.0,453.2 L546.3,452.9 L546.3,451.8 L546.3,448.0 L546.8,446.6 L546.7,448.3 L546.8,447.0 L547.1,444.8 L547.2,445.1 L547.2,445.6 L547.1,447.1 L547.4,448.1 L547.5,448.5 L547.7,449.8 L547.5,450.2 L548.0,451.7 L547.7,455.0 L547.7,456.5 L548.4,454.5 L548.3,457.1 L548.4,458.2 L548.6,459.3 L548.4,459.5 L548.8,462.6 L548.6,462.1 L548.7,460.6 L548.7,458.4 L548.9,459.2 L549.2,456.5 L549.4,455.2 L549.6,455.7 L550.1,453.8 L550.2,452.9 L550.0,452.9 L550.4,451.3 L550.4,451.1 L550.5,452.8 L550.5,454.8 L550.6,455.9 L550.8,456.8 L550.9,458.6 L551.0,457.7 L550.9,459.0 L550.7,460.1 L551.0,460.8 L551.1,463.8 L551.0,463.9 L551.6,463.5 L551.2,464.6 L551.6,468.1 L551.8,468.6 L551.7,468.6 L551.8,468.1 L551.6,467.2 L552.0,465.4 L551.7,463.2 L552.0,463.3 L551.8,463.9 L551.8,461.0 L551.9,460.8 L552.4,459.4 L552.3,457.0 L552.2,457.5 L552.4,457.1 L552.7,455.0 L552.4,454.9 L552.2,451.7 L552.8,452.3 L552.8,451.5 L552.6,451.1 L552.6,449.9 L552.9,447.9 L553.1,447.5 L553.1,446.5 L552.9,444.8 L553.4,444.0 L553.1,441.1 L553.6,442.9 L553.3,440.2 L553.9,438.1 L553.6,437.7 L553.9,436.7 L554.3,437.8 L554.2,435.4 L554.2,434.0 L554.2,435.7 L554.3,436.0 L554.4,438.6 L554.5,436.5 L554.9,438.1 L554.7,441.4 L554.7,442.4 L554.8,441.1 L555.0,444.5 L555.3,445.9 L555.3,444.2 L555.3,447.2 L555.1,447.1 L555.3,449.3 L555.3,450.0 L555.5,449.8 L555.3,453.0 L555.6,452.4 L555.8,453.4 L555.8,451.4 L555.9,452.6 L556.0,451.0 L556.0,451.0 L556.5,448.9 L556.4,448.9 L556.3,446.0 L556.7,443.9 L557.0,445.6 L557.2,444.8 L557.0,441.9 L557.3,441.4 L557.3,440.5 L557.0,441.6 L557.5,443.5 L557.6,444.0 L557.4,443.0 L557.7,445.2 L557.8,447.4 L557.5,448.3 L557.8,447.5 L557.9,449.7 L557.8,449.3 L558.0,453.1 L558.0,454.2 L557.7,454.5 L558.0,453.5 L558.3,456.3 L558.1,456.2 L558.2,458.9 L558.5,459.2 L558.0,461.8 L558.3,462.9 L558.2,462.2 L558.7,464.1 L558.2,464.0 L558.5,464.8 L558.6,466.4 L558.7,466.3 L558.9,465.0 L558.8,462.5 L558.6,463.4 L558.6,460.5 L559.0,461.2 L559.2,457.7 L558.9,457.6 L559.3,458.6 L558.9,455.4 L559.0,454.5 L559.0,454.0 L559.2,452.7 L559.6,451.1 L559.6,451.8 L559.3,450.2 L559.3,448.6 L559.7,449.0 L559.4,446.3 L559.8,446.2 L559.9,443.6 L559.8,445.1 L560.0,444.6 L559.8,442.4 L560.0,441.9 L559.9,438.5 L559.9,438.5 L560.3,438.5 L560.1,438.6 L559.9,435.2 L560.3,434.3 L560.3,434.0 L560.6,435.1 L560.4,436.5 L560.4,435.4 L560.7,437.3 L560.5,440.0 L560.4,440.5 L561.0,442.0 L561.0,443.6 L561.1,442.1 L560.6,444.6 L561.1,444.4 L560.9,446.0 L561.0,446.8 L561.1,449.4 L561.4,450.8 L561.6,450.4 L561.5,450.7 L561.3,452.4 L561.4,452.1 L561.3,456.2 L561.6,455.6 L561.7,456.4 L561.6,457.4 L562.0,458.2 L562.2,460.5 L562.3,459.5 L562.6,461.1 L562.2,463.3 L562.6,464.2 L562.8,464.8 L562.9,466.4 L563.0,468.7 L562.9,468.9 L563.2,469.6 L563.3,469.5 L563.1,472.5 L563.0,471.6 L563.5,473.8 L563.2,474.9 L563.4,474.2 L563.7,476.6 L563.5,476.4 L563.4,479.5 L563.8,478.3 L563.6,479.1 L563.7,481.5 L563.7,481.1 L564.2,480.3 L563.8,478.6 L564.2,477.9 L564.3,477.3 L564.4,476.1 L564.5,474.5 L564.6,471.8 L564.6,474.0 L564.6,472.1 L564.6,470.3 L565.0,468.3 L564.9,469.6 L564.8,468.0 L565.3,464.9 L565.0,464.4 L565.4,462.6 L565.1,464.4 L565.5,462.1 L565.6,462.9 L565.5,465.5 L566.0,466.3 L566.2,465.0 L566.1,466.3 L566.3,469.1 L566.5,469.5 L566.6,468.8 L566.6,471.1 L566.7,472.5 L567.0,473.6 L566.7,475.8 L567.2,474.0 L567.2,476.3 L567.2,477.2 L567.0,475.4 L567.1,474.3 L567.6,475.6 L567.5,474.4 L567.6,472.8 L567.4,471.5 L567.6,468.7 L567.6,467.5 L567.6,468.6 L568.0,467.5 L567.7,466.1 L567.8,465.8 L568.3,463.7 L568.4,461.2 L568.0,461.0 L568.6,459.3 L568.3,459.8 L568.7,459.5 L568.8,457.7 L568.9,457.8 L568.7,455.6 L568.6,456.9 L569.0,456.3 L569.1,459.4 L568.9,461.1 L569.0,459.5 L569.3,460.7 L569.5,464.1 L569.2,462.2 L569.2,465.7 L569.2,464.7 L569.5,466.3 L569.5,466.3 L569.4,470.1 L569.5,469.5 L569.8,471.0 L570.1,473.0 L569.7,471.4 L570.1,475.0 L570.2,474.9 L570.3,475.5 L570.2,477.2 L570.4,476.1 L570.5,474.2 L570.2,474.2 L570.6,474.1 L570.8,470.7 L570.3,470.5 L570.5,469.9 L570.4,470.3 L570.8,469.2 L570.7,466.6 L570.6,466.0 L571.1,463.9 L570.9,464.2 L570.9,462.0 L571.3,460.9 L571.0,462.6 L571.1,459.0 L571.1,460.5 L571.4,457.5 L571.0,457.5 L571.4,455.2 L571.4,454.2 L571.2,452.4 L571.3,451.5 L571.4,452.1 L571.9,449.3 L571.4,450.2 L571.7,449.9 L571.7,446.7 L572.1,448.1 L571.9,446.7 L572.0,444.8 L572.3,442.9 L572.0,442.6 L572.0,440.6 L572.5,440.6 L572.1,439.6 L572.7,438.3 L572.2,436.7 L572.8,436.9 L572.6,435.3 L572.5,433.8 L572.9,434.2 L573.1,432.1 L572.9,432.5 L573.0,429.9 L573.4,428.6 L573.0,428.2 L573.4,428.0 L573.6,426.8 L573.3,426.3 L573.7,422.8 L573.7,423.2 L573.5,423.0 L573.7,420.9 L573.8,419.8 L574.0,419.1 L574.0,418.4 L573.8,417.3 L574.4,417.1 L574.0,414.4 L574.0,412.6 L574.0,413.4 L574.1,413.0 L574.5,412.1 L574.4,410.9 L574.5,409.9 L574.9,409.1 L574.7,406.3 L575.0,407.2 L574.6,405.8 L574.9,402.4 L574.6,402.5 L574.7,402.7 L575.1,399.9 L574.8,398.8 L575.2,397.7 L575.2,397.3 L575.4,395.1 L575.8,394.8 L575.5,394.7 L575.8,391.5 L575.8,392.5 L576.1,390.0 L576.2,389.5 L576.3,390.1 L576.3,386.8 L576.7,386.5 L577.3,387.0 L577.4,385.0 L577.9,384.1 L577.7,382.9 L578.4,379.5 L578.4,380.0 L578.5,382.1 L578.4,382.3 L578.8,383.2 L579.1,384.2 L578.8,385.5 L579.1,385.9 L579.0,385.8 L579.2,389.5 L579.3,388.0 L579.1,390.4 L579.7,390.6 L579.3,393.7 L579.6,391.6 L579.7,393.1 L580.0,394.7 L579.7,397.2 L579.8,396.9 L580.3,397.1 L580.2,399.4 L580.0,397.1 L580.4,397.8 L580.4,395.2 L580.9,395.6 L580.5,393.0 L581.1,393.3 L581.1,393.0 L581.3,391.4 L581.0,389.8 L581.5,387.8 L581.6,389.9 L581.8,388.8 L581.7,386.0 L581.5,384.3 L581.9,384.3 L581.9,384.7 L581.8,386.2 L581.8,387.2 L581.8,387.2 L582.0,388.7 L582.3,390.5 L582.1,390.4 L582.2,394.0 L582.5,394.9 L582.5,394.0 L582.2,397.3 L582.7,396.0 L582.7,399.3 L582.3,399.0 L582.8,399.6 L582.6,401.8 L583.0,400.4 L583.0,401.4 L583.1,403.3 L583.1,405.5 L583.0,406.8 L583.0,406.9 L582.9,407.8 L583.1,410.5 L583.2,410.2 L583.2,410.6 L583.2,412.9 L583.6,413.3 L583.7,414.5 L583.3,417.0 L583.6,416.4 L583.5,415.9 L583.6,419.3 L583.7,419.1 L583.9,419.3 L584.0,420.2 L584.2,423.8 L584.4,423.8 L584.3,424.2 L584.4,426.7 L584.6,426.0 L584.6,428.9 L584.7,427.9 L584.7,429.2 L584.7,431.3 L584.7,432.5 L585.1,431.9 L584.9,434.0 L585.1,435.6 L585.3,437.4 L585.0,437.0 L585.3,437.6 L585.4,439.9 L585.5,440.9 L585.6,442.2 L585.4,442.6 L585.6,444.1 L586.1,443.3 L585.8,446.5 L586.2,446.5 L586.4,446.4 L586.6,447.7 L586.6,448.1 L586.3,451.1 L586.6,451.3 L586.5,450.9 L587.1,452.5 L587.2,454.7 L586.8,454.4 L587.0,454.7 L587.6,456.6 L587.2,457.2 L587.5,457.8 L587.7,459.5 L587.8,460.4 L587.7,462.3 L588.1,462.2 L588.2,464.2 L588.2,464.4 L588.4,462.2 L588.5,462.2 L588.7,460.9 L588.6,458.4 L589.0,459.6 L588.8,457.5 L588.9,457.5 L589.4,455.1 L589.5,453.7 L589.2,451.6 L589.5,451.0 L589.7,451.3 L589.8,450.0 L590.0,449.1 L589.9,446.5 L590.0,446.7 L590.2,447.2 L590.4,446.8 L590.5,443.7 L590.0,442.7 L590.3,440.3 L590.3,442.4 L590.6,440.8 L590.4,438.6 L590.9,436.6 L590.6,437.2 L590.7,435.1 L590.9,433.1 L590.7,433.7 L590.9,432.2 L591.1,432.4 L591.0,431.7 L591.5,429.0 L591.2,430.2 L591.4,427.5 L591.7,425.7 L591.5,426.7 L592.0,426.0 L591.6,422.4 L591.9,423.5 L592.1,422.3 L592.3,420.3 L591.9,417.7 L592.0,419.9 L592.0,416.4 L592.2,416.1 L592.2,416.3 L592.9,414.9 L592.6,412.5 L592.9,413.8 L593.1,412.2 L592.9,410.4 L592.9,407.6 L593.1,408.1 L593.5,408.8 L593.8,410.2 L593.9,411.9 L594.0,412.5 L594.0,414.4 L593.9,414.9 L594.3,417.2 L594.5,415.3 L594.9,418.7 L594.8,418.9 L595.0,419.0 L595.0,420.7 L594.9,420.7 L595.1,423.0 L595.4,424.3 L595.3,424.8 L595.5,426.3 L595.3,426.2 L595.7,426.6 L595.7,429.7 L595.7,429.9 L595.7,432.6 L596.0,431.8 L596.3,433.4 L596.1,434.0 L596.4,433.1 L596.6,431.0 L596.3,429.4 L596.4,430.7 L596.8,429.5 L596.9,429.1 L597.1,426.0 L597.0,424.2 L596.9,424.9 L597.2,424.0 L597.4,423.2 L597.5,420.5 L597.3,421.5 L597.7,418.8 L597.6,419.1 L597.5,418.1 L597.9,416.7 L598.2,417.5 L598.3,417.4 L598.2,418.5 L598.1,422.0 L598.2,422.1 L598.7,423.8 L598.7,424.8 L598.8,425.1 L598.7,424.6 L598.8,427.8 L599.2,427.2 L599.2,430.5 L599.3,429.4 L599.5,430.9 L599.6,431.8 L599.6,430.0 L600.3,428.2 L600.2,429.7 L600.4,425.9 L600.5,427.8 L600.6,424.8 L600.8,423.2 L601.3,423.2 L601.8,421.5 L602.0,421.7 L602.3,418.4 L602.7,418.1 L602.8,416.9 L603.3,416.7 L603.6,417.8 L603.5,418.8 L603.5,420.4 L603.7,421.6 L604.0,420.3 L603.7,423.3 L603.8,424.6 L603.9,425.0 L603.9,424.4 L603.9,427.5 L604.0,426.5 L604.3,428.5 L604.6,429.2 L604.2,432.7 L604.8,432.0 L604.3,432.3 L604.8,433.5 L604.8,434.5 L604.7,435.2 L605.0,438.1 L605.2,438.9 L605.1,439.3 L605.2,439.6 L605.3,441.2 L605.4,442.0 L605.5,443.4 L605.7,444.7 L605.4,446.8 L605.8,445.2 L605.6,447.8 L606.0,449.1 L605.9,449.7 L606.2,449.9 L606.1,452.6 L606.0,451.3 L606.3,453.1 L606.2,454.3 L606.3,456.3 L606.3,457.7 L606.5,456.3 L606.5,458.9 L606.5,459.0 L606.9,459.2 L607.3,460.6 L606.8,462.7 L607.0,462.5 L607.3,463.1 L607.4,465.3 L607.3,467.0 L607.2,467.1 L607.7,468.5 L607.7,470.0 L608.0,470.1 L607.6,470.2 L607.8,471.5 L607.7,474.0 L607.9,473.7 L608.3,475.0 L608.0,477.3 L608.3,476.0 L608.3,477.8 L608.7,480.0 L608.7,481.9 L608.7,481.9 L608.9,482.5 L608.6,484.9 L608.7,483.8 L608.7,484.7 L609.2,485.1 L608.9,488.8 L609.1,489.1 L609.0,488.0 L609.5,490.8 L609.2,491.7 L609.5,491.1 L609.8,491.8 L609.6,494.4 L609.5,494.4 L609.7,492.7 L609.7,492.3 L610.0,489.8 L610.0,489.1 L610.1,488.7 L610.4,486.2 L610.2,487.1 L610.1,484.5 L610.1,483.0 L610.2,484.4 L610.6,481.6 L610.5,480.1 L610.6,481.9 L610.4,478.7 L610.9,479.4 L610.9,477.9 L610.8,474.9 L610.7,473.9 L610.8,475.0 L610.9,474.2 L611.0,472.7 L611.1,472.4 L611.4,471.2 L611.0,468.8 L611.1,468.5 L611.6,466.1 L611.7,467.3 L611.6,465.3 L612.0,465.1 L612.3,466.1 L612.1,468.3 L612.6,468.8 L613.0,471.8 L613.1,470.8 L613.2,473.8 L613.5,473.0 L613.8,475.0 L613.8,475.5 L613.7,473.0 L613.8,472.5 L614.0,470.7 L614.3,470.3 L614.3,469.7 L614.4,468.3 L614.4,468.4 L614.7,466.1 L614.2,465.5 L614.8,463.4 L614.4,463.5 L614.8,460.9 L614.5,459.5 L615.0,459.4 L614.9,457.5 L615.0,457.5 L614.8,455.0 L615.1,454.1 L615.3,454.0 L615.4,454.3 L615.0,450.9 L615.2,449.6 L615.4,450.9 L615.5,449.1 L615.9,448.5 L615.8,449.9 L615.8,452.4 L616.1,452.4 L616.5,454.7 L616.9,453.5 L616.7,454.5 L617.0,456.1 L617.3,459.0 L617.7,459.3 L617.5,460.9 L617.8,459.5 L618.0,462.0 L618.0,461.0 L618.5,460.0 L618.2,460.6 L618.2,457.6 L618.4,456.9 L618.7,454.6 L618.4,453.7 L618.3,453.6 L618.7,452.6 L618.4,450.8 L618.9,451.5 L618.9,449.0 L618.7,448.5 L619.2,446.2 L618.8,446.5 L619.0,446.0 L619.2,443.1 L619.1,443.8 L619.0,442.1 L619.5,440.7 L619.4,439.4 L619.4,437.9 L619.3,437.0 L619.6,437.7 L619.7,435.0 L619.7,436.4 L619.4,433.2 L619.6,432.6 L619.7,433.4 L619.7,430.8 L620.0,428.6 L619.9,427.8 L620.0,429.9 L620.1,428.2 L620.2,426.2 L620.1,426.5 L620.0,423.4 L620.3,423.1 L620.5,422.8 L620.2,421.3 L620.5,420.4 L620.4,419.1 L620.7,417.0 L620.7,418.1 L620.9,415.1 L620.8,416.7 L621.0,414.9 L621.2,412.8 L621.3,410.7 L621.0,411.5 L621.3,409.6 L621.5,409.9 L621.8,407.7 L621.6,406.1 L621.9,404.4 L621.4,405.0 L622.0,405.3 L621.9,402.3 L621.9,400.4 L621.8,400.4 L621.8,400.3 L622.2,399.6 L622.5,399.6 L622.2,397.8 L622.3,395.1 L622.6,393.8 L622.6,394.0 L623.1,393.9 L624.0,396.7 L624.5,397.2 L624.5,397.1 L624.9,395.1 L625.0,395.0 L625.0,392.6 L625.1,393.4 L625.2,390.2 L625.1,390.2 L625.2,390.2 L625.3,387.7 L625.4,386.1 L625.3,387.1 L625.6,384.3 L625.3,385.7 L625.8,382.1 L625.6,380.9 L625.8,381.8 L626.0,379.7 L625.9,378.9 L626.3,379.8 L626.0,378.6 L626.1,376.3 L626.2,374.8 L626.2,374.7 L626.1,374.1 L626.3,373.0 L626.8,369.7 L626.9,369.6 L626.6,369.1 L626.8,368.0 L626.6,370.6 L626.8,369.5 L627.0,371.2 L627.0,371.4 L627.1,372.4 L627.0,373.1 L627.1,374.0 L626.8,375.7 L627.1,378.2 L627.0,379.4 L627.2,377.9 L627.4,381.3 L627.3,382.1 L627.6,383.6 L627.4,383.6 L627.4,386.0 L627.5,385.3 L627.8,384.8 L627.4,388.2 L627.6,388.9 L627.6,390.2 L627.9,391.4 L627.6,391.7 L627.6,393.2 L627.6,394.8 L627.8,395.9 L628.0,396.3 L628.1,397.4 L627.9,399.2 L628.1,397.5 L628.3,401.4 L628.2,400.5 L627.9,400.2 L628.2,404.3 L628.4,402.9 L628.0,403.5 L628.6,405.7 L628.4,406.9 L628.6,405.8 L628.5,403.3 L628.4,405.3 L628.5,404.3 L628.6,403.4 L628.8,400.8 L628.9,401.4 L628.9,398.4 L628.8,399.2 L628.7,397.7 L628.6,394.2 L628.7,394.2 L628.9,393.2 L628.7,393.1 L628.9,393.0 L629.1,391.1 L629.3,389.1 L629.2,388.6 L629.4,389.1 L629.4,387.9 L629.0,384.3 L629.0,384.2 L629.1,382.6 L629.4,383.2 L629.4,381.2 L629.6,379.8 L629.6,378.9 L629.3,378.4 L629.3,377.4 L629.3,377.4 L629.4,376.0 L629.8,373.6 L629.6,374.7 L629.9,372.7 L629.9,370.3 L629.7,369.8 L630.0,368.6 L630.0,368.7 L629.8,367.1 L629.8,367.9 L629.7,366.8 L630.0,365.9 L630.0,363.7 L629.9,362.8 L630.5,362.4 L630.4,361.9 L630.4,358.4 L630.6,358.1 L631.2,356.3 L631.1,355.5 L631.6,355.6 L631.5,353.0 L631.7,352.9 L632.0,350.9 L631.9,350.1 L632.5,350.5 L632.7,347.2 L633.1,346.7 L633.2,346.4 L633.6,345.5 L633.9,344.1 L634.0,344.8 L633.8,341.2 L634.3,339.4 L634.2,339.6 L634.5,338.2 L634.8,337.8 L634.9,340.2 L635.1,340.9 L635.3,340.4 L635.4,342.7 L635.7,342.1 L635.8,345.1 L635.8,343.7 L636.0,345.7 L635.8,347.2 L636.0,349.2 L636.3,350.0 L636.3,350.0 L636.5,350.7 L637.2,348.4 L637.6,348.5 L638.0,347.1 L638.2,346.4 L638.5,347.7 L638.5,348.1 L638.3,348.3 L638.2,349.0 L638.5,352.8 L638.5,353.1 L638.6,354.3 L638.4,353.1 L638.7,357.1 L638.5,356.7 L638.8,356.5 L639.0,358.2 L639.1,358.9 L638.6,360.9 L639.0,360.6 L638.9,362.0 L639.1,364.0 L639.3,364.4 L639.0,365.5 L639.2,366.2 L639.1,368.5 L639.2,369.9 L639.6,369.0 L639.2,369.9 L639.5,371.6 L639.5,373.3 L639.4,372.4 L639.8,373.7 L639.7,374.9 L639.7,376.6 L639.6,376.9 L640.0,375.3 L639.7,372.1 L639.8,373.9 L640.2,373.0 L640.1,369.3 L640.0,370.4 L640.3,368.9 L640.1,365.9 L640.5,365.3 L640.6,364.1 L640.7,363.4 L640.3,361.8 L640.4,361.3 L640.9,362.7 L640.8,361.3 L640.7,358.8 L641.2,356.7 L641.0,358.1 L641.0,357.1 L641.0,354.5 L641.4,355.1 L641.2,352.9 L641.6,352.5 L641.8,350.8 L642.0,351.2 L642.1,349.9 L642.0,346.7 L642.5,346.4 L643.1,346.9 L643.1,343.0 L643.6,344.7 L644.0,342.1 L644.0,342.0 L644.6,340.2 L644.5,339.7 L644.6,339.4 L645.0,336.1 L645.3,337.1 L645.1,333.9 L645.6,333.4 L645.7,334.9 L646.1,335.4 L647.0,335.6 L647.3,337.8 L647.2,338.1 L647.8,336.4 L647.4,336.4 L647.7,333.8 L648.0,331.4 L648.3,330.4 L648.5,329.4 L648.4,328.4 L648.5,328.0 L648.3,328.2 L648.8,328.1 L649.0,326.0 L649.0,324.8 L649.4,325.0 L649.1,323.7 L649.5,322.0 L649.1,321.0 L649.8,318.4 L649.7,318.7 L649.5,316.6 L650.0,316.7 L649.7,314.1 L649.9,314.7 L649.8,312.2 L650.4,313.0 L650.3,310.5 L650.6,310.6 L650.5,309.7 L650.8,311.9 L650.7,310.4 L650.7,313.7 L650.9,312.4 L651.0,315.8 L650.9,315.9 L651.2,315.7 L651.1,316.3 L651.3,319.2 L651.2,319.7 L651.2,320.0 L651.2,321.9 L651.2,321.4 L651.7,322.9 L651.4,324.4 L651.7,324.9 L652.0,327.3 L651.7,329.4 L651.9,329.1 L652.2,329.9 L652.0,331.3 L651.9,331.3 L652.2,328.4 L652.1,328.9 L652.3,326.9 L652.2,325.5 L652.6,325.2 L652.3,325.8 L652.3,323.1 L652.6,321.7 L652.4,321.0 L652.4,320.4 L652.6,319.3 L652.7,318.7 L652.9,317.3 L653.2,315.6 L653.0,316.3 L652.8,313.5 L653.4,312.5 L653.1,312.0 L653.1,310.9 L653.3,309.7 L653.4,308.6 L653.8,307.5 L653.8,305.2 L653.9,304.6 L653.8,303.0 L654.4,304.1 L654.3,302.4 L654.5,301.8 L654.5,301.5 L654.8,298.9 L655.3,299.4 L655.5,299.9 L655.9,301.9 L656.3,303.2 L656.5,304.5 L656.6,304.6 L656.9,307.0 L657.1,307.4 L657.3,308.0 L657.2,308.4 L657.3,309.5 L657.6,311.8 L657.9,311.2 L658.1,314.8 L658.1,313.2 L658.3,315.3 L658.4,316.2 L658.3,316.2 L658.6,320.5 L658.5,321.4 L658.7,320.3 L658.8,320.4 L658.7,321.5 L659.3,324.6 L659.2,324.8 L659.6,327.4 L660.2,328.5 L660.1,329.6 L660.7,329.1 L661.0,329.1 L661.3,332.4 L661.6,332.0 L661.8,335.1 L662.1,334.9 L662.4,335.6 L662.3,336.8 L662.7,339.4 L662.7,339.6 L663.0,338.3 L663.0,339.7 L663.5,340.4 L663.5,343.6 L663.8,343.1 L664.2,345.4 L664.1,346.4 L664.3,348.0 L664.2,348.4 L664.2,348.0 L664.2,350.5 L664.6,350.9 L664.6,353.7 L665.0,353.0 L664.8,352.9 L664.9,355.1 L665.0,355.1 L665.1,357.5 L665.3,359.5 L665.3,360.6 L665.5,359.1 L665.6,361.5 L665.6,359.1 L665.6,359.4 L665.6,358.7 L666.0,356.2 L666.1,356.4 L666.1,355.4 L666.1,355.3 L666.3,353.9 L666.1,352.6 L666.3,351.1 L666.2,348.8 L666.0,347.9 L666.4,347.7 L666.3,346.7 L666.1,345.6 L666.4,346.2 L666.1,344.5 L666.4,344.4 L666.5,342.5 L666.8,341.3 L666.5,341.5 L666.6,339.4 L666.4,336.8 L666.8,337.6 L666.6,336.6 L666.8,335.2 L666.6,334.0 L666.9,332.7 L666.9,332.6 L666.8,329.4 L667.0,328.3 L667.1,330.3 L667.3,329.1 L666.9,328.4 L666.8,327.2 L667.1,324.8 L667.4,325.1 L667.1,323.9 L667.7,322.3 L667.4,322.1 L667.6,319.3 L667.4,319.0 L667.6,317.5 L667.6,315.2 L667.7,314.1 L668.2,315.0 L668.2,313.2 L668.3,311.4 L668.3,310.8 L668.3,311.6 L668.4,309.7 L668.8,308.9 L668.9,306.6 L669.4,306.0 L669.3,306.3 L669.8,305.6 L670.0,303.2 L670.1,301.9 L670.4,300.7 L671.0,299.7 L671.0,298.9 L671.3,299.7 L671.0,299.5 L671.2,301.3 L671.5,304.2 L671.4,302.7 L671.3,303.7 L671.9,304.3 L671.9,307.0 L671.8,306.5 L671.9,309.1 L671.9,308.8 L672.1,311.6 L672.2,311.2 L672.0,311.5 L672.3,314.0 L672.4,314.1 L672.4,312.1 L672.5,310.1 L673.1,309.1 L673.0,309.7 L672.9,307.0 L673.5,306.7 L673.3,305.4 L673.3,302.9 L673.6,303.2 L674.0,304.8 L673.7,304.1 L673.7,307.4 L674.3,307.8 L674.0,309.7 L674.2,309.0 L674.2,309.1 L674.5,312.8 L674.8,312.7 L674.6,313.7 L674.5,315.2 L674.9,316.4 L675.1,314.8 L675.2,318.9 L675.3,318.0 L675.0,320.9 L675.4,320.5 L675.3,318.3 L675.3,316.8 L675.9,315.9 L676.0,316.6 L675.6,313.8 L675.8,313.5 L675.6,314.3 L675.7,312.1 L676.3,310.4 L676.0,310.2 L676.1,307.6 L676.3,309.0 L676.1,306.4 L676.2,304.4 L676.5,305.5 L676.8,302.8 L676.6,303.5 L676.9,301.6 L677.2,299.6 L676.8,299.3 L677.1,298.9 L677.3,299.9 L677.2,301.1 L677.8,303.3 L677.6,303.1 L677.8,305.0 L677.8,304.1 L678.4,305.5 L678.0,307.5 L678.4,307.7 L678.6,309.7 L678.4,308.2 L679.0,309.0 L679.0,307.1 L679.0,305.2 L678.9,305.8 L678.9,305.1 L679.2,301.6 L678.9,300.2 L679.4,300.5 L679.3,300.0 L679.3,299.8 L679.6,299.0 L679.8,295.7 L679.5,293.7 L679.8,295.3 L679.5,293.1 L679.6,293.9 L680.0,290.6 L680.0,290.2 L680.3,288.7 L680.1,288.1 L680.4,290.7 L680.5,288.5 L680.1,292.2 L680.6,293.3 L680.5,292.3 L680.7,294.1 L680.7,296.2 L680.8,294.4 L680.9,297.0 L680.8,297.3 L680.6,299.2 L680.9,301.2 L680.7,299.4 L680.8,302.5 L680.8,303.3 L681.3,302.4 L681.1,306.3 L681.3,304.9 L681.5,306.5 L681.4,309.2 L681.3,309.8 L681.7,309.0 L681.8,312.8 L681.8,311.4 L681.5,314.0 L681.4,314.6 L681.6,313.9 L681.8,316.2 L682.1,317.4 L682.1,317.2 L682.1,317.8 L682.2,319.6 L682.4,320.5 L682.4,320.8 L682.5,322.9 L682.6,325.2 L682.9,324.6 L682.8,326.4 L683.2,328.7 L682.9,329.9 L683.1,328.8 L683.7,329.0 L683.6,331.3 L683.6,332.0 L684.2,332.0 L684.2,335.2 L684.4,334.3 L684.5,337.9 L684.7,336.7 L684.8,338.9 L685.3,339.9 L685.5,337.4 L685.3,337.5 L685.7,338.0 L685.5,335.5 L685.5,334.9 L685.6,333.7 L685.5,331.9 L685.7,331.7 L685.6,329.3 L686.1,330.4 L686.1,328.3 L686.1,329.0 L686.0,327.2 L686.0,326.5 L686.3,325.8 L686.3,323.1 L686.0,321.6 L686.6,320.1 L686.6,320.4 L686.5,320.9 L686.6,318.5 L686.3,315.9 L686.6,316.2 L686.7,315.9 L687.0,312.8 L687.1,313.9 L687.0,313.2 L687.1,310.4 L687.0,308.5 L687.2,309.8 L687.5,307.7 L687.2,308.0 L687.7,304.4 L687.8,305.6 L687.4,305.0 L688.0,302.4 L687.9,302.2 L688.2,301.4 L688.2,301.4 L688.2,297.3 L688.3,296.5 L688.3,296.7 L688.6,294.6 L689.4,295.8 L689.4,292.7 L690.0,292.4 L690.2,292.5 L690.5,294.1 L690.9,294.1 L691.1,297.8 L691.5,298.6 L691.6,298.9 L691.3,297.7 L692.0,297.7 L691.9,295.4 L691.7,294.1 L691.9,293.8 L691.9,292.4 L692.2,292.0 L692.1,289.9 L692.0,289.2 L692.6,288.7 L692.6,288.1 L692.5,287.8 L692.3,286.8 L692.7,285.0 L692.6,283.8 L692.7,285.9 L693.1,285.4 L693.3,286.2 L693.1,286.5 L693.0,290.5 L693.1,290.0 L693.8,291.5 L693.8,292.7 L694.1,294.2 L693.9,294.6 L694.5,294.3 L695.7,296.7 L695.7,298.3 L696.1,299.8 L696.1,301.5 L696.2,301.5 L696.9,301.3 L696.7,302.5 L697.0,305.2 L697.4,305.4 L697.4,304.4 L697.8,303.5 L697.7,301.6 L698.0,300.7 L697.9,299.4 L698.4,298.5 L698.3,297.9 L698.7,295.9 L698.9,295.4 L699.0,294.7 L698.7,294.1 L699.1,294.9 L699.1,292.4 L699.4,295.0 L699.2,294.4 L699.2,294.2 L699.4,297.3 L699.7,297.3 L699.7,297.1 L699.9,300.5 L699.7,301.1 L699.9,300.0 L700.0,302.3 L700.1,303.2 L700.1,303.2 L700.4,305.4 L700.5,302.8 L700.7,303.8 L700.4,301.8 L700.5,302.0 L701.0,300.5 L701.1,298.1 L701.0,296.7 L701.1,297.4 L701.3,297.3 L701.0,294.2 L701.3,293.8 L701.4,293.1 L701.2,292.3 L701.6,291.1 L701.2,290.8 L701.4,288.6 L701.5,286.8 L701.7,285.3 L701.8,285.5 L701.6,284.1 L701.9,283.8 L701.7,281.1 L702.2,283.0 L702.1,279.3 L702.1,279.4 L702.3,281.1 L702.3,281.2 L702.1,284.1 L702.3,283.2 L702.7,284.2 L702.7,286.2 L702.4,288.2 L702.6,288.8 L702.7,289.2 L702.8,290.2 L703.0,292.2 L703.1,293.4 L702.7,293.6 L702.6,292.3 L702.7,296.4 L702.8,295.8 L703.0,296.2 L703.3,299.1 L703.4,299.5 L703.2,301.4 L703.2,299.6 L703.1,302.4 L703.4,303.2 L703.3,304.3 L703.5,303.7 L703.4,306.3 L704.0,308.3 L703.9,309.2 L704.0,307.7 L704.0,310.3 L704.0,312.5 L704.2,312.8 L704.3,314.9 L704.3,314.8 L704.3,315.4 L704.6,315.6 L704.9,316.0 L704.7,317.6 L704.7,320.7 L704.7,319.2 L704.9,320.3 L704.7,323.9 L705.2,322.9 L705.2,324.8 L705.1,324.5 L705.4,328.2 L705.7,328.1 L705.4,327.7 L705.8,331.5 L705.9,330.1 L706.2,330.8 L706.3,333.9 L706.5,333.6 L706.5,335.9 L706.6,335.4 L706.6,335.1 L706.9,337.8 L706.8,339.1 L707.2,339.8 L707.1,342.0 L707.2,340.9 L707.6,344.0 L707.9,342.5 L708.1,344.4 L708.3,346.2 L708.3,347.6 L708.0,346.9 L708.2,349.3 L708.6,351.2 L708.6,350.7 L708.6,350.7 L709.1,352.7 L708.8,354.7 L709.3,353.6 L709.4,355.1 L709.2,355.4 L709.5,358.7 L709.6,360.3 L709.8,358.1 L709.9,361.3 L709.6,362.8 L710.1,363.8 L709.9,364.9 L710.3,366.4 L710.3,365.8 L710.5,364.5 L710.3,363.4 L710.6,363.9 L710.7,361.4 L710.8,359.9 L711.1,359.1 L710.8,358.7 L710.8,359.3 L711.1,357.6 L711.5,353.9 L711.5,354.9 L711.6,353.2 L711.6,353.6 L711.8,350.7 L711.5,351.0 L712.1,348.2 L712.1,349.5 L711.9,346.3 L712.1,346.4 L711.9,345.2 L712.3,344.2 L712.5,344.9 L712.7,343.8 L712.5,340.8 L712.8,341.4 L712.4,338.6 L712.6,336.7 L712.7,337.2 L712.9,337.7 L712.9,333.8 L713.1,334.7 L712.9,333.2 L713.6,331.5 L713.4,331.3 L713.3,333.3 L713.9,333.5 L713.4,334.8 L713.8,336.4 L713.7,335.8 L714.1,336.5 L713.9,338.6 L714.3,337.9 L714.1,339.4 L714.5,341.6 L714.4,343.8 L714.8,344.8 L714.6,342.8 L714.5,346.3 L715.1,347.1 L714.7,347.9 L715.1,348.6 L715.2,348.2 L715.2,345.5 L715.3,344.5 L715.6,346.2 L715.6,343.3 L715.8,343.1 L715.6,340.8 L715.6,342.0 L715.7,339.5 L715.7,338.3 L715.8,339.1 L715.8,335.9 L716.5,337.0 L716.4,335.9 L716.4,333.4 L716.5,334.0 L716.4,334.1 L716.9,336.6 L717.0,339.2 L717.0,338.0 L717.1,340.6 L717.1,341.6 L716.8,341.3 L717.2,341.2 L717.3,343.1 L717.4,343.3 L717.6,346.0 L717.4,347.5 L717.4,348.3 L717.5,347.7 L717.9,350.2 L717.7,352.2 L718.1,351.8 L718.1,352.9 L718.2,354.0 L718.7,356.5 L719.0,355.7 L719.0,358.2 L719.3,357.2 L719.8,359.4 L720.0,360.7 L719.9,360.5 L719.8,361.9 L720.0,364.3 L720.0,365.9 L720.6,365.4 L720.7,366.0 L720.5,367.9 L720.8,369.0 L720.4,370.3 L720.8,369.5 L720.6,371.4 L721.1,374.2 L721.1,373.1 L721.0,376.3 L721.0,376.2 L721.3,375.9 L721.5,379.2 L721.5,380.3 L721.7,381.1 L721.6,381.0 L722.0,380.4 L722.3,380.2 L722.4,378.8 L722.4,377.7 L722.8,375.9 L722.8,373.5 L723.1,374.3 L723.3,372.3 L723.9,373.6 L723.8,372.9 L724.0,375.8 L724.3,375.9 L724.6,377.1 L725.0,378.8 L725.1,378.4 L725.2,380.0 L725.8,380.3 L725.8,382.6 L726.1,384.0 L726.5,384.4 L726.4,385.2 L726.8,387.4 L726.9,389.9 L727.5,388.5 L727.9,390.1 L728.1,390.4 L728.1,392.9 L728.5,393.9 L728.3,394.4 L728.6,394.7 L728.5,396.5 L728.5,398.6 L728.7,397.7 L728.9,398.7 L729.1,401.2 L729.3,401.4 L729.3,402.2 L729.4,403.4 L728.9,406.4 L729.2,406.3 L729.1,406.9 L729.1,408.5 L729.6,409.6 L729.4,409.7 L729.5,412.1 L729.7,413.2 L729.7,413.4 L729.6,412.9 L730.1,411.3 L730.3,411.8 L730.4,410.0 L730.8,407.5 L731.1,407.5 L731.0,406.0 L731.5,403.2 L731.8,405.0 L731.7,401.8 L732.1,401.6 L732.3,401.8 L732.3,404.4 L732.1,404.5 L732.3,404.7 L732.6,407.3 L732.7,408.6 L732.6,407.1 L732.9,409.4 L732.7,409.6 L733.0,413.2 L733.2,411.2 L733.0,413.1 L733.2,413.4 L733.2,417.1 L733.4,417.0 L733.3,419.3 L733.3,418.5 L733.7,420.3 L733.7,422.3 L733.8,421.7 L733.5,424.1 L733.6,423.2 L733.6,423.4 L734.1,424.4 L734.3,427.1 L734.1,428.0 L734.4,428.3 L734.1,426.9 L734.4,426.0 L734.9,423.5 L734.7,423.6 L735.2,422.0 L735.0,419.1 L735.0,418.3 L735.3,418.7 L735.6,417.1 L735.9,418.1 L736.1,417.0 L735.9,414.7 L736.2,413.4 L736.4,411.4 L736.0,410.0 L736.1,408.7 L736.2,407.9 L736.3,408.7 L736.6,406.0 L736.5,404.8 L736.4,405.8 L736.5,402.6 L737.0,402.1 L736.5,401.8 L737.1,399.9 L736.9,400.6 L737.2,400.4 L736.9,397.0 L736.9,398.5 L737.0,395.0 L737.3,394.7 L737.1,393.3 L737.2,392.9 L737.1,392.5 L737.2,393.0 L737.2,391.4 L737.5,388.6 L737.7,388.8 L737.4,387.2 L737.6,386.7 L738.0,385.9 L737.6,384.2 L738.1,384.6 L737.8,380.8 L738.1,382.8 L738.3,381.4 L737.8,380.9 L738.0,377.5 L738.4,378.9 L738.5,374.7 L738.2,376.3 L738.5,374.7 L738.3,372.2 L738.5,372.3 L738.9,371.7 L739.2,369.3 L739.3,368.1 L739.1,368.8 L739.5,368.5 L739.5,367.6 L740.1,363.6 L740.3,363.4 L740.7,362.5 L740.5,360.3 L740.9,360.6 L740.8,359.5 L741.2,357.5 L741.2,358.9 L741.7,358.0 L742.1,355.3 L742.1,354.3 L742.3,353.2 L742.1,350.6 L742.7,351.8 L742.6,349.6 L742.9,348.8 L743.2,347.3 L743.0,345.8 L743.7,346.3 L743.8,344.1 L743.7,342.2 L744.2,343.9 L744.2,342.6 L744.5,341.2 L744.7,339.7 L744.8,339.3 L744.8,337.2 L744.8,336.8 L744.9,336.1 L745.3,336.0 L745.7,334.7 L745.7,331.2 L745.8,331.2 L746.0,331.3 L745.9,329.7 L746.1,327.2 L746.0,328.2 L746.7,326.7 L746.4,325.4 L746.6,323.4 L746.8,323.2 L746.6,321.2 L746.8,322.6 L747.4,318.8 L747.2,319.3 L747.1,317.6 L747.3,317.3 L747.8,315.1 L747.8,314.1 L747.9,313.3 L747.9,313.7 L748.1,312.8 L747.9,310.0 L747.9,310.9 L748.1,307.6 L748.6,308.9 L748.8,305.5 L748.5,306.1 L748.8,304.9 L749.3,304.6 L749.4,306.9 L749.2,308.1 L749.3,308.8 L749.9,310.8 L749.6,311.0 L749.6,313.4 L749.9,312.4 L750.1,314.2 L750.2,313.6 L750.3,316.1 L749.8,317.1 L749.9,319.0 L750.3,320.1 L750.0,320.3 L750.6,322.5 L750.2,321.7 L750.6,324.1 L750.7,322.5 L750.5,323.6 L750.9,327.2 L751.1,326.9 L750.7,327.0 L750.8,327.6 L750.9,328.6 L751.2,332.4 L751.2,331.5 L751.4,332.8 L751.0,334.0 L751.2,336.5 L751.5,337.1 L751.5,338.3 L751.7,336.8 L751.6,339.5 L751.7,340.2 L751.7,340.0 L751.9,343.4 L752.3,342.5 L752.5,343.9 L752.4,344.8 L752.3,345.7 L752.6,346.8 L752.6,349.8 L752.9,350.7 L753.3,349.6 L753.3,350.2 L753.7,354.0 L753.8,352.6 L753.4,355.0 L753.6,354.3 L754.0,355.0 L754.2,358.0 L754.3,358.7 L754.2,361.1 L754.3,361.3 L754.6,361.2 L754.7,362.8 L755.4,362.4 L755.4,363.3 L755.2,365.0 L755.4,365.3 L755.6,367.5 L755.7,368.3 L756.1,369.8 L756.1,368.4 L756.1,368.3 L756.5,366.8 L756.7,365.1 L756.4,366.1 L756.8,363.4 L757.0,364.1 L757.0,360.2 L757.0,359.6 L757.1,360.9 L757.5,357.5 L757.5,358.7 L757.7,356.7 L758.0,356.0 L757.9,353.9 L758.1,355.0 L757.9,351.3 L757.9,352.4 L758.3,350.1 L758.1,348.4 L758.4,348.6 L758.8,349.5 L759.0,347.6 L758.7,346.0 L759.0,344.4 L759.1,343.9 L759.0,344.2 L759.3,342.0 L759.1,342.0 L759.2,338.9 L759.7,338.6 L759.8,338.3 L759.8,337.7 L759.6,336.4 L759.9,334.0 L759.7,334.6 L759.8,331.6 L759.9,330.0 L760.0,330.6 L760.0,329.5 L760.3,327.9 L760.6,326.4 L760.4,326.9 L760.6,326.5 L760.7,324.4 L760.8,324.2 L761.1,322.6 L761.1,322.7 L761.4,321.5 L761.2,318.4 L761.3,319.5 L761.4,317.7 L761.5,316.2 L761.4,314.4 L761.7,314.3 L762.0,312.0 L761.9,313.2 L761.7,311.2 L761.8,308.9 L762.2,309.6 L762.1,308.3 L761.9,308.5 L762.0,306.2 L761.9,304.1 L762.5,304.3 L762.3,302.0 L762.2,303.4 L762.2,300.4 L762.3,301.1 L762.7,299.5 L762.4,297.7 L762.8,296.1 L762.8,294.6 L762.9,294.5 L762.7,295.5 L762.8,294.1 L763.2,292.6 L763.2,290.0 L763.0,289.6 L763.3,289.7 L763.0,287.9 L763.2,286.8 L763.4,287.2 L763.1,286.4 L763.2,283.5 L763.3,281.3 L763.3,283.3 L763.5,280.9 L763.5,282.2 L763.7,283.6 L763.8,282.4 L763.7,283.6 L763.7,285.3 L763.7,286.7 L763.8,288.7 L763.9,289.9 L764.2,288.6 L764.1,289.8 L764.1,292.1 L764.5,293.9 L764.6,293.6 L764.5,295.2 L764.4,296.8 L764.8,297.5 L764.8,297.1 L764.7,299.2 L764.9,299.3 L764.8,301.3 L765.0,301.2 L764.7,303.7 L765.0,305.0 L765.0,305.9 L765.0,306.6 L764.9,306.4 L765.0,307.9 L765.3,310.7 L765.4,310.6 L765.5,310.2 L766.0,309.7 L765.8,306.3 L766.1,306.7 L766.1,304.2 L766.7,303.6 L766.4,304.8 L766.7,304.4 L767.1,302.1 L766.9,300.8 L767.5,299.0 L767.3,299.6 L767.4,296.9 L767.5,296.7 L768.0,295.7 L768.0,293.5 L768.4,292.8 L768.4,293.0 L768.4,292.4 L768.1,291.3 L768.6,290.2 L768.7,287.3 L768.6,287.3 L768.8,287.9 L768.9,287.1 L769.1,285.1 L768.8,284.6 L769.2,284.0 L769.3,282.1 L769.1,281.2 L769.1,280.3 L769.6,280.0 L769.4,276.3 L769.7,278.1 L770.0,276.6 L769.8,274.3 L769.8,274.7 L770.2,273.4 L770.0,271.2 L770.2,271.5 L770.2,269.8 L770.2,271.5 L770.1,273.0 L770.6,273.4 L770.6,273.9 L770.7,275.8 L770.6,277.6 L770.4,275.6 L770.5,276.4 L770.8,277.7 L770.6,279.9 L771.0,279.5 L770.7,281.3 L771.2,284.7 L770.8,283.0 L771.2,284.2 L771.2,285.1 L771.3,288.2 L771.5,289.2 L771.7,289.0 L771.3,291.3 L771.5,291.0 L771.8,290.9 L771.7,291.7 L771.8,294.4 L771.9,296.1 L771.7,295.1 L772.0,297.2 L771.7,298.5 L772.2,300.0 L772.4,301.7 L772.1,301.1 L772.4,302.4 L772.2,302.0 L772.2,303.6 L772.3,304.4 L772.2,305.7 L772.6,308.4 L772.9,309.9 L772.7,310.6 L772.8,310.6 L772.8,312.6 L773.1,311.4 L772.9,314.5 L773.2,314.2 L773.1,315.7 L773.2,315.3 L773.1,317.1 L773.5,319.1 L773.4,318.0 L773.7,320.6 L773.7,322.1 L773.9,322.0 L773.5,324.3 L773.9,325.8 L773.9,326.4 L773.9,328.2 L773.8,328.4 L774.2,327.3 L774.2,328.8 L774.1,329.4 L774.5,332.4 L774.5,331.6 L774.6,334.4 L774.8,334.0 L774.6,336.5 L775.0,335.8 L774.8,336.4 L774.8,337.2 L775.2,340.1 L775.0,340.5 L775.2,340.3 L775.0,343.1 L775.4,343.9 L775.6,344.7 L775.5,345.7 L775.9,346.5 L775.7,346.7 L775.9,348.7 L776.1,350.0 L776.1,349.7 L776.1,353.2 L776.6,353.1 L776.7,353.8 L776.9,354.2 L776.9,357.3 L777.1,356.8 L776.8,357.2 L777.4,358.3 L777.1,359.6 L777.7,362.3 L777.8,361.9 L777.5,364.6 L777.6,365.7 L778.0,366.9 L778.2,365.1 L778.2,367.3 L778.7,368.0 L778.4,370.8 L778.4,369.0 L778.5,371.7 L779.0,373.5 L779.2,374.5 L779.2,372.7 L779.5,374.9 L779.3,376.7 L779.8,378.8 L780.1,378.9 L780.0,379.7 L780.1,380.0 L780.4,382.9 L780.4,382.4 L780.7,384.0 L780.5,383.3 L781.0,385.7 L780.9,385.8 L781.4,387.7 L781.5,389.8 L781.7,390.4 L781.9,391.4 L781.9,393.5 L781.9,393.2 L782.1,393.0 L781.9,395.5 L782.4,395.4 L782.4,396.2 L782.2,397.7 L782.4,399.7 L782.5,400.8 L782.9,402.3 L782.9,403.7 L782.9,403.5 L782.9,404.1 L783.2,406.1 L783.0,404.6 L783.0,405.9 L783.2,408.3 L783.3,410.1 L783.4,410.9 L783.2,411.6 L783.3,412.0 L783.3,413.6 L783.4,414.5 L783.6,415.6 L783.8,417.3 L783.8,416.6 L784.0,420.7 L784.2,418.8 L784.1,421.3 L784.4,418.9 L784.2,419.2 L784.4,418.1 L784.3,417.8 L784.8,416.9 L784.8,414.9 L785.0,413.6 L785.4,412.8 L785.5,413.2 L785.5,410.1 L785.4,410.4 L785.4,410.2 L785.8,408.3 L786.1,409.9 L786.0,409.4 L786.3,410.0 L786.6,413.8 L786.9,413.3 L787.0,416.1 L787.2,414.8 L787.0,417.5 L787.2,418.8 L787.5,419.1 L787.9,416.6 L787.8,415.5 L787.9,417.1 L788.3,413.4 L788.1,413.8 L788.6,412.8 L788.5,411.0 L788.9,408.8 L788.7,410.4 L789.0,408.3 L789.0,411.0 L789.5,410.3 L789.1,410.8 L789.7,411.5 L789.3,412.4 L789.7,415.1 L789.9,415.8 L789.8,416.1 L790.0,418.6 L790.1,419.0 L789.8,418.9 L790.0,420.7 L790.1,421.3 L790.3,421.2 L790.2,423.8 L790.1,424.2 L790.2,426.3 L790.4,425.3 L790.4,427.6 L790.6,428.6 L790.5,429.0 L790.8,429.4 L790.7,432.0 L790.8,431.1 L790.5,432.5 L791.0,433.4 L790.7,434.8 L790.7,438.0 L791.2,438.6 L791.0,439.8 L791.0,439.1 L791.2,440.7 L791.3,441.5 L791.6,442.8 L791.4,442.4 L791.7,445.3 L791.8,446.8 L792.0,445.9 L791.8,447.0 L792.1,447.5 L792.0,451.0 L792.1,450.7 L792.5,450.2 L792.0,453.6 L792.5,454.1 L792.7,454.2 L792.6,455.3 L792.6,458.0 L792.7,458.0 L793.0,457.6 L792.7,460.4 L793.3,462.0 L793.2,463.5 L793.0,463.4 L793.6,463.9 L793.1,464.2 L793.3,467.7 L793.5,465.6 L793.5,466.9 L793.6,468.2 L794.1,470.4 L793.7,472.1 L794.1,472.5 L793.9,471.6 L794.4,474.1 L794.4,475.3 L794.2,475.5 L794.7,471.6 L794.5,472.1 L794.5,469.7 L794.8,470.6 L794.9,470.3 L794.7,467.2 L794.9,468.4 L795.2,465.1 L795.1,465.5 L795.1,463.6 L795.1,464.4 L795.0,461.2 L795.1,461.5 L795.3,459.6 L795.3,459.1 L795.5,459.1 L795.3,455.5 L795.5,456.2 L795.7,452.9 L795.8,452.4 L795.9,452.1 L795.7,451.5 L796.0,451.6 L795.8,448.2 L796.0,447.1 L796.3,447.4 L796.3,445.0 L796.2,446.1 L796.4,444.0 L796.2,441.9 L796.3,443.5 L796.7,441.1 L796.8,440.7 L797.1,439.7 L796.7,438.1 L797.2,435.9 L796.9,437.2 L796.9,436.4 L797.1,433.2 L797.3,434.8 L797.5,432.1 L797.6,434.2 L797.7,433.1 L798.1,435.4 L797.8,435.6 L798.2,435.6 L798.2,438.1 L798.5,438.6 L798.4,441.1 L799.0,440.2 L798.8,441.1 L799.0,441.9 L798.9,443.8 L799.2,445.0 L799.5,446.1 L799.5,447.6 L799.7,449.3 L799.3,450.6 L799.7,448.5 L800.1,451.1 L799.7,452.5 L799.9,453.9 L800.0,452.9 L800.4,455.5 L800.1,457.6 L800.2,456.3 L800.6,456.6 L800.7,460.3 L800.7,459.4 L800.7,460.6 L800.9,462.3 L800.9,464.2 L801.5,463.5 L801.1,466.4 L801.7,465.0 L801.5,467.4 L801.9,466.8 L801.6,468.4 L802.2,471.1 L802.3,469.7 L802.2,473.6 L802.2,472.1 L802.6,474.8 L802.6,475.3 L802.7,475.6 L803.3,478.5 L803.3,479.5 L803.5,479.6 L803.6,479.2 L804.2,481.7 L804.6,483.1 L804.8,483.9 L805.3,486.6 L805.7,486.1 L805.7,486.4 L805.7,484.2 L805.6,482.1 L806.1,483.0 L806.1,480.3 L805.9,479.2 L806.3,480.0 L806.0,478.9 L806.3,476.7 L806.5,477.4 L806.6,475.5 L806.5,473.7 L806.6,473.2 L806.8,472.3 L806.9,469.2 L806.7,468.5 L806.7,469.2 L806.9,466.5 L807.0,466.6 L807.2,468.0 L807.4,469.2 L807.2,468.6 L807.4,472.1 L807.8,470.5 L808.0,472.0 L808.0,474.2 L808.0,474.0 L808.6,476.9 L808.5,477.4 L808.5,476.2 L808.8,476.1 L808.9,475.4 L809.0,472.6 L809.0,472.2 L808.9,471.5 L809.4,470.6 L809.2,468.5 L809.3,469.7 L809.6,467.3 L809.6,467.5 L809.4,463.6 L809.7,462.9 L809.8,464.5 L809.8,461.5 L809.7,461.8 L810.0,460.2 L810.1,459.9 L809.9,458.2 L810.4,458.3 L810.5,455.2 L810.6,455.1 L810.8,454.9 L810.5,453.8 L810.6,452.0 L810.9,452.0 L811.1,449.9 L810.8,447.4 L811.3,448.1 L811.3,448.2 L811.2,446.8 L811.2,446.5 L811.5,443.1 L811.8,443.3 L811.7,440.3 L811.7,440.7 L812.0,440.2 L811.8,440.3 L812.0,436.8 L812.1,436.2 L812.2,436.4 L812.6,434.1 L812.7,432.2 L812.6,431.4 L812.6,431.9 L813.1,431.0 L813.1,429.6 L813.1,427.7 L813.1,427.9 L813.4,426.5 L813.4,425.6 L813.5,425.3 L813.5,427.4 L813.9,429.2 L813.5,431.0 L813.7,430.4 L814.1,433.1 L813.8,432.8 L814.4,432.9 L814.0,435.7 L814.5,435.3 L814.5,438.1 L814.4,439.4 L814.5,437.3 L814.5,441.5 L814.9,442.0 L815.0,441.5 L814.6,443.2 L815.0,444.5 L815.0,445.0 L815.3,445.0 L815.2,446.0 L815.4,446.7 L815.6,450.4 L815.7,449.1 L815.9,450.1 L815.9,454.0 L815.9,453.4 L816.2,455.6 L816.5,455.8 L816.4,456.4 L816.8,455.3 L816.8,452.7 L816.5,453.0 L816.8,449.7 L816.6,450.9 L817.1,449.3 L816.9,446.7 L816.9,448.2 L817.3,445.6 L816.9,445.8 L817.4,444.9 L817.2,442.3 L817.4,441.0 L817.6,439.9 L817.6,440.7 L817.5,438.9 L817.4,438.4 L817.8,436.2 L817.4,435.8 L817.6,434.1 L817.5,432.0 L817.8,432.1 L817.7,432.2 L818.0,430.2 L818.3,427.8 L817.9,429.6 L818.0,426.4 L818.4,425.8 L818.4,424.1 L818.7,424.1 L818.5,424.4 L818.8,420.4 L818.7,422.2 L819.0,420.2 L818.8,417.5 L818.8,417.4 L819.0,416.6 L819.0,415.1 L819.3,414.8 L819.6,414.2 L819.4,411.8 L820.0,412.5 L819.6,411.9 L819.7,409.0 L820.0,408.0 L820.4,406.1 L820.6,405.0 L820.5,403.9 L820.8,404.0 L821.0,403.7 L821.3,401.0 L821.3,402.1 L821.5,398.3 L821.8,399.2 L822.1,397.5 L822.4,397.4 L822.2,395.1 L822.1,394.0 L822.7,394.5 L822.6,391.5 L822.5,392.6 L822.8,389.0 L823.0,388.1 L823.2,388.8 L823.1,386.6 L823.1,385.3 L823.3,387.0 L823.2,384.7 L823.2,383.9 L823.6,382.4 L823.7,381.1 L824.0,381.3 L823.7,377.8 L824.1,379.9 L824.0,377.3 L824.1,377.8 L823.9,373.9 L824.4,375.5 L824.4,371.6 L824.5,373.0 L824.1,370.9 L824.4,368.4 L824.8,370.5 L824.8,366.6 L824.9,367.9 L824.8,365.0 L824.8,363.5 L824.8,362.8 L824.9,361.2 L824.8,360.2 L825.1,360.8 L825.3,360.5 L825.3,357.3 L825.8,358.3 L826.0,356.6 L825.8,355.3 L826.0,355.6 L826.5,352.8 L826.7,354.2 L826.7,352.2 L826.9,350.8 L827.0,350.1 L827.1,349.5 L827.2,347.6 L827.6,346.1 L827.3,346.1 L827.5,346.2 L828.0,344.3 L827.7,341.1 L828.2,340.2 L828.2,340.8 L828.2,340.1 L828.3,340.1 L828.3,337.0 L828.8,336.4 L828.9,337.1 L828.9,333.8 L828.8,332.9 L829.1,330.8 L829.2,332.2 L829.3,331.7 L829.8,330.3 L829.5,327.2 L829.7,326.8 L830.0,327.0 L830.2,325.4 L830.0,326.2 L830.1,326.5 L830.3,327.6 L830.4,330.8 L830.5,329.1 L830.4,329.8 L830.5,331.3 L830.6,331.9 L830.7,333.4 L830.7,335.0 L831.0,335.1 L830.9,336.8 L831.2,338.4 L831.4,339.1 L831.7,341.7 L831.3,341.8 L831.8,342.4 L831.4,344.9 L831.7,345.4 L831.7,345.7 L831.6,347.9 L831.9,347.6 L831.9,346.9 L832.2,348.2 L831.9,350.0 L832.0,350.4 L832.2,351.2 L832.2,354.8 L832.5,353.3 L832.4,356.5 L832.5,357.4 L832.8,358.2 L832.9,360.1 L833.2,358.3 L833.0,360.4 L833.0,361.6 L833.1,362.4 L833.1,361.5 L833.5,359.1 L833.5,359.7 L833.9,358.1 L833.8,357.5 L834.4,356.2 L834.2,353.9 L834.3,353.8 L834.5,354.2 L835.0,354.2 L835.3,350.1 L835.1,351.7 L835.3,349.2 L835.6,349.0 L835.7,347.6 L835.7,347.1 L835.9,350.7 L836.0,351.8 L836.4,350.2 L836.0,354.2 L836.5,352.0 L836.7,354.7 L836.3,354.8 L836.7,354.9 L836.8,358.8 L837.0,357.3 L836.7,358.1 L836.9,358.9 L837.2,360.6 L837.1,363.9 L837.4,363.1 L837.5,364.3 L837.7,364.5 L837.6,366.0 L837.9,367.8 L837.8,370.1 L837.8,369.3 L837.9,370.5 L837.9,371.8 L838.2,373.4 L838.3,373.5 L838.6,373.7 L838.3,370.5 L838.9,369.4 L838.6,370.8 L839.0,368.3 L838.9,369.0 L839.2,367.5 L839.4,366.8 L839.2,364.6 L839.6,363.6 L839.2,362.4 L839.7,362.6 L839.5,361.4 L840.0,357.7 L839.6,357.8 L840.3,355.8 L840.3,355.3 L839.9,354.0 L840.3,353.2 L840.5,351.8 L840.4,352.1 L840.4,350.4 L840.9,349.6 L840.7,348.1 L841.2,346.3 L840.9,347.0 L841.2,344.4 L841.3,346.6 L841.3,343.9 L841.3,345.4 L841.7,344.9 L841.8,346.5 L841.7,347.5 L841.8,348.0 L841.8,351.2 L841.7,349.2 L841.8,352.1 L842.1,351.8 L842.3,354.5 L842.1,354.8 L842.4,357.0 L842.4,357.2 L842.6,359.2 L842.4,358.4 L842.6,361.1 L842.4,361.1 L842.7,360.5 L842.9,362.1 L842.9,362.8 L842.9,364.0 L842.8,366.0 L843.1,366.6 L843.3,367.0 L843.1,369.1 L843.6,370.7 L843.2,370.9 L843.7,372.9 L843.4,373.4 L843.4,373.3 L844.0,375.4 L843.8,375.7 L843.7,376.1 L844.0,379.5 L844.4,380.6 L844.4,380.7 L844.3,380.9 L844.2,378.5 L844.6,379.5 L844.4,378.2 L844.5,376.9 L844.6,374.2 L844.5,374.1 L844.9,374.8 L845.0,372.7 L844.8,373.2 L845.0,369.3 L844.7,369.0 L845.1,370.1 L845.1,368.0 L845.2,368.3 L845.0,364.4 L845.3,363.6 L845.5,365.3 L845.6,363.6 L845.5,362.0 L845.3,360.4 L845.8,360.9 L845.7,357.1 L845.9,357.9 L845.8,355.0 L845.8,356.1 L846.0,354.2 L846.2,354.3 L846.3,351.2 L846.0,352.0 L846.2,350.2 L846.4,349.4 L846.6,347.0 L846.4,348.2 L846.7,345.8 L846.4,346.2 L846.6,342.6 L846.6,344.4 L846.9,341.0 L846.7,342.0 L846.9,340.2 L846.8,339.8 L847.3,337.4 L847.1,336.3 L847.3,337.8 L847.3,336.1 L847.6,335.2 L847.5,332.2 L847.7,330.5 L847.5,330.0 L848.0,330.2 L847.7,329.8 L847.9,328.1 L848.3,327.8 L848.4,326.6 L848.5,326.5 L848.5,323.3 L848.3,323.1 L848.7,322.0 L848.9,320.4 L848.9,321.8 L849.0,318.6 L848.9,319.2 L848.9,318.0 L849.2,317.4 L849.3,316.6 L849.4,314.3 L849.6,315.6 L849.5,315.1 L849.6,316.4 L850.1,318.4 L849.7,318.7 L850.1,321.1 L850.4,319.7 L850.1,322.7 L850.2,323.8 L850.2,324.9 L850.7,326.2 L850.5,325.1 L850.7,327.3 L850.7,329.3 L851.1,329.8 L851.2,331.4 L851.0,331.1 L851.2,331.4 L851.3,333.3 L851.5,335.6 L851.8,334.1 L851.6,337.5 L851.9,338.4 L851.9,337.5 L852.2,339.7 L852.2,339.3 L852.4,343.1 L852.2,342.9 L852.4,343.9 L852.7,342.4 L852.9,343.4 L853.5,341.9 L853.2,338.4 L854.0,340.1 L854.2,339.3 L854.4,337.5 L854.8,334.8 L855.0,334.3 L855.0,332.8 L855.4,332.8 L855.5,333.5 L855.8,335.2 L855.9,336.5 L855.5,336.2 L855.8,336.2 L856.2,339.3 L856.0,339.4 L856.0,342.1 L856.3,341.7 L856.3,342.1 L856.3,344.1 L856.5,346.4 L856.4,345.5 L856.8,348.3 L857.2,346.1 L856.9,349.7 L857.1,348.6 L857.4,349.9 L857.5,352.9 L857.4,351.7 L857.2,352.2 L857.4,354.0 L857.9,355.1 L858.0,355.9 L858.1,358.5 L858.0,358.7 L857.8,360.8 L858.4,362.1 L857.9,363.1 L858.1,363.9 L858.1,363.4 L858.1,364.7 L858.6,367.4 L858.4,368.1 L858.9,366.2 L858.9,368.7 L858.6,370.0 L858.9,369.6 L859.1,372.5 L859.0,371.2 L859.0,374.2 L859.3,374.3 L859.3,376.1 L859.1,375.3 L859.4,377.3 L859.2,378.7 L859.5,380.7 L859.5,381.7 L859.6,380.1 L859.8,383.7 L859.8,384.2 L860.0,383.2 L859.8,384.4 L859.8,385.6 L859.9,388.5 L859.9,387.9 L860.2,389.0 L860.3,391.1 L860.3,392.9 L860.3,393.9 L860.4,392.6 L860.4,394.3 L860.6,395.7 L860.8,395.6 L861.2,394.0 L860.9,392.9 L861.3,390.1 L861.7,389.3 L861.6,388.5 L862.0,387.4 L862.0,389.2 L862.4,387.4 L862.8,386.0 L862.8,384.6 L863.1,386.5 L863.2,386.4 L863.2,388.9 L862.9,387.5 L863.3,388.2 L863.3,390.4 L863.3,391.4 L863.2,393.9 L863.3,392.5 L863.7,394.6 L864.0,396.9 L864.0,396.7 L863.9,398.3 L864.0,398.9 L864.2,400.0 L864.2,400.1 L864.1,400.3 L864.3,402.7 L864.6,403.6 L864.3,403.9 L864.8,406.5 L864.9,406.5 L864.7,406.0 L864.7,410.2 L865.2,410.6 L865.0,410.6 L864.7,409.4 L864.7,408.5 L864.6,407.8 L864.4,406.2 L864.1,407.0 L863.9,404.3 L864.0,404.6 L863.8,406.4 L864.0,407.8 L864.1,409.1 L864.6,408.3 L864.6,411.3 L864.5,412.6 L864.8,413.1 L864.8,414.4 L864.6,414.9 L865.0,416.7 L864.8,416.0 L865.4,418.7 L865.3,419.0 L865.3,419.0 L865.7,420.6 L865.3,421.5 L865.7,423.5 L865.8,423.6 L866.2,423.7 L866.4,420.0 L866.5,420.1 L866.5,420.9 L866.7,419.9 L866.6,415.6 L867.1,415.9 L867.0,414.1 L867.3,413.2 L867.5,412.7 L867.7,412.0 L868.0,410.8 L868.0,408.8 L867.9,407.7 L868.4,407.6 L868.4,406.9 L868.5,407.1 L868.8,406.3 L869.0,402.3 L869.2,404.0 L869.2,400.8 L869.4,400.5 L869.2,400.7 L869.3,398.1 L869.7,396.3 L869.6,396.6 L869.9,397.5 L870.1,400.4 L870.3,400.3 L870.4,400.1 L870.6,403.3 L870.9,403.8 L870.7,403.0 L871.2,403.4 L871.4,406.2 L871.2,407.2 L871.6,408.2 L871.3,406.9 L871.8,406.4 L871.9,405.1 L871.7,403.5 L872.1,402.5 L871.7,402.2 L872.1,401.2 L871.9,400.5 L872.0,400.7 L872.0,398.2 L871.8,397.3 L872.1,397.0 L872.3,393.6 L872.5,395.5 L872.0,394.4 L872.3,390.7 L872.1,390.8 L872.4,389.7 L872.7,390.4 L872.4,386.5 L872.7,386.8 L872.7,386.9 L872.8,384.3 L872.5,383.1 L872.6,382.4 L872.7,383.0 L873.1,379.9 L872.9,381.1 L872.7,377.7 L872.9,376.3 L872.8,375.3 L873.2,377.2 L873.4,374.4 L872.9,375.3 L873.2,373.4 L873.1,371.9 L873.2,369.3 L873.1,369.2 L873.4,370.0 L873.5,367.9 L873.6,367.7 L873.5,365.7 L873.5,364.1 L873.7,364.9 L873.6,363.1 L874.2,361.4 L874.2,361.9 L874.2,358.6 L874.3,359.5 L874.4,359.2 L874.4,356.3 L874.4,356.8 L874.5,356.0 L874.5,355.4 L875.1,352.6 L874.7,352.5 L875.3,351.2 L874.8,349.4 L875.5,347.2 L875.2,348.3 L875.6,346.7 L875.4,344.8 L875.8,343.1 L875.9,344.9 L876.0,343.7 L875.9,340.9 L875.8,340.4 L876.3,340.1 L876.2,338.7 L876.4,338.7 L876.1,337.7 L876.3,335.0 L876.7,335.8 L876.7,335.3 L877.0,332.1 L876.7,331.0 L876.8,332.4 L877.0,328.5 L877.0,329.8 L877.3,329.1 L877.1,327.9 L877.3,324.5 L877.3,324.6 L877.5,324.2 L877.5,321.9 L877.7,322.7 L877.7,320.1 L877.7,320.9 L877.7,318.1 L877.7,318.8 L877.8,315.2 L878.1,316.1 L878.4,315.0 L878.1,314.2 L878.7,314.2 L878.5,311.7 L878.6,310.5 L879.0,311.2 L878.9,310.0 L879.1,307.5 L879.3,306.2 L879.3,304.6 L879.8,304.4 L880.2,302.2 L879.9,301.6 L880.0,301.9 L880.6,299.2 L880.8,299.4 L880.6,298.5 L881.1,297.4 L881.2,296.3 L881.6,294.2 L881.2,294.6 L881.4,294.9 L881.6,292.4 L881.6,290.6 L882.0,288.6 L882.1,288.2 L882.3,288.1 L882.2,286.2 L882.4,286.3 L882.6,285.9 L882.7,284.4 L882.8,282.9 L883.0,283.2 L883.1,280.4 L883.1,281.2 L883.3,277.6 L883.6,276.8 L883.7,278.6 L883.4,276.8 L883.7,276.5 L883.8,272.5 L883.9,273.1 L884.1,271.1 L884.6,272.3 L885.0,268.6 L884.8,269.0 L885.1,266.8 L885.4,266.0 L885.8,265.6 L885.9,263.9 L886.2,263.5 L886.2,264.9 L886.6,266.7 L886.3,266.0 L886.5,268.5 L886.7,267.3 L887.1,268.1 L887.3,272.1 L886.9,272.2 L887.5,271.7 L887.5,275.2 L887.4,275.8 L887.7,274.9 L887.7,275.0 L887.7,278.1 L888.1,277.0 L887.7,281.2 L888.0,280.4 L888.2,281.5 L888.1,284.0 L888.4,285.2 L888.7,283.9 L888.9,285.6 L888.8,286.1 L888.9,286.1 L888.9,288.6 L888.9,288.1 L889.4,290.0 L889.4,291.2 L889.5,292.7 L889.5,292.1 L889.6,293.4 L889.4,295.6 L890.0,298.0 L889.6,296.9 L890.2,299.0 L889.9,301.1 L890.1,300.7 L890.2,300.5 L890.1,304.0 L890.6,303.2 L890.5,306.5 L890.8,306.7 L891.0,307.2 L890.9,307.9 L891.0,305.2 L891.1,304.6 L891.1,306.1 L891.1,305.3 L891.0,303.2 L890.9,303.1 L891.2,302.3 L891.0,298.2 L891.4,297.2 L891.4,299.2 L891.4,296.3 L891.2,294.5 L891.5,293.4 L891.3,294.9 L891.9,292.4 L891.5,291.7 L891.9,292.0 L891.7,290.0 L891.6,288.4 L892.2,286.3 L891.9,286.7 L891.8,286.6 L891.9,284.9 L892.1,282.9 L892.4,281.7 L892.2,280.4 L892.0,278.8 L892.2,279.3 L892.4,279.9 L892.2,276.2 L892.3,274.9 L892.5,275.8 L892.4,275.6 L892.6,275.0 L892.6,271.7 L892.6,272.3 L892.9,271.3 L892.8,269.3 L893.1,270.0 L892.8,270.1 L892.9,273.7 L893.0,274.3 L893.5,274.6 L893.6,276.9 L893.2,275.4 L893.5,278.1 L893.5,278.2 L893.9,278.0 L894.1,281.6 L893.9,282.8 L894.3,281.8 L894.1,282.7 L894.4,283.3 L894.6,285.0 L894.4,286.4 L894.4,286.8 L894.4,287.4 L895.0,289.5 L895.1,291.7 L894.8,291.1 L894.8,291.6 L895.4,292.9 L895.5,293.8 L895.5,296.0 L895.5,296.3 L895.7,297.0 L895.8,297.6 L896.2,300.6 L896.7,299.3 L897.1,299.7 L897.5,301.1 L897.3,303.1 L897.8,304.0 L897.7,303.6 L898.0,307.4 L898.3,308.7 L898.4,307.5 L898.5,308.9 L898.4,309.2 L898.6,311.2 L898.8,311.6 L898.9,312.1 L899.2,313.8 L899.1,315.3 L898.9,315.3 L899.4,316.9 L899.6,317.1 L899.4,318.0 L899.7,319.9 L899.7,321.5 L900.1,321.2 L900.1,321.5 L900.1,323.2 L900.1,326.6 L900.4,324.6 L900.5,327.2 L900.7,324.7 L901.0,325.1 L901.2,323.7 L900.9,324.3 L901.0,320.9 L901.2,319.6 L901.6,319.9 L901.9,318.5 L901.8,319.2 L901.7,318.2 L901.9,316.8 L902.3,313.8 L902.6,313.8 L902.5,313.9 L902.7,312.0 L903.1,309.3 L902.9,309.5 L903.0,310.1 L903.2,307.9 L903.4,309.6 L903.2,309.7 L903.3,311.0 L903.3,312.3 L903.6,311.5 L903.8,315.0 L903.8,315.9 L903.6,315.7 L903.8,318.0 L903.8,316.4 L903.7,318.2 L904.3,319.8 L903.8,321.1 L903.9,320.7 L904.2,323.0 L904.5,324.8 L904.5,323.7 L904.2,324.6 L904.6,327.3 L904.7,329.9 L904.8,330.0 L904.4,331.4 L905.0,330.6 L904.7,330.7 L905.0,332.6 L904.9,336.0 L905.3,336.6 L905.0,337.5 L905.1,335.9 L905.4,340.0 L905.3,340.2 L905.4,339.8 L905.7,342.1 L905.5,342.6 L905.9,340.3 L905.6,342.1 L905.8,340.5 L906.1,338.1 L906.3,336.6 L906.3,337.6 L906.0,337.3 L906.5,334.9 L906.6,333.4 L906.5,331.4 L906.4,331.4 L906.7,330.6 L907.1,331.1 L907.1,329.4 L907.3,327.7 L907.1,326.3 L907.2,325.7 L907.2,323.1 L907.5,323.5 L907.5,323.6 L907.8,323.3 L907.8,321.5 L907.7,320.9 L908.0,317.6 L908.3,316.4 L907.9,315.9 L908.2,315.6 L908.3,317.4 L908.4,318.9 L908.4,317.0 L908.6,318.7 L908.5,321.6 L908.5,322.3 L908.5,324.0 L909.0,324.9 L909.0,323.8 L909.0,325.9 L908.6,328.2 L909.1,327.6 L909.0,328.9 L909.0,329.7 L909.0,330.2 L909.5,330.8 L909.2,332.0 L909.7,334.0 L909.2,334.0 L909.7,337.5 L909.4,335.6 L909.4,337.0 L909.8,337.9 L910.0,340.5 L910.0,342.4 L910.2,340.4 L909.8,342.1 L909.9,342.6 L910.3,344.3 L910.3,344.6 L910.0,347.8 L910.2,347.6 L910.4,348.2 L910.6,351.2 L910.7,351.8 L910.8,352.9 L910.6,352.8 L910.7,354.8 L910.8,353.4 L910.7,357.5 L910.8,355.4 L910.9,358.0 L911.1,356.9 L911.1,354.6 L910.9,356.3 L911.0,352.7 L911.6,351.3 L911.5,351.8 L911.5,350.8 L911.5,348.4 L911.5,349.4 L911.8,348.3 L911.6,346.0 L911.6,346.9 L912.2,345.1 L912.1,344.4 L912.3,341.1 L912.4,342.8 L912.2,339.3 L912.1,339.3 L912.4,337.4 L912.2,338.9 L912.8,335.6 L912.6,336.9 L912.7,334.2 L912.6,335.0 L913.1,333.0 L913.2,332.1 L913.3,331.8 L913.0,327.8 L912.9,327.1 L913.2,327.2 L913.3,325.2 L913.5,325.6 L913.9,322.8 L914.0,323.5 L913.9,320.9 L914.2,320.2 L914.4,320.1 L914.4,319.0 L914.5,319.7 L914.9,315.6 L915.0,314.4 L915.1,313.6 L914.8,312.7 L915.1,313.3 L915.1,310.8 L915.2,310.7 L915.5,311.0 L916.0,309.4 L915.9,307.9 L916.2,308.0 L916.8,305.8 L917.1,305.9 L917.1,303.2 L917.4,304.1 L917.7,300.7 L918.1,302.4 L918.6,300.2 L918.4,300.3 L918.8,302.1 L919.0,304.7 L919.2,304.7 L918.9,305.7 L919.2,307.8 L919.2,307.0 L919.3,306.8 L919.6,309.5 L919.2,310.4 L919.6,310.8 L919.8,312.6 L919.8,314.5 L919.9,314.8 L919.7,316.2 L919.9,318.3 L919.7,317.9 L919.7,317.4 L920.3,318.5 L920.4,321.4 L920.5,320.5 L920.1,321.3 L920.6,323.5 L920.4,324.1 L920.4,325.7 L920.7,327.0 L920.6,328.4 L920.9,330.4 L921.1,328.4 L921.0,331.0 L921.3,329.1 L921.0,328.3 L921.2,326.4 L921.3,328.3 L921.4,327.0 L921.1,325.5 L921.4,324.8 L921.5,322.1 L921.3,322.0 L921.6,320.2 L921.3,319.6 L921.4,318.1 L921.5,316.5 L921.7,315.6 L921.6,316.4 L921.8,315.1 L921.7,314.0 L922.2,313.0 L921.9,312.1 L922.1,311.5 L922.0,308.7 L922.3,309.4 L922.6,307.7 L922.6,308.1 L922.7,305.4 L922.7,305.5 L922.3,305.1 L922.6,302.8 L922.8,301.2 L923.0,299.8 L922.8,299.0 L922.6,297.9 L923.0,296.6 L923.2,297.4 L923.1,294.2 L922.8,296.0 L922.9,295.0 L923.4,293.8 L922.9,292.4 L923.2,291.4 L923.6,290.3 L923.7,289.9 L923.6,287.8 L923.4,287.6 L923.6,284.9 L923.7,284.7 L923.5,287.1 L924.0,286.9 L923.7,288.2 L923.8,289.8 L924.0,290.3 L924.3,289.2 L924.1,292.9 L924.2,291.4 L924.2,294.5 L924.6,293.5 L924.7,295.0 L924.8,295.5 L924.8,299.6 L925.1,300.8 L924.8,299.5 L925.3,301.7 L925.5,302.1 L925.0,302.8 L925.5,303.4 L925.4,304.7 L925.7,305.4 L925.7,306.4 L925.7,307.3 L926.0,308.9 L925.8,310.2 L925.7,312.9 L925.9,312.2 L926.2,313.5 L926.2,315.8 L926.4,315.6 L926.5,315.7 L926.5,317.1 L926.8,320.0 L927.1,319.3 L926.8,321.0 L927.3,322.2 L927.5,321.5 L927.5,324.7 L927.2,324.1 L927.6,327.0 L927.7,325.1 L927.6,327.7 L928.1,329.1 L928.3,328.5 L928.4,329.8 L928.4,333.0 L928.6,334.4 L928.6,333.5 L928.7,334.9 L928.7,335.5 L929.1,335.9 L929.0,338.0 L929.1,339.5 L929.4,338.9 L929.5,342.5 L929.5,340.8 L929.8,343.4 L929.7,344.9 L930.0,344.6 L929.7,345.0 L929.8,347.2 L930.4,348.9 L930.5,347.3 L930.4,349.8 L930.7,349.7 L930.9,353.1 L930.6,352.7 L931.0,355.4 L931.2,355.1 L930.9,357.1 L931.5,356.1 L931.4,358.0 L931.2,358.2 L931.5,355.3 L931.8,353.8 L931.9,353.2 L931.9,352.9 L931.7,350.4 L931.9,351.3 L931.9,348.9 L932.0,348.3 L932.0,346.4 L932.5,346.9 L932.6,345.0 L932.7,343.1 L932.6,343.8 L932.4,342.4 L933.1,341.8 L933.1,341.0 L932.8,337.8 L933.3,337.5 L932.9,337.4 L933.4,336.4 L933.5,335.0 L933.4,334.3 L933.5,332.9 L933.9,333.0 L933.5,332.9 L934.0,331.0 L934.0,329.9 L934.3,327.3 L934.1,327.2 L934.4,326.4 L934.3,325.8 L934.3,322.7 L934.3,321.7 L934.2,322.9 L934.4,319.8 L934.3,320.6 L934.4,320.0 L935.0,318.6 L934.8,315.5 L934.7,316.3 L935.0,314.4 L935.1,313.3 L935.4,313.3 L935.5,312.1 L935.2,309.5 L935.5,309.5 L935.2,310.0 L935.8,308.0 L935.3,305.1 L935.4,307.3 L935.5,304.8 L935.7,302.6 L936.1,301.9 L936.0,303.0 L936.1,298.9 L936.4,301.0 L936.3,299.2 L936.3,296.2 L936.4,296.3 L936.4,296.4 L936.9,299.1 L937.0,298.2 L936.9,300.1 L937.0,303.1 L937.3,302.4 L937.4,304.8 L938.0,306.1 L938.3,306.5 L938.4,307.1 L938.5,307.8 L938.3,308.2 L938.6,310.2 L938.8,311.9 L939.1,311.7 L938.9,312.9 L939.6,314.6 L939.3,315.1 L939.5,316.1 L939.8,316.6 L939.9,316.7 L940.3,318.8 L940.1,318.7 L940.4,322.5 L940.8,320.8 L940.8,324.5 L940.5,322.6 L940.7,326.0 L941.2,327.4 L941.1,328.3 L941.5,329.5 L941.6,328.3 L941.7,328.5 L941.8,331.0 L941.8,329.7 L942.0,328.3 L941.9,329.3 L941.7,326.3 L942.0,325.7 L942.2,326.5 L942.4,324.8 L942.4,321.7 L942.4,323.4 L942.2,319.5 L942.6,321.6 L942.6,319.1 L942.7,319.0 L942.8,318.0 L942.7,315.2 L942.7,315.8 L942.6,313.8 L942.8,314.5 L942.7,310.6 L942.8,310.3 L943.0,311.3 L942.8,307.1 L943.3,308.9 L942.9,307.9 L943.1,306.4 L943.1,304.0 L943.0,304.6 L943.6,301.8 L943.5,300.1 L943.4,300.0 L943.3,301.1 L943.3,300.1 L943.8,298.7 L943.4,297.2 L943.5,297.3 L943.8,293.8 L944.1,292.4 L944.1,294.3 L944.0,292.7 L943.8,290.1 L944.3,290.7 L944.1,288.6 L944.4,290.2 L944.1,290.7 L944.4,290.5 L944.2,292.6 L944.5,295.0 L944.6,293.6 L944.8,295.1 L944.7,295.4 L945.0,296.1 L944.9,299.2 L944.7,300.7 L944.8,301.4 L944.8,301.7 L944.8,302.9 L945.2,304.4 L945.4,305.6 L945.4,304.9 L945.5,305.8 L945.7,308.9 L945.4,309.9 L945.6,309.9 L945.4,311.1 L946.0,310.7 L946.0,313.9 L945.9,314.9 L946.2,313.9 L945.8,315.1 L945.8,317.1 L945.9,316.8 L946.5,319.6 L946.4,321.1 L946.7,322.7 L946.2,320.8 L946.6,322.8 L946.6,325.6 L946.8,325.5 L946.7,324.5 L946.8,327.2 L946.7,328.4 L946.9,327.9 L947.0,330.3 L947.1,332.5 L946.9,332.9 L947.4,334.8 L947.3,335.5 L947.5,336.3 L947.7,337.3 L947.8,339.0 L947.7,339.2 L947.5,339.9 L947.6,338.8 L948.0,342.3 L948.3,341.7 L948.0,341.9 L948.4,344.5 L948.2,344.3 L948.5,345.8 L948.1,348.4 L948.2,349.4 L948.7,350.3 L948.9,349.4 L948.8,352.4 L948.5,351.3 L948.8,353.2 L948.8,353.3 L949.1,354.7 L949.1,357.5 L949.2,357.7 L949.4,359.1 L949.3,358.4 L949.2,360.4 L949.5,361.9 L950.0,360.7 L950.0,359.1 L950.5,359.4 L951.3,356.7 L951.3,357.5 L951.7,357.4 L952.4,355.3 L952.6,354.2 L953.0,354.5 L953.2,350.8 L953.2,350.0 L953.4,348.6 L953.7,347.3 L953.7,349.6 L953.8,347.8 L954.3,345.7 L954.2,345.7 L954.5,344.4 L954.7,343.7 L955.0,341.4 L955.5,341.3 L955.7,338.2 L955.7,338.7 L956.1,338.6 L955.9,340.2 L956.5,341.0 L956.5,344.5 L956.7,344.9 L957.3,343.5 L957.2,345.1 L957.7,348.1 L957.9,349.4 L958.1,348.3 L958.4,350.3 L958.3,351.8 L958.9,351.5 L958.8,351.8 L959.1,354.3 L959.3,356.9 L959.3,358.1 L959.2,357.4 L959.3,357.0 L959.5,360.0 L959.6,360.4 L959.7,363.0 L960.0,361.0 L960.1,363.3 L960.4,366.0 L960.3,365.7 L960.2,364.4 L960.3,364.1 L960.6,364.4 L960.8,361.1 L960.3,361.1 L960.5,361.1 L960.4,357.0 L960.7,357.1 L961.1,358.2 L960.8,356.0 L960.9,355.5 L961.0,352.7 L961.1,353.3 L960.9,350.1 L961.2,350.1 L960.9,350.4 L961.3,347.6 L961.5,348.1 L961.3,347.7 L961.7,346.3 L961.4,344.0 L961.3,344.1 L961.8,342.9 L961.9,341.4 L961.6,338.9 L961.8,339.2 L961.6,338.3 L962.0,337.7 L962.2,334.7 L962.3,336.3 L961.8,335.2 L961.9,332.8 L962.0,330.5 L962.2,331.0 L962.5,328.7 L962.3,330.1 L962.7,327.4 L963.0,325.9 L963.1,326.5 L963.1,324.3 L963.3,324.7 L963.9,321.6 L963.8,323.1 L963.8,321.6 L964.4,319.4 L964.3,318.5 L964.8,316.8 L964.9,316.9 L964.9,315.6 L965.2,316.0 L965.6,313.8 L965.5,312.6 L965.5,313.2 L965.8,309.6 L966.2,310.2 L966.7,307.3 L966.9,309.0 L966.7,306.7 L966.8,305.6 L967.4,305.1 L967.1,303.5 L967.5,301.8 L967.6,302.2 L968.0,300.2 L968.4,298.6 L968.3,299.4 L968.9,296.0 L969.0,296.9 L969.1,294.1 L969.5,292.6 L969.7,294.1 L969.4,291.3 L969.9,292.6 L970.2,291.2 L970.3,290.3 L970.5,288.0 L970.8,285.8 L970.7,287.4 L971.1,284.7 L971.1,283.7 L971.2,281.3 L971.6,280.5 L971.9,281.2 L971.8,279.1 L971.8,277.7 L972.3,277.9 L972.0,277.2 L972.2,276.6 L972.8,274.5 L973.0,273.8 L973.0,273.5 L972.8,273.2 L973.2,269.4 L973.0,269.6 L973.1,267.2 L973.7,267.2 L973.9,265.9 L973.8,265.4 L974.1,265.8 L974.0,269.0 L974.1,267.1 L974.2,270.7 L973.9,270.0 L974.0,272.6 L974.1,274.1 L974.6,273.3 L974.4,273.8 L974.7,274.8 L974.4,275.9 L974.8,278.0 L974.5,278.9 L974.6,279.3 L975.0,280.4 L975.0,282.9 L975.0,283.7 L975.3,282.8 L975.2,286.1 L975.0,284.2 L975.6,286.4 L975.1,288.9 L975.6,288.3 L975.5,289.5 L975.4,289.6 L975.9,291.8 L975.7,292.6 L976.1,294.3 L975.6,295.2 L976.0,297.0 L976.0,297.9 L976.0,296.9 L976.1,297.6 L976.1,299.5 L976.1,300.9 L976.2,301.3 L976.7,302.1 L976.5,304.0 L977.0,304.9 L976.7,305.4 L976.9,306.0 L977.5,307.4 L977.4,310.4 L977.7,308.3 L978.2,311.1 L978.2,310.2 L978.3,312.2 L978.6,314.4 L978.9,314.9 L979.0,314.4 L979.1,317.9 L979.1,319.4 L978.8,318.6 L978.9,318.7 L979.2,319.3 L979.4,323.2 L979.0,321.5 L979.6,323.8 L979.5,324.1 L979.1,324.4 L979.5,328.8 L979.3,329.4 L979.8,327.9 L979.5,329.3 L979.7,330.4 L979.7,331.2 L979.6,333.9 L980.1,335.4 L979.8,334.0 L980.1,336.0 L980.3,338.0 L980.0,336.9 L980.3,340.4 L980.1,338.7 L980.1,339.7 L980.3,343.5 L980.5,342.5 L980.2,343.8 L980.6,346.9 L980.7,345.2 L980.5,348.6 L980.4,347.9 L980.6,350.2 L980.4,349.7 L980.7,352.9 L980.6,353.5 L980.8,353.5 L980.9,353.2 L981.0,357.1 L981.2,354.9 L981.2,358.9 L981.0,360.3 L981.4,360.1 L981.6,361.1 L981.2,360.1 L981.4,362.1 L981.5,363.6 L982.0,365.0 L982.1,366.1 L982.0,366.4 L982.2,367.2 L982.3,367.2 L982.2,369.1 L982.0,369.3 L982.1,371.5 L982.8,373.7 L982.8,375.5 L982.6,375.4 L982.8,375.2 L982.8,376.3 L982.9,377.5 L983.1,377.7 L982.9,379.8 L983.1,380.7 L983.4,382.2 L983.2,383.3 L983.5,384.3 L983.7,387.0 L983.5,385.1 L983.6,385.8 L983.6,387.5 L983.7,388.3 L984.2,391.3 L984.0,391.7 L984.2,392.7 L984.2,393.7 L984.1,393.3 L984.6,397.3 L984.1,397.6 L984.5,397.2 L984.7,398.5 L984.8,399.2 L984.7,402.5 L984.9,402.1 L985.1,404.1 L985.1,403.4 L984.8,404.8 L984.8,406.5 L985.4,407.4 L985.2,408.1 L985.3,407.9 L985.4,409.5 L985.3,410.2 L985.4,413.5 L985.6,412.6 L985.9,413.9 L985.8,415.2 L986.0,416.4 L985.9,418.1 L986.3,418.0 L986.1,420.5 L986.0,420.5 L986.5,420.8 L986.7,423.2 L986.5,422.6 L986.8,424.9 L986.8,425.3 L986.6,425.0 L986.9,429.0 L987.1,427.3 L987.1,429.4 L987.4,432.2 L987.2,431.7 L987.3,432.8 L987.2,434.9 L987.8,433.5 L987.7,437.0 L987.8,435.3 L988.0,436.7 L987.8,437.3 L988.0,440.0 L988.0,440.5 L988.2,443.5 L988.0,441.8 L988.3,442.7 L988.2,443.8 L988.3,446.5 L987.9,445.4 L988.4,446.9 L988.5,450.3 L988.2,450.0 L988.6,450.9 L988.6,453.7 L988.6,452.1 L988.6,454.9 L988.5,455.6 L988.8,454.6 L988.6,456.1 L988.6,458.6 L988.5,458.6 L988.6,461.6 L988.9,460.8 L988.7,462.2 L988.6,463.4 L988.9,464.7 L989.0,464.7 L988.7,464.7 L989.1,467.4 L989.0,469.7 L988.8,468.1 L988.8,470.4 L989.1,471.6 L989.0,471.4 L989.0,474.3 L989.4,474.6 L989.1,474.4 L989.3,474.9 L989.1,478.8 L989.2,477.8 L989.3,478.1 L989.5,481.6 L989.4,479.9 L989.4,483.6 L989.3,485.0 L989.3,485.4 L989.4,485.6 L989.8,485.4 L989.8,488.0 L989.8,489.4 L989.7,489.5 L989.7,489.6 L990.0,487.5 L989.9,485.9 L989.7,486.2 L989.8,485.4 L990.0,482.2 L990.2,483.0 L990.1,482.3 L989.9,478.8 L989.9,480.1 L990.0,479.8 L990.5,478.9 L990.0,475.9 L990.2,473.7 L990.3,475.1 L990.6,473.6 L990.6,471.0 L990.6,469.8 L990.6,469.2 L990.7,470.8 L990.7,467.0 L990.8,466.2 L990.6,466.5 L990.8,466.0 L991.0,463.3 L991.0,462.2 L990.8,463.1 L990.9,461.3 L991.1,459.5 L991.3,457.8 L991.2,456.7 L991.3,457.7 L991.3,455.3 L991.2,456.7 L991.4,452.9 L991.6,451.9 L991.2,451.9 L991.3,450.2 L991.3,449.2 L991.5,450.1 L991.7,447.4 L991.5,445.5 L991.5,446.4 L991.5,444.1 L991.9,443.2 L991.7,444.7 L991.7,442.2 L992.2,440.9 L992.0,440.0 L992.9,438.3 L994.3,438.6 L994.1,438.9 L994.5,439.5 L994.5,442.3 L994.3,442.8 L994.6,444.1 L994.5,444.4 L995.0,444.9 L995.2,446.8 L994.8,448.4 L994.9,447.9 L995.2,448.5 L995.4,451.8 L995.5,451.6 L995.3,452.1 L995.7,453.7 L995.4,455.3 L995.9,454.4 L995.9,456.2 L995.7,458.5 L995.6,457.8 L996.2,458.6 L996.0,460.4 L996.1,460.5 L995.9,464.4 L996.4,463.4 L996.4,463.7 L996.4,465.8 L996.8,468.3 L996.6,468.0 L996.8,466.5 L996.9,465.6 L996.9,464.2 L996.8,465.2 L997.2,461.8 L997.0,462.3 L997.4,461.2 L997.0,460.3 L997.5,458.2 L997.1,458.0 L997.6,458.1 L997.5,457.5 L997.5,456.0 L997.7,455.0 L997.5,454.4 L997.6,451.3 L998.1,452.1 L998.0,449.7 L998.2,448.2 L997.8,448.4 L998.0,445.5 L998.2,446.0 L998.0,443.6 L998.0,443.8 L998.5,442.7 L998.1,441.6 L998.4,442.0 L998.3,441.3 L998.2,440.2 L998.4,437.8 L998.2,436.6 L998.6,436.5 L998.6,436.5 L998.7,434.4 L998.6,431.4 L998.9,432.6 L999.0,432.3 L998.5,430.0 L998.6,430.5 L998.6,428.0 L998.7,427.5 L998.7,425.3 L998.6,426.6 L999.2,423.5 L999.0,421.6 L999.2,422.4 L999.1,420.5 L999.0,421.7 L999.0,417.8 L999.4,417.6 L999.0,418.7 L999.3,416.8 L999.1,416.3 L999.5,412.8 L999.1,413.0 L999.3,412.6 L999.4,409.6 L999.3,409.3 L999.5,409.4 L999.6,409.0 L999.2,407.3 L999.3,407.7 L999.5,405.8 L999.8,405.4 L999.6,403.0 L999.8,402.7 L999.4,402.1 L999.7,400.0 L999.6,399.2 L1000.0,398.4 L999.7,395.9 L1000.0,397.1 L999.6,395.1 L999.7,395.3 L999.6,392.3 L1000.1,393.1 L999.8,389.8 L1000.2,389.9 L999.7,387.6 L999.8,388.0 L1000.0,386.4 L999.8,384.2 L1000.1,384.3 L1000.0,382.3 L1000.5,383.7 L1000.0,381.7 L1000.4,382.0 L1000.4,380.8 L1000.3,377.2 L1000.8,378.8 L1000.6,377.1 L1000.8,376.6 L1000.6,373.1 L1001.1,374.4 L1001.2,372.1 L1001.2,369.9 L1001.2,371.4 L1001.2,368.1 L1001.2,367.1 L1001.2,367.3 L1001.6,367.8 L1001.5,364.7 L1001.5,365.8 L1001.6,362.8 L1001.5,361.0 L1001.5,360.7 L1001.7,360.2 L1002.1,359.6 L1001.9,358.5 L1002.0,357.3 L1002.3,355.7 L1002.3,356.8 L1002.1,355.3 L1002.3,353.6 L1002.2,351.2 L1002.3,351.7 L1002.5,350.7 L1002.9,350.9 L1002.7,348.2 L1003.1,348.2 L1003.1,345.2 L1002.9,344.0 L1003.3,344.3 L1003.4,343.1 L1003.3,343.8 L1003.5,340.5 L1003.2,340.4 L1003.6,340.8 L1003.8,337.0 L1003.5,335.9 L1003.6,337.5 L1003.9,336.1 L1003.9,334.2 L1004.2,335.6 L1004.9,337.7 L1005.1,336.2 L1005.9,338.0 L1005.9,337.3 L1005.9,336.8 L1005.9,335.5 L1006.4,333.2 L1006.2,331.6 L1006.5,332.7 L1006.4,330.7 L1006.8,328.9 L1006.8,330.6 L1006.6,327.4 L1007.2,326.1 L1007.3,327.4 L1006.9,325.0 L1007.3,325.0 L1007.6,321.7 L1007.4,323.4 L1007.5,320.3 L1007.6,320.9 L1007.8,318.7 L1007.8,316.4 L1008.0,315.6 L1008.2,314.4 L1008.3,315.9 L1008.9,314.5 L1009.0,311.2 L1009.2,312.9 L1009.2,310.4 L1009.3,308.6 L1009.6,307.6 L1009.7,307.2 L1010.0,307.7 L1010.0,304.5 L1009.8,305.2 L1010.1,303.3 L1010.1,301.9 L1010.1,299.7 L1010.1,299.7 L1010.0,300.0 L1010.3,297.0 L1010.3,297.2 L1010.5,295.3 L1010.6,295.3 L1010.8,293.6 L1010.6,294.2 L1010.5,293.4 L1010.8,292.3 L1011.1,290.4 L1010.9,289.8 L1011.0,289.0 L1011.0,285.6 L1011.2,284.8 L1011.1,286.4 L1011.5,284.0 L1011.4,282.9 L1011.7,281.6 L1011.5,281.2 L1011.7,280.2 L1011.8,278.5 L1012.1,277.9 L1012.4,275.9 L1012.9,277.4 L1012.9,274.3 L1013.3,272.2 L1013.6,272.4 L1013.7,275.1 L1013.9,274.8 L1014.1,275.8 L1014.5,276.6 L1014.4,277.5 L1014.5,277.9 L1014.6,279.8 L1015.2,281.1 L1015.0,282.5 L1015.2,283.5 L1015.4,282.5 L1015.6,283.9 L1015.7,286.5 L1015.6,286.0 L1016.1,288.4 L1016.2,288.4 L1016.1,288.9 L1016.2,289.1 L1016.7,291.7 L1016.8,289.4 L1016.6,290.7 L1017.1,287.6 L1017.2,289.1 L1016.8,287.9 L1017.0,287.1 L1017.3,284.3 L1017.4,282.5 L1017.6,281.7 L1017.8,281.5 L1017.7,279.7 L1017.6,278.9 L1018.1,279.4 L1017.6,278.1 L1017.9,277.8 L1018.1,275.3 L1018.0,273.6 L1018.2,273.7 L1018.3,271.6 L1018.7,270.6 L1018.4,271.4 L1018.8,270.3 L1018.5,267.0 L1018.8,268.0 L1018.7,265.3 L1018.9,264.3 L1019.4,264.1 L1019.0,263.2 L1019.4,260.2 L1019.4,260.9 L1019.4,260.2 L1019.7,264.3 L1019.6,264.4 L1020.0,263.8 L1019.6,267.4 L1020.2,266.0 L1020.4,269.0 L1020.1,268.4 L1020.6,269.3 L1020.6,271.2 L1020.6,270.6 L1020.8,273.6 L1020.8,272.8 L1020.9,276.3 L1020.8,276.6 L1021.0,276.5 L1021.3,279.7 L1021.1,280.3 L1021.3,280.2 L1021.6,280.3 L1021.6,276.8 L1022.1,277.3 L1022.4,277.2 L1022.9,274.1 L1022.7,275.0 L1023.4,272.6 L1023.6,273.2 L1023.8,271.0 L1023.8,270.0 L1024.4,268.6 L1024.4,268.6 L1024.5,265.9 L1025.0,266.7 L1025.4,265.6 L1025.2,263.0 L1025.3,260.9 L1025.8,260.5 L1025.8,259.0 L1025.7,260.9 L1026.4,258.6 L1026.3,256.5 L1026.8,254.7 L1026.5,256.6 L1026.7,255.5 L1027.1,253.1 L1027.4,255.6 L1027.3,254.0 L1027.1,257.1 L1027.4,258.6 L1027.5,257.4 L1027.4,260.6 L1027.9,258.9 L1027.8,262.3 L1027.8,260.6 L1027.6,262.1 L1027.8,264.4 L1028.0,266.9 L1028.2,267.7 L1027.9,267.7 L1028.3,267.1 L1028.2,269.4 L1028.3,269.3 L1028.5,270.8 L1028.5,272.6 L1028.4,275.2 L1028.5,273.8 L1028.6,276.0 L1028.5,277.1 L1028.8,277.5 L1028.7,279.8 L1029.1,278.4 L1028.9,279.6 L1029.0,281.8 L1029.4,281.1 L1029.2,283.2 L1029.4,285.4 L1029.6,285.4 L1029.5,286.6 L1029.6,286.0 L1029.8,287.7 L1029.5,288.6 L1029.9,290.4 L1029.8,291.7 L1030.4,290.9 L1030.0,290.4 L1030.8,287.3 L1030.9,286.5 L1031.3,286.2 L1031.3,285.4 L1031.6,285.0 L1031.8,284.8 L1032.4,283.3 L1032.7,280.0 L1032.9,280.2 L1033.2,279.9 L1033.0,281.3 L1033.4,281.6 L1033.0,284.2 L1033.2,283.5 L1033.1,287.0 L1033.3,288.8 L1033.7,289.6 L1033.3,290.6 L1033.4,289.9 L1033.7,292.2 L1033.9,291.4 L1033.9,292.4 L1033.6,294.5 L1033.8,296.9 L1034.3,295.7 L1034.2,297.9 L1034.4,298.9 L1034.1,300.5 L1034.1,299.1 L1034.6,303.0 L1034.3,303.2 L1034.8,302.3 L1034.3,303.6 L1034.7,306.6 L1034.9,305.8 L1035.0,306.6 L1035.2,308.0 L1035.0,309.1 L1035.3,311.4 L1035.1,311.9 L1035.0,314.0 L1035.5,312.4 L1035.5,314.3 L1035.2,316.0 L1035.4,317.6 L1035.7,316.6 L1035.5,317.2 L1035.8,320.4 L1036.0,319.0 L1036.0,322.6 L1036.0,322.6 L1035.9,324.8 L1036.0,326.0 L1036.5,324.5 L1036.2,326.3 L1036.4,328.3 L1036.7,328.5 L1036.6,331.2 L1037.1,331.6 L1036.9,331.9 L1036.9,333.0 L1037.0,332.8 L1037.2,334.8 L1037.7,336.2 L1037.8,335.6 L1037.9,336.9 L1038.0,338.6 L1037.7,340.1 L1038.1,341.3 L1038.2,342.2 L1038.5,343.8 L1038.3,344.5 L1038.7,344.9 L1038.7,345.7 L1039.1,345.4 L1039.9,343.9 L1040.7,343.5 L1041.4,341.9 L1041.8,344.3 L1041.7,344.3 L1041.9,344.8 L1041.7,347.2 L1042.1,348.3 L1042.5,347.8 L1042.2,347.5 L1042.4,349.4 L1043.0,350.9 L1042.7,350.8 L1042.8,352.3 L1043.2,354.7 L1043.1,356.7 L1043.5,355.2 L1043.7,357.3 L1043.6,359.9 L1044.2,358.1 L1044.2,361.6 L1044.7,363.2 L1044.8,361.4 L1045.1,365.1 L1045.5,363.4 L1045.7,364.5 L1045.8,368.1 L1046.1,367.9 L1046.4,368.9 L1046.7,369.3 L1046.4,365.7 L1046.8,365.8 L1046.6,364.2 L1046.7,364.6 L1047.0,364.1 L1047.2,362.1 L1047.1,361.7 L1047.2,359.0 L1047.4,359.6 L1047.4,358.3 L1047.1,357.1 L1047.3,354.2 L1047.5,353.8 L1047.5,352.4 L1048.0,351.5 L1047.7,352.2 L1048.2,349.6 L1048.2,349.6 L1048.3,348.0 L1048.3,349.4 L1048.2,346.1 L1048.3,345.7 L1049.3,345.8 L1049.8,342.8 L1050.8,344.1 L1051.4,341.9 L1051.5,343.3 L1052.0,344.0 L1051.9,345.5 L1052.6,347.5 L1052.5,347.9 L1052.9,348.8 L1053.1,347.6 L1053.3,351.4 L1053.8,353.0 L1053.7,351.4 L1054.1,353.5 L1055.3,353.0 L1056.8,353.5 L1057.0,353.7 L1057.2,354.2 L1057.1,358.1 L1057.2,358.8 L1057.3,358.9 L1057.4,359.4 L1057.6,362.0 L1057.6,362.7 L1058.0,361.8 L1057.8,362.2 L1057.8,363.7 L1057.7,364.2 L1058.1,365.0 L1058.2,366.1 L1058.2,370.0 L1058.3,368.0 L1058.5,371.8 L1058.8,371.2 L1058.4,372.2 L1059.1,374.9 L1059.1,375.3 L1058.8,374.0 L1058.8,375.6 L1059.1,376.9 L1059.1,378.4 L1059.3,378.5 L1059.7,381.2 L1059.7,380.3 L1059.6,381.1 L1059.9,383.1 L1059.9,384.3 L1060.1,383.2 L1060.1,381.5 L1060.3,381.6 L1060.3,381.9 L1060.1,378.4 L1060.6,377.9 L1060.6,377.9 L1060.3,375.8 L1060.5,374.6 L1060.7,375.7 L1060.8,372.5 L1061.1,373.5 L1060.8,370.0 L1061.3,369.1 L1060.9,370.1 L1061.3,369.0 L1061.4,366.5 L1061.1,366.4 L1061.5,366.6 L1061.8,364.0 L1061.8,361.8 L1062.0,362.7 L1061.8,361.2 L1062.3,359.1 L1062.3,360.7 L1062.6,357.2 L1063.3,358.0 L1063.4,355.6 L1063.9,356.6 L1064.3,353.7 L1064.5,353.5 L1064.7,352.1 L1065.3,353.1 L1065.9,349.5 L1066.2,351.1 L1066.6,349.1 L1066.6,349.0 L1067.0,347.2 L1067.6,345.7 L1068.2,343.7 L1068.5,344.8 L1068.7,343.9 L1069.2,341.7 L1069.2,342.1 L1070.2,340.1 L1070.5,338.9 L1070.7,338.0 L1071.0,337.6 L1071.5,337.5 L1072.0,334.5 L1071.9,333.8 L1072.1,332.6 L1072.7,333.3 L1073.1,331.6 L1073.4,330.3 L1073.4,328.3 L1074.2,328.4 L1074.2,326.8 L1074.2,326.9 L1074.6,325.7 L1075.0,322.8 L1075.3,324.0 L1075.3,321.5 L1075.5,320.4 L1075.8,320.8 L1076.1,318.7 L1075.9,317.7 L1076.1,317.2 L1076.0,316.3 L1076.1,315.0 L1076.3,315.0 L1076.2,313.9 L1076.4,311.4 L1076.6,312.0 L1076.9,310.5 L1076.4,307.3 L1076.9,308.3 L1076.9,306.0 L1076.6,306.6 L1076.9,305.0 L1077.0,302.6 L1077.1,304.0 L1077.1,302.3 L1077.2,301.5 L1077.4,299.6 L1077.2,299.6 L1077.1,298.8 L1077.1,295.0 L1077.3,295.2 L1077.3,293.6 L1077.6,292.7 L1077.3,291.7 L1077.6,291.2 L1077.6,289.7 L1077.6,288.2 L1078.0,289.8 L1077.7,286.3 L1077.9,287.4 L1078.0,284.4 L1077.8,284.7 L1078.0,281.8 L1078.3,280.8 L1077.9,281.6 L1078.0,278.9 L1078.1,279.6 L1078.0,279.2 L1078.3,278.6 L1078.4,276.3 L1078.3,275.7 L1078.5,274.8 L1078.8,272.7 L1078.5,271.1 L1078.4,271.9 L1078.3,271.3 L1078.5,269.6 L1079.0,267.8 L1078.5,266.5 L1078.6,266.7 L1078.9,266.1 L1079.0,263.4 L1078.8,262.5 L1078.8,260.7 L1078.9,261.0 L1079.3,260.8 L1078.9,260.7 L1079.2,257.4 L1079.5,255.8 L1079.1,257.5 L1079.2,256.1 L1079.5,255.5 L1079.4,254.1 L1079.2,251.2 L1079.2,250.3 L1079.2,249.4 L1079.4,248.2 L1079.2,246.6 L1079.3,245.5 L1079.7,245.8 L1079.5,243.2 L1079.9,244.8 L1079.7,242.2 L1079.5,242.2 L1079.6,240.2 L1080.0,239.7 L1080.0,238.1 L1079.9,237.7 L1080.4,238.5 L1080.6,241.0 L1080.9,240.1 L1081.8,242.6 L1081.8,243.9 L1082.3,244.5 L1082.9,245.7 L1083.0,245.4 L1082.9,246.9 L1083.5,247.1 L1083.4,248.2 L1083.7,248.7 L1083.8,251.8 L1083.7,252.7 L1083.6,252.9 L1083.8,254.4 L1084.1,256.4 L1084.2,255.0 L1084.3,257.1 L1084.6,258.6 L1084.7,257.4 L1084.7,259.8 L1085.0,260.9 L1085.1,259.0 L1085.2,258.3 L1085.5,257.7 L1085.9,255.9 L1086.2,256.8 L1085.8,255.1 L1085.9,255.1 L1086.7,251.9 L1086.4,251.2 L1086.8,249.2 L1087.0,248.6 L1087.0,249.3 L1087.5,247.9 L1087.4,246.6 L1087.7,245.4 L1088.0,245.2 L1088.1,248.5 L1087.7,249.2 L1088.0,250.6 L1087.9,250.7 L1088.0,251.9 L1088.6,252.9 L1088.6,253.8 L1088.6,255.6 L1088.9,256.7 L1088.6,257.6 L1089.1,257.7 L1088.8,259.9 L1089.1,260.8 L1089.4,259.6 L1089.0,260.0 L1089.6,261.1 L1089.4,264.1 L1089.7,265.4 L1089.9,263.9 L1089.7,265.6 L1089.9,268.0 L1090.0,268.6 L1090.3,270.0 L1090.1,269.5 L1090.6,273.1 L1090.5,272.5 L1090.6,273.2 L1090.8,275.1 L1091.0,277.3 L1090.9,276.9 L1091.3,276.2 L1091.4,277.6 L1091.5,278.3 L1091.9,280.0 L1091.6,283.0 L1092.2,283.2 L1092.2,284.7 L1092.3,284.3 L1092.2,286.7 L1092.6,285.6 L1092.7,287.9 L1092.6,287.5 L1092.7,289.0 L1092.8,289.8 L1093.4,290.2 L1093.2,293.3 L1093.3,292.5 L1093.6,296.4 L1093.9,295.6 L1093.5,295.3 L1093.9,297.5 L1093.7,298.5 L1094.3,301.2 L1094.1,301.6 L1094.5,300.1 L1094.5,303.2 L1094.5,302.1 L1094.6,304.5 L1094.7,305.0 L1095.1,306.2 L1095.1,307.7 L1095.3,307.1 L1095.4,310.1 L1095.6,312.5 L1095.4,311.5 L1095.8,312.8 L1095.7,312.3 L1095.9,313.3 L1096.0,315.3 L1096.0,315.7 L1095.9,317.3 L1096.1,319.8 L1096.3,318.7 L1096.7,319.8 L1096.8,323.5 L1096.9,324.3 L1096.7,323.9 L1097.1,324.4 L1096.7,326.6 L1097.3,326.8 L1096.9,329.4 L1097.4,328.0 L1097.5,331.0 L1097.5,331.5 L1097.6,332.1 L1097.9,334.9 L1097.9,334.9 L1098.2,334.7 L1098.2,336.2 L1098.2,336.7 L1098.5,340.0 L1098.6,339.6 L1098.7,341.1 L1098.8,341.4 L1099.4,341.2 L1099.1,343.2 L1099.6,344.0 L1099.6,344.0 L1100.1,347.5 L1100.0,348.5 L1100.2,348.5 L1100.3,348.7 L1101.1,345.8 L1101.3,345.8 L1101.4,342.9 L1101.9,343.0 L1102.1,344.9 L1102.4,345.6 L1102.1,345.3 L1102.4,346.0 L1102.4,349.5 L1102.9,349.7 L1102.8,348.8 L1103.2,352.1 L1103.1,351.1 L1103.1,351.7 L1103.6,354.9 L1103.6,354.5 L1103.5,357.7 L1103.7,357.0 L1104.0,358.1 L1104.3,357.9 L1104.4,358.4 L1104.5,362.1 L1104.4,361.4 L1105.0,363.4 L1105.1,365.6 L1104.9,365.6 L1105.2,365.7 L1105.4,367.5 L1105.5,368.5 L1105.3,368.1 L1105.5,370.4 L1106.0,372.7 L1106.2,372.9 L1106.2,373.2 L1106.2,374.2 L1106.3,375.9 L1106.6,374.5 L1106.7,378.4 L1107.1,377.3 L1107.3,378.9 L1107.3,381.3 L1107.5,382.2 L1107.3,381.9 L1107.6,381.7 L1107.8,383.2 L1107.6,385.0 L1108.3,384.7 L1108.3,388.4 L1108.4,388.3 L1108.2,391.0 L1108.5,389.0 L1108.7,391.1 L1108.9,392.2 L1109.1,394.8 L1109.1,395.4 L1109.1,396.2 L1109.5,397.3 L1109.2,397.1 L1109.6,397.1 L1109.5,397.7 L1109.6,399.9 L1109.9,401.3 L1109.8,401.4 L1110.0,398.7 L1110.3,399.4 L1110.1,397.0 L1110.5,395.4 L1110.3,394.0 L1110.2,392.8 L1110.3,393.2 L1110.7,393.5 L1110.4,391.3 L1110.8,390.3 L1111.0,387.8 L1111.0,389.3 L1110.9,388.5 L1111.0,386.7 L1111.2,384.3 L1111.1,382.6 L1111.3,381.8 L1111.2,381.8 L1111.4,384.6 L1111.3,382.6 L1111.1,383.8 L1111.4,386.7 L1111.2,386.2 L1111.3,387.9 L1111.4,390.1 L1111.7,391.3 L1111.7,392.1 L1111.6,393.5 L1112.0,393.8 L1112.1,394.6 L1111.6,396.3 L1112.1,395.6 L1112.2,398.4 L1112.0,397.8 L1112.0,397.8 L1112.4,400.3 L1112.2,402.8 L1112.3,403.2 L1112.4,404.6 L1112.5,404.0 L1112.5,405.6 L1112.8,402.9 L1112.6,405.2 L1112.5,403.4 L1112.7,401.2 L1113.0,398.9 L1112.8,399.7 L1113.2,397.6 L1113.0,396.8 L1112.8,394.8 L1113.0,396.4 L1113.4,392.9 L1113.5,391.8 L1113.3,393.5 L1113.4,392.1 L1113.7,391.6 L1113.5,388.8 L1113.8,388.8 L1113.7,388.9 L1113.8,386.2 L1114.0,386.1 L1114.2,386.8 L1113.9,387.5 L1114.1,389.3 L1114.3,392.3 L1114.0,392.9 L1114.3,392.9 L1114.3,393.6 L1114.4,394.7 L1114.8,395.9 L1114.6,397.7 L1114.7,398.2 L1115.0,400.4 L1114.8,402.1 L1115.0,400.9 L1115.3,404.1 L1115.1,403.4 L1115.3,402.3 L1115.4,400.1 L1115.1,400.5 L1115.3,400.2 L1115.5,400.0 L1115.3,397.2 L1115.6,395.4 L1115.5,395.0 L1115.9,395.1 L1115.6,393.1 L1115.6,391.1 L1116.1,389.6 L1116.2,388.4 L1115.9,389.5 L1116.1,389.7 L1116.4,385.8 L1116.0,384.8 L1116.2,386.6 L1116.3,384.0 L1116.5,386.6 L1116.3,386.5 L1116.7,387.7 L1116.5,387.4 L1116.6,390.7 L1117.1,388.8 L1117.0,391.2 L1117.2,390.5 L1117.2,392.1 L1117.2,394.5 L1116.9,394.8 L1117.4,395.7 L1117.1,398.7 L1117.4,397.5 L1117.6,399.3 L1117.5,401.4 L1117.6,401.3 L1117.7,399.5 L1118.1,400.3 L1117.7,398.0 L1118.1,397.8 L1118.4,397.6 L1118.4,394.4 L1118.2,393.9 L1118.2,393.8 L1118.6,392.6 L1118.6,391.6 L1118.7,390.2 L1118.9,388.7 L1118.9,388.3 L1119.1,389.4 L1119.1,389.1 L1119.3,391.1 L1119.4,391.0 L1119.3,394.2 L1119.6,396.4 L1119.7,395.1 L1120.1,396.3 L1120.4,397.2 L1120.2,399.1 L1120.5,398.4 L1120.2,398.1 L1120.3,397.1 L1120.2,394.9 L1120.8,394.0 L1120.9,391.9 L1120.5,392.4 L1120.7,391.8 L1120.7,389.5 L1121.0,389.2 L1120.6,388.7 L1121.0,387.2 L1120.7,387.0 L1120.8,386.6 L1121.0,383.1 L1121.4,384.3 L1120.9,381.3 L1121.3,380.2 L1121.0,381.0 L1121.2,379.3 L1121.6,376.9 L1121.2,377.2 L1121.6,377.4 L1121.8,373.6 L1121.4,373.5 L1121.7,371.4 L1121.7,370.7 L1121.9,372.0 L1122.0,369.9 L1121.6,368.6 L1122.0,367.8 L1122.3,369.5 L1122.2,371.1 L1121.8,372.5 L1122.0,371.1 L1122.5,372.5 L1122.3,372.9 L1122.5,375.8 L1122.4,376.3 L1122.6,378.5 L1122.5,377.1 L1122.3,378.3 L1122.5,381.1 L1122.8,382.6 L1122.6,381.4 L1122.6,383.9 L1122.9,383.0 L1123.0,385.0 L1122.6,386.8 L1122.9,386.9 L1123.1,388.9 L1122.8,389.5 L1122.9,389.7 L1123.1,391.5 L1123.0,390.8 L1123.4,391.7 L1123.2,394.2 L1123.3,394.7 L1123.2,397.6 L1123.5,395.7 L1123.1,399.3 L1123.3,400.0 L1123.4,400.0 L1123.5,401.3 L1123.7,399.9 L1123.8,399.9 L1123.8,396.8 L1124.0,396.7 L1124.0,395.5 L1123.7,395.7 L1123.7,395.4 L1123.7,394.6 L1124.2,391.9 L1124.2,390.8 L1124.2,390.1 L1124.1,390.2 L1124.2,388.3 L1124.2,387.3 L1124.7,386.4 L1124.2,386.0 L1124.6,384.0 L1124.4,384.3 L1124.6,384.5 L1124.7,388.0 L1124.9,388.8 L1125.1,388.5 L1125.1,388.7 L1125.1,391.5 L1124.8,391.8 L1125.1,392.2 L1125.4,393.0 L1125.4,395.4 L1125.5,397.9 L1125.6,398.8 L1125.6,400.1 L1125.3,400.3 L1125.2,400.9 L1125.5,401.1 L1125.4,402.0 L1125.8,403.3 L1125.9,403.1 L1125.9,405.6 L1126.2,406.1 L1126.2,403.9 L1125.9,403.1 L1126.3,401.2 L1126.2,399.7 L1126.5,399.5 L1126.1,399.9 L1126.5,396.0 L1126.4,396.7 L1126.7,394.7 L1126.6,393.5 L1126.6,393.1 L1127.1,393.5 L1127.2,391.5 L1127.1,390.8 L1127.2,388.3 L1127.1,388.3 L1127.5,388.2 L1127.1,389.4 L1127.2,391.4 L1127.5,391.4 L1127.7,395.1 L1127.7,393.3 L1127.4,395.3 L1127.6,397.2 L1127.8,397.0 L1127.8,397.0 L1127.6,398.4 L1128.0,399.4 L1127.8,403.3 L1128.0,402.1 L1127.8,403.3 L1128.0,403.6 L1128.2,406.2 L1128.2,405.5 L1128.5,407.6 L1128.4,410.2 L1128.4,409.9 L1128.7,408.1 L1128.8,409.0 L1128.8,408.4 L1128.9,406.6 L1128.7,403.2 L1128.9,405.4 L1128.8,402.4 L1128.9,401.4 L1128.7,400.8 L1128.8,399.1 L1129.1,398.9 L1128.9,397.4 L1129.1,398.0 L1128.9,397.2 L1129.3,395.7 L1129.4,395.5 L1129.3,393.1 L1129.3,391.7 L1129.4,391.3 L1129.7,389.4 L1129.5,388.4 L1129.6,386.3 L1129.5,388.1 L1129.4,385.3 L1129.8,384.8 L1129.7,384.2 L1129.7,382.5 L1129.7,381.8 L1130.0,379.6 L1130.1,379.2 L1130.0,378.2 L1130.4,376.2 L1130.3,377.1 L1130.6,375.2 L1130.6,374.3 L1130.5,374.1 L1130.7,378.0 L1131.2,375.9 L1131.4,377.3 L1131.7,378.8 L1131.4,381.5 L1131.8,380.9 L1132.2,384.1 L1132.1,384.0 L1132.1,386.4 L1132.5,385.5 L1132.1,385.4 L1132.4,389.0 L1132.2,388.4 L1132.5,390.8 L1132.8,390.4 L1132.9,391.2 L1132.7,394.8 L1132.7,394.9 L1132.5,396.0 L1133.1,396.6 L1132.8,398.2 L1132.8,398.2 L1133.2,399.9 L1133.0,399.3 L1133.2,401.3 L1133.3,399.3 L1133.3,399.1 L1133.7,397.8 L1134.0,395.8 L1134.0,396.8 L1134.3,394.8 L1134.2,394.8 L1134.1,397.3 L1134.5,399.3 L1134.4,399.7 L1134.2,401.0 L1134.5,400.6 L1134.9,401.9 L1134.3,402.6 L1134.7,402.9 L1134.5,406.4 L1134.6,407.7 L1134.6,408.5 L1134.9,409.8 L1134.8,409.2 L1134.7,411.6 L1135.1,412.2 L1134.7,413.8 L1134.9,412.1 L1135.0,413.3 L1134.9,416.7 L1135.5,416.3 L1135.1,419.0 L1135.3,418.2 L1135.5,421.0 L1135.4,420.7 L1135.5,422.5 L1135.8,422.2 L1135.7,423.3 L1136.1,425.8 L1135.8,426.3 L1136.0,425.9 L1136.3,428.8 L1136.3,427.7 L1136.8,431.3 L1136.7,429.3 L1136.7,433.2 L1137.0,434.1 L1137.1,433.7 L1137.0,433.4 L1137.5,431.7 L1137.4,430.7 L1137.3,429.3 L1137.9,427.9 L1137.7,427.8 L1137.9,427.0 L1138.1,426.3 L1138.4,425.8 L1138.0,424.4 L1138.1,422.8 L1138.6,420.3 L1138.6,420.7 L1138.7,422.4 L1138.9,423.2 L1138.5,424.6 L1139.2,425.3 L1138.8,424.8 L1139.0,425.9 L1138.8,427.3 L1138.9,430.6 L1139.2,431.3 L1139.2,432.3 L1139.2,431.6 L1139.4,432.0 L1139.6,433.9 L1139.6,436.7 L1139.6,435.8 L1139.9,438.4 L1140.0,438.5 L1139.7,438.4 L1139.7,440.2 L1139.8,441.0 L1140.1,442.3 L1140.4,442.3 L1140.9,443.9 L1141.4,446.7 L1141.8,446.6 L1142.0,447.3 L1142.2,445.1 L1142.1,442.7 L1142.1,441.9 L1142.2,440.7 L1142.1,440.2 L1142.2,441.1 L1142.2,439.8 L1142.6,437.6 L1142.9,436.2 L1143.0,434.5 L1142.5,433.4 L1142.8,434.3 L1143.3,432.4 L1143.3,430.7 L1143.1,429.0 L1143.2,430.1 L1143.3,427.8 L1143.6,425.9 L1143.4,426.3 L1143.6,425.0 L1143.7,423.9 L1143.7,424.3 L1144.2,423.2 L1143.9,421.0 L1144.4,419.7 L1144.4,419.8 L1144.8,419.4 L1144.6,418.6 L1144.8,414.4 L1145.1,416.0 L1145.2,415.6 L1145.6,412.6 L1145.7,412.1 L1145.8,411.9 L1146.1,410.3 L1145.9,407.8 L1146.0,407.6 L1146.3,407.4 L1146.6,406.3 L1146.3,403.5 L1146.5,402.6 L1146.9,403.1 L1147.0,403.2 L1146.9,402.0 L1147.3,398.9 L1147.6,400.3 L1147.8,399.0 L1147.9,397.9 L1147.9,395.2 L1147.9,394.8 L1148.0,393.7 L1148.5,393.6 L1148.2,392.4 L1148.4,390.5 L1148.8,388.4 L1149.1,388.8 L1149.2,387.2 L1149.1,385.8 L1149.5,387.0 L1149.5,386.1 L1150.1,384.9 L1150.0,382.9 L1150.2,384.4 L1150.3,385.7 L1150.0,386.1 L1150.3,387.4 L1150.5,389.2 L1150.4,390.3 L1150.3,389.9 L1150.4,392.4 L1150.5,393.7 L1150.1,392.4 L1150.6,393.7 L1150.4,394.1 L1150.8,396.3 L1150.8,397.4 L1150.7,399.5 L1150.7,398.0 L1150.5,399.9 L1150.6,401.7 L1150.5,401.5 L1150.9,403.7 L1151.0,404.5 L1150.6,405.7 L1150.7,406.2 L1150.7,405.7 L1150.8,407.6 L1150.8,408.5 L1151.0,409.5 L1150.9,410.1 L1151.1,412.1 L1151.4,411.2 L1151.5,411.5 L1151.3,410.2 L1151.6,409.1 L1151.3,407.1 L1151.2,406.6 L1151.4,406.2 L1151.7,403.4 L1152.0,404.3 L1151.5,401.5 L1151.8,401.2 L1151.8,400.5 L1151.9,400.1 L1152.0,399.2 L1151.9,396.7 L1151.9,395.1 L1152.2,394.8 L1152.5,395.5 L1152.6,398.3 L1152.2,398.4 L1152.3,399.0 L1152.3,401.4 L1152.4,401.8 L1152.6,402.0 L1152.4,404.3 L1152.6,403.1 L1152.5,405.0 L1152.8,407.4 L1152.6,408.2 L1152.6,406.9 L1152.5,410.4 L1152.8,409.9 L1152.8,412.3 L1152.7,410.8 L1152.7,414.6 L1152.9,412.6 L1153.1,416.1 L1152.9,417.6 L1153.3,416.9 L1153.2,419.0 L1153.0,419.7 L1153.2,418.6 L1153.2,422.0 L1153.5,423.7 L1153.1,423.0 L1153.7,423.3 L1153.4,424.1 L1153.7,428.0 L1153.3,425.8 L1153.3,429.2 L1153.8,431.2 L1153.4,432.1 L1153.7,431.5 L1153.7,430.0 L1154.0,428.0 L1153.8,428.2 L1153.6,428.1 L1154.0,427.8 L1154.1,426.3 L1154.2,425.0 L1154.2,423.8 L1154.1,421.3 L1154.2,421.1 L1153.9,421.0 L1154.1,419.3 L1154.4,419.8 L1154.2,418.0 L1154.2,417.2 L1154.6,415.4 L1154.5,414.4 L1154.1,413.5 L1154.5,411.9 L1154.6,411.7 L1154.4,409.9 L1154.6,407.9 L1154.6,407.8 L1154.5,406.9 L1154.7,406.2 L1154.4,404.0 L1154.7,403.7 L1155.0,404.4 L1154.7,403.4 L1155.1,402.5 L1154.9,401.5 L1155.1,399.8 L1155.1,400.0 L1154.8,396.6 L1155.3,397.7 L1155.1,396.6 L1155.0,393.4 L1155.4,392.1 L1155.0,391.5 L1155.2,390.0 L1155.2,390.5 L1155.4,390.2 L1155.2,393.4 L1155.9,395.1 L1155.9,395.7 L1155.7,394.0 L1155.9,397.2 L1155.9,397.1 L1156.5,399.8 L1156.2,398.8 L1156.5,400.7 L1156.5,402.0 L1156.6,402.7 L1156.6,405.2 L1157.0,403.6 L1157.1,404.3 L1157.1,407.1 L1157.4,407.8 L1157.4,408.9 L1157.9,409.3 L1157.5,410.8 L1157.5,410.8 L1157.8,414.3 L1157.8,414.8 L1158.0,416.3 L1158.2,415.9 L1158.1,417.2 L1158.2,418.3 L1158.3,418.8 L1158.6,419.3 L1159.0,421.9 L1158.6,422.9 L1159.1,424.5 L1159.3,425.3 L1159.4,425.4 L1159.1,426.9 L1159.5,426.2 L1159.6,426.9 L1159.5,429.4 L1159.9,429.2 L1160.0,431.2 L1160.3,432.5 L1160.1,434.6 L1160.5,433.6 L1160.2,434.2 L1160.5,436.9 L1160.7,438.2 L1161.1,439.5 L1161.5,440.0 L1161.4,440.4 L1161.6,442.5 L1161.7,442.3 L1161.7,442.0 L1162.0,445.1 L1162.2,445.9 L1161.8,446.3 L1162.1,447.6 L1162.0,449.9 L1162.6,448.3 L1162.3,451.4 L1162.8,449.8 L1162.4,453.6 L1162.7,454.1 L1163.1,454.9 L1162.7,456.0 L1163.2,455.8 L1163.0,457.5 L1163.1,458.9 L1163.3,459.5 L1163.4,460.2 L1163.4,461.7 L1163.7,460.2 L1163.6,460.8 L1164.1,457.1 L1164.2,457.5 L1164.4,457.2 L1164.5,457.3 L1164.9,454.7 L1165.3,453.3 L1165.3,454.2 L1165.2,453.4 L1165.6,451.0 L1165.4,450.5 L1165.6,448.7 L1165.7,446.7 L1165.6,446.2 L1166.1,446.2 L1165.7,444.0 L1166.2,442.0 L1165.9,441.0 L1166.3,443.1 L1166.1,439.7 L1166.6,440.2 L1166.3,438.2 L1166.4,436.1 L1166.6,437.6 L1166.9,435.6 L1166.6,435.2 L1166.5,433.1 L1166.8,431.5 L1166.8,430.7 L1166.7,430.2 L1167.0,428.9 L1167.2,426.6 L1167.3,427.2 L1167.3,425.0 L1167.3,425.0 L1167.7,424.9 L1167.3,427.6 L1167.7,428.7 L1167.4,428.4 L1167.7,429.8 L1168.0,431.4 L1168.0,433.5 L1168.2,434.5 L1168.1,435.4 L1168.3,436.8 L1168.1,437.9 L1167.9,438.8 L1168.1,439.5 L1168.3,440.1 L1168.4,440.2 L1168.6,441.9 L1168.2,440.8 L1168.3,442.9 L1168.6,444.5 L1168.9,444.5 L1168.8,441.2 L1169.2,442.9 L1169.2,439.2 L1169.4,441.0 L1169.2,440.1 L1169.5,436.2 L1169.1,436.0 L1169.7,435.9 L1169.3,435.7 L1169.8,434.5 L1170.0,431.7 L1169.9,431.5 L1169.8,434.0 L1170.4,433.4 L1170.1,432.9 L1170.4,436.6 L1170.4,437.9 L1170.5,437.5 L1170.8,439.4 L1170.9,438.8 L1171.0,439.6 L1170.8,440.7 L1171.1,441.7 L1171.6,442.9 L1171.1,443.0 L1171.7,446.2 L1171.6,446.6 L1171.5,447.0 L1171.7,445.4 L1171.6,442.5 L1171.7,441.2 L1172.2,441.9 L1172.3,439.5 L1172.0,439.5 L1172.1,439.0 L1172.2,436.5 L1172.4,437.4 L1172.0,435.2 L1172.2,435.6 L1172.2,434.0 L1172.8,431.8 L1172.3,430.1 L1172.9,430.3 L1172.8,428.7 L1172.8,428.2 L1172.9,427.9 L1173.0,424.9 L1173.1,423.8 L1172.9,422.7 L1172.8,423.7 L1173.2,420.9 L1173.2,420.7 L1173.2,420.2 L1173.5,424.4 L1173.5,422.6 L1173.5,424.1 L1173.6,424.7 L1173.6,427.8 L1173.5,428.6 L1173.6,429.1 L1173.3,429.7 L1173.9,429.2 L1173.9,430.9 L1173.5,431.8 L1174.1,434.2 L1173.7,435.0 L1174.1,436.5 L1173.9,436.4 L1173.9,437.0 L1174.2,438.5 L1174.0,440.0 L1174.4,441.0 L1174.3,440.6 L1174.3,443.1 L1174.2,445.7 L1174.1,444.6 L1174.6,447.2 L1174.2,447.6 L1174.1,448.7 L1174.7,447.4 L1174.8,449.2 L1174.4,452.3 L1174.4,451.5 L1174.7,453.1 L1174.7,450.5 L1174.7,450.2 L1174.7,451.2 L1174.9,449.6 L1174.9,449.0 L1174.8,448.2 L1174.7,446.6 L1175.1,443.4 L1174.8,445.3 L1175.1,442.8 L1175.0,442.6 L1175.4,439.5 L1175.0,440.9 L1175.1,440.4 L1175.4,436.8 L1175.1,437.3 L1175.2,435.1 L1175.5,434.7 L1175.5,435.5 L1175.4,433.4 L1175.4,433.0 L1175.6,431.3 L1175.7,428.6 L1175.8,430.1 L1175.9,428.4 L1175.7,426.2 L1175.6,424.3 L1175.5,424.4 L1176.0,425.2 L1175.7,421.6 L1176.1,423.1 L1176.0,419.3 L1175.9,421.4 L1176.2,419.6 L1176.0,417.3 L1176.0,417.8 L1176.0,414.6 L1175.8,414.5 L1176.3,412.6 L1176.0,412.6 L1176.0,411.3 L1176.0,409.1 L1176.5,410.2 L1176.5,408.4 L1176.4,407.8 L1176.5,409.4 L1176.2,410.9 L1176.8,411.4 L1176.3,411.5 L1176.8,412.2 L1176.4,413.3 L1176.8,415.2 L1176.6,417.5 L1176.8,418.2 L1176.7,419.6 L1177.0,419.1 L1177.2,418.6 L1176.9,421.6 L1177.3,422.7 L1177.0,421.7 L1177.1,425.2 L1177.0,427.0 L1177.5,427.8 L1177.2,426.8 L1177.1,429.7 L1177.6,430.9 L1177.3,431.7 L1177.5,431.5 L1177.4,431.2 L1177.4,428.5 L1177.5,427.4 L1177.5,427.9 L1177.5,424.9 L1177.9,426.4 L1177.7,422.9 L1178.1,422.5 L1178.2,421.4 L1178.1,419.8 L1178.1,420.5 L1178.0,420.9 L1178.1,418.2 L1178.3,418.8 L1178.3,415.1 L1178.2,413.7 L1178.7,413.6 L1178.6,412.1 L1178.6,412.1 L1178.9,411.5 L1178.6,412.9 L1179.0,413.7 L1178.7,416.2 L1178.7,416.4 L1179.2,416.7 L1178.8,420.0 L1178.9,421.8 L1179.5,420.7 L1179.4,421.1 L1179.1,422.5 L1179.4,424.2 L1179.6,425.4 L1179.8,427.1 L1179.6,426.7 L1180.0,429.6 L1179.7,428.1 L1180.0,431.2 L1179.9,430.6 L1179.8,432.1 L1180.1,434.2 L1180.0,435.3 L1180.3,435.8 L1180.5,433.4 L1180.4,433.2 L1180.6,432.2 L1180.6,433.2 L1180.4,432.2 L1180.5,429.0 L1180.7,428.0 L1180.9,428.2 L1180.5,425.9 L1181.1,424.1 L1180.6,423.8 L1181.2,422.6 L1180.9,424.2 L1180.8,422.5 L1181.1,422.2 L1180.9,419.2 L1181.3,419.9 L1181.3,416.0 L1181.5,417.3 L1181.5,417.2 L1181.6,413.1 L1181.1,413.9 L1181.2,413.9 L1181.5,412.2 L1181.5,409.7 L1181.5,408.2 L1181.7,409.8 L1182.0,407.8 L1182.0,407.4 L1181.8,405.6 L1182.0,405.1 L1181.8,406.9 L1182.0,410.2 L1182.1,410.4 L1181.9,412.2 L1182.2,411.4 L1182.1,411.1 L1182.1,414.7 L1182.2,414.9 L1182.4,415.5 L1182.6,415.3 L1182.5,418.5 L1182.5,418.3 L1182.7,418.7 L1182.6,419.2 L1182.4,422.4 L1182.6,422.0 L1182.7,425.2 L1182.6,424.9 L1183.0,427.2 L1182.7,426.6 L1182.8,426.7 L1183.1,427.4 L1183.2,428.1 L1183.1,429.6 L1183.3,430.3 L1183.0,434.0 L1183.3,433.7 L1183.3,433.1 L1183.6,432.8 L1183.2,431.3 L1183.5,431.2 L1183.3,428.1 L1183.5,429.1 L1183.5,426.9 L1183.8,426.0 L1183.6,423.7 L1183.5,422.6 L1183.5,423.6 L1183.7,421.4 L1184.0,421.6 L1183.6,421.1 L1183.9,416.9 L1183.7,419.0 L1184.0,416.9 L1183.7,415.6 L1184.1,414.8 L1184.0,413.2 L1184.2,413.9 L1184.4,410.2 L1184.4,411.6 L1184.2,409.5 L1184.2,408.6 L1184.2,408.0 L1184.3,405.0 L1184.4,404.3 L1184.4,404.4 L1184.5,404.3 L1184.6,402.2 L1184.2,401.6 L1184.4,399.1 L1184.7,400.4 L1184.6,396.8 L1184.8,397.1 L1184.7,394.9 L1184.5,394.8 L1184.9,392.6 L1184.5,391.6 L1184.9,390.8 L1184.9,392.9 L1184.8,390.4 L1184.8,389.4 L1185.0,388.0 L1185.3,388.8 L1185.0,386.2 L1185.3,384.1 L1185.2,383.5 L1185.2,384.2 L1185.1,383.4 L1185.4,381.8 L1185.6,381.7 L1185.3,380.0 L1185.4,378.9 L1185.5,375.5 L1185.8,374.7 L1185.8,375.6 L1185.5,374.5 L1185.8,372.1 L1185.8,370.9 L1185.9,370.3 L1185.8,370.5 L1185.8,369.0 L1185.7,367.4 L1185.8,367.9 L1186.1,366.4 L1186.1,365.8 L1186.0,365.5 L1186.4,362.4 L1186.1,362.7 L1186.1,362.5 L1186.4,360.1 L1186.3,357.7 L1186.5,356.9 L1186.2,355.2 L1186.2,355.1 L1186.5,355.3 L1186.4,352.8 L1186.7,353.8 L1186.6,352.2 L1186.7,351.9 L1186.7,349.9 L1186.7,347.2 L1186.6,348.7 L1186.9,346.9 L1186.7,344.5 L1186.8,345.5 L1187.0,342.2 L1187.2,343.7 L1187.3,342.1 L1187.2,340.8 L1187.1,340.7 L1187.6,340.0 L1187.5,337.3 L1187.8,336.2 L1187.8,334.9 L1187.8,333.7 L1187.7,332.8 L1188.3,330.7 L1187.8,329.9 L1188.1,330.7 L1188.4,327.9 L1188.3,326.3 L1188.3,328.3 L1188.4,324.3 L1188.3,324.5 L1188.7,322.3 L1188.3,322.5 L1188.8,322.7 L1188.9,320.6 L1188.9,319.0 L1188.9,319.5 L1188.7,316.0 L1189.0,317.7 L1188.9,317.2 L1189.2,314.4 L1189.1,313.7 L1189.3,313.5 L1189.2,311.3 L1189.4,309.1 L1189.0,309.3 L1189.2,308.5 L1189.3,309.0 L1189.2,307.9 L1189.3,304.1 L1189.6,305.1 L1189.4,302.2 L1189.9,302.9 L1189.9,299.6 L1189.6,299.5 L1189.8,298.8 L1190.1,299.7 L1190.2,296.6 L1190.3,294.9 L1189.9,294.4 L1190.2,294.1 L1190.2,292.3 L1190.6,291.3 L1190.4,290.6 L1190.4,291.1 L1190.4,289.2 L1190.4,289.0 L1190.9,286.0 L1191.1,285.0 L1190.7,286.3 L1190.7,284.9 L1191.3,282.3 L1191.1,283.5 L1191.4,281.4 L1191.5,281.3 L1191.3,277.4 L1191.4,276.4 L1191.4,277.1 L1191.7,275.4 L1191.9,275.8 L1191.9,273.8 L1192.8,273.4 L1193.3,274.9 L1194.1,274.7 L1194.6,277.2 L1194.5,279.9 L1194.6,280.3 L1194.7,281.5 L1194.7,282.4 L1195.1,283.7 L1195.2,284.6 L1195.2,283.2 L1195.0,285.4 L1195.4,286.6 L1195.4,288.4 L1195.4,287.4 L1195.5,289.5 L1195.4,290.4 L1195.2,293.0 L1195.5,293.6 L1195.3,294.8 L1195.6,292.9 L1195.6,295.2 L1195.7,297.6 L1195.6,297.8 L1195.9,297.5 L1195.6,300.2 L1196.1,300.1 L1195.7,301.8 L1195.9,302.3 L1195.9,304.3 L1196.2,303.9 L1196.0,305.8 L1196.4,306.5 L1196.2,307.5 L1196.5,310.2 L1196.4,309.2 L1196.3,310.3 L1196.8,311.6 L1196.7,311.3 L1196.9,315.1 L1196.6,314.0 L1197.1,314.7 L1197.2,316.3 L1197.0,317.9 L1196.8,318.3 L1197.1,314.3 L1197.0,313.7 L1197.4,314.0 L1197.6,313.4 L1197.4,311.6 L1197.7,309.4 L1198.0,309.4 L1197.9,309.2 L1197.8,309.1 L1198.4,306.5 L1198.0,305.3 L1198.3,305.8 L1198.5,303.4 L1198.5,301.3 L1198.6,302.4 L1198.8,301.4 L1199.1,299.0 L1198.8,299.0 L1199.2,295.9 L1198.8,296.9 L1199.0,296.2 L1199.3,294.1 L1199.4,296.6 L1199.4,297.5 L1199.7,296.6 L1199.6,299.5 L1199.7,298.0 L1200.1,300.1 L1199.9,299.7 L1199.7,302.9 L1200.4,303.7 L1200.1,303.1 L1200.4,305.0 L1200.6,307.6 L1200.3,306.0 L1200.3,310.1 L1200.8,309.2 L1200.5,309.7 L1200.8,312.5 L1200.9,311.5 L1200.9,315.4 L1201.2,314.0 L1201.4,316.1 L1201.2,317.9 L1201.4,317.9 L1201.6,319.4 L1201.8,320.7 L1201.9,321.6 L1202.3,320.8 L1202.5,321.6 L1202.8,324.8 L1203.3,324.1 L1203.3,327.0 L1203.3,327.4 L1203.8,328.1 L1203.7,328.5 L1204.0,326.4 L1204.3,326.6 L1204.2,322.6 L1204.3,322.5 L1204.3,320.5 L1204.6,320.6 L1204.7,318.9 L1204.7,317.7 L1204.8,317.3 L1204.5,315.6 L1204.5,315.0 L1204.9,316.3 L1204.8,315.0 L1205.1,311.8 L1205.0,312.2 L1205.2,312.3 L1205.1,308.6 L1205.6,307.5 L1205.8,308.9 L1205.5,308.0 L1205.7,305.1 L1205.7,306.1 L1205.7,303.0 L1206.2,304.4 L1205.9,301.6 L1206.1,300.9 L1206.0,300.6 L1206.3,301.6 L1206.1,303.6 L1206.3,305.0 L1206.3,305.6 L1206.4,305.3 L1206.4,307.0 L1206.4,307.8 L1206.5,309.2 L1206.5,310.4 L1206.6,310.3 L1206.7,312.2 L1206.7,314.9 L1207.0,316.2 L1207.2,316.6 L1207.2,318.4 L1207.1,319.7 L1206.8,320.0 L1207.4,319.5 L1206.8,320.2 L1207.0,320.4 L1207.1,321.7 L1207.4,324.9 L1207.3,325.0 L1207.6,327.8 L1207.4,328.7 L1207.5,329.0 L1207.5,327.7 L1207.8,328.6 L1207.8,329.6 L1207.5,333.1 L1207.9,332.1 L1207.7,333.9 L1208.0,333.7 L1207.8,337.1 L1207.7,337.5 L1208.0,336.9 L1207.9,340.6 L1207.9,341.8 L1208.3,341.5 L1208.5,342.9 L1208.2,341.7 L1208.6,345.1 L1208.4,345.2 L1208.3,345.0 L1208.7,345.9 L1208.6,347.4 L1208.5,348.5 L1208.6,351.3 L1208.8,351.7 L1208.4,353.8 L1208.9,354.2 L1208.7,355.1 L1208.8,355.3 L1209.3,355.6 L1209.1,357.2 L1209.3,359.7 L1209.9,360.4 L1210.1,361.0 L1210.1,362.7 L1210.5,363.6 L1210.4,363.2 L1210.6,363.2 L1211.2,365.2 L1210.9,366.2 L1211.5,368.4 L1211.6,368.8 L1211.5,366.8 L1211.6,367.8 L1211.8,364.6 L1212.0,363.7 L1211.7,363.3 L1212.1,363.1 L1211.9,360.7 L1212.3,359.4 L1212.2,360.0 L1212.3,359.9 L1212.0,357.5 L1212.2,357.7 L1212.2,355.4 L1212.4,354.9 L1212.5,354.5 L1212.5,351.7 L1212.7,351.9 L1212.7,350.0 L1212.8,348.9 L1212.9,348.5 L1213.1,347.9 L1213.2,347.8 L1213.2,344.4 L1213.3,344.3 L1213.5,344.4 L1213.5,343.8 L1213.8,343.0 L1214.0,338.8 L1213.9,337.6 L1214.4,339.5 L1214.5,337.5 L1214.4,335.9 L1214.7,336.3 L1215.1,333.0 L1215.0,333.9 L1214.9,330.5 L1215.0,330.0 L1215.3,329.2 L1215.8,329.5 L1215.6,328.1 L1215.5,327.5 L1216.2,330.6 L1216.0,330.4 L1216.5,333.5 L1216.3,334.5 L1216.4,333.2 L1216.7,335.3 L1216.7,334.5 L1217.2,337.2 L1217.3,339.2 L1217.2,340.0 L1217.7,339.2 L1217.7,339.5 L1218.1,343.3 L1217.8,344.6 L1218.4,344.2 L1218.4,345.1 L1218.2,345.4 L1218.8,343.1 L1218.5,343.1 L1218.5,341.0 L1218.8,341.7 L1218.8,340.7 L1218.6,339.6 L1218.8,337.7 L1218.8,334.6 L1218.9,334.8 L1219.2,333.9 L1219.4,331.5 L1219.2,331.9 L1219.1,330.1 L1219.7,330.9 L1219.7,329.8 L1219.6,328.1 L1219.8,326.4 L1219.7,324.5 L1220.0,325.5 L1219.9,323.8 L1220.0,323.8 L1220.2,321.8 L1220.0,320.8 L1219.9,321.7 L1220.3,318.6 L1220.1,319.7 L1220.5,317.8 L1220.3,317.4 L1220.2,314.2 L1220.5,313.5 L1220.5,311.7 L1220.5,312.1 L1220.7,311.1 L1220.7,311.8 L1220.7,312.2 L1221.1,313.0 L1221.3,316.8 L1221.0,316.1 L1221.2,317.7 L1221.4,319.3 L1221.4,318.4 L1221.4,321.3 L1221.5,320.7 L1221.8,322.3 L1221.5,323.2 L1221.6,325.8 L1221.8,327.1 L1222.0,326.0 L1221.9,327.3 L1222.0,327.8 L1222.3,329.5 L1222.5,331.8 L1222.2,332.8 L1222.4,330.9 L1222.3,335.0 L1222.7,332.9 L1222.6,336.8 L1222.6,338.1 L1222.8,339.0 L1222.9,338.2 L1222.7,338.9 L1223.1,341.1 L1223.1,341.7 L1223.3,339.9 L1223.3,340.1 L1223.5,338.0 L1223.6,337.0 L1224.2,336.4 L1224.6,335.1 L1224.7,334.9 L1224.4,332.7 L1224.7,333.2 L1225.1,331.5 L1225.5,333.2 L1225.7,333.8 L1225.7,335.8 L1225.5,336.1 L1226.1,337.1 L1226.3,337.4 L1225.9,338.9 L1226.4,339.5 L1226.4,340.8 L1226.3,341.5 L1226.8,343.2 L1226.9,342.5 L1227.1,343.3 L1226.9,344.5 L1227.2,345.6 L1227.3,348.9 L1227.5,348.5 L1227.4,348.9 L1227.6,347.1 L1227.9,344.4 L1227.8,344.5 L1228.4,342.6 L1228.4,344.0 L1228.2,342.9 L1228.5,339.8 L1228.8,338.9 L1228.9,337.1 L1228.8,338.8 L1229.1,336.8 L1229.0,334.3 L1229.0,333.5 L1229.6,334.7 L1229.4,333.3 L1229.8,330.5 L1229.9,330.4 L1229.5,328.5 L1229.9,328.1 L1230.1,325.8 L1230.1,324.5 L1230.6,324.1 L1230.3,325.7 L1230.5,322.3 L1231.0,323.0 L1231.1,321.1 L1231.0,320.0 L1231.6,319.0 L1231.5,317.7 L1231.7,318.0 L1232.1,316.1 L1232.0,313.9 L1232.3,312.5 L1232.1,314.5 L1232.7,311.9 L1232.6,311.1 L1232.7,308.7 L1233.2,310.3 L1233.4,306.6 L1233.3,308.3 L1233.5,307.3 L1233.7,306.2 L1234.3,305.0 L1234.5,303.8 L1234.6,303.1 L1234.5,299.5 L1235.0,298.0 L1234.9,298.4 L1235.3,297.5 L1236.1,297.0 L1236.6,297.5 L1237.1,294.5 L1237.7,294.1 L1238.1,291.7 L1237.9,293.6 L1238.1,290.9 L1238.2,289.0 L1238.1,287.5 L1238.2,289.6 L1238.6,286.1 L1238.4,287.3 L1238.9,284.3 L1239.0,284.1 L1238.5,284.6 L1238.9,282.4 L1239.1,279.8 L1239.0,279.3 L1239.1,278.5 L1239.6,277.2 L1239.4,277.2 L1240.1,279.6 L1240.8,280.6 L1241.1,280.6 L1241.4,282.7 L1241.3,281.9 L1241.2,284.7 L1241.9,283.9 L1241.7,286.7 L1241.7,285.6 L1242.3,287.4 L1242.2,289.9 L1242.5,291.0 L1242.7,292.6 L1242.3,293.5 L1242.5,294.1 L1242.8,294.1" fill="none" stroke="#5f90e6" stroke-width="2.2" stroke-linejoin="round"/>
<rect x="181.2" y="107.3" width="1112.7" height="463.99999999999994" fill="none" stroke="#111" stroke-width="1.4"/>
<path d="M181.2,111.2h6 M181.2,197.7h6 M181.2,284.1h6 M181.2,370.6h6 M181.2,457.0h6 M181.2,543.5h6 M1293.9,514.3h-6 M1293.9,456.0h-6 M1293.9,397.7h-6 M1293.9,339.4h-6 M1293.9,281.1h-6 M1293.9,222.8h-6 M1293.9,164.5h-6 M183.1,571.3v-6 M183.1,107.3v6 M357.4,571.3v-6 M357.4,107.3v6 M526.1,571.3v-6 M526.1,107.3v6 M700.4,571.3v-6 M700.4,107.3v6 M874.7,571.3v-6 M874.7,107.3v6 M1032.2,571.3v-6 M1032.2,107.3v6 M1206.5,571.3v-6 M1206.5,107.3v6" stroke="#111" stroke-width="1.2" fill="none"/>
<text x="173.3" y="116.6" font-family="'Liberation Sans', sans-serif" font-size="17.6" text-anchor="end" textLength="48.2" lengthAdjust="spacingAndGlyphs" fill="#111">110000</text>
<text x="173.3" y="203.1" font-family="'Liberation Sans', sans-serif" font-size="17.6" text-anchor="end" textLength="48.2" lengthAdjust="spacingAndGlyphs" fill="#111">100000</text>
<text x="173.3" y="289.5" font-family="'Liberation Sans', sans-serif" font-size="17.6" text-anchor="end" textLength="40.2" lengthAdjust="spacingAndGlyphs" fill="#111">90000</text>
<text x="173.3" y="375.9" font-family="'Liberation Sans', sans-serif" font-size="17.6" text-anchor="end" textLength="40.2" lengthAdjust="spacingAndGlyphs" fill="#111">80000</text>
<text x="173.3" y="462.4" font-family="'Liberation Sans', sans-serif" font-size="17.6" text-anchor="end" textLength="40.2" lengthAdjust="spacingAndGlyphs" fill="#111">70000</text>
<text x="173.3" y="548.9" font-family="'Liberation Sans', sans-serif" font-size="17.6" text-anchor="end" textLength="40.2" lengthAdjust="spacingAndGlyphs" fill="#111">60000</text>
<text x="1299.8" y="518.7" font-family="'Liberation Sans', sans-serif" font-size="17.6" textLength="32.4" lengthAdjust="spacingAndGlyphs" fill="#111">0. 35</text>
<text x="1299.8" y="460.4" font-family="'Liberation Sans', sans-serif" font-size="17.6" textLength="32.4" lengthAdjust="spacingAndGlyphs" fill="#111">0. 40</text>
<text x="1299.8" y="402.1" font-family="'Liberation Sans', sans-serif" font-size="17.6" textLength="32.4" lengthAdjust="spacingAndGlyphs" fill="#111">0. 45</text>
<text x="1299.8" y="343.8" font-family="'Liberation Sans', sans-serif" font-size="17.6" textLength="32.4" lengthAdjust="spacingAndGlyphs" fill="#111">0. 50</text>
<text x="1299.8" y="285.5" font-family="'Liberation Sans', sans-serif" font-size="17.6" textLength="32.4" lengthAdjust="spacingAndGlyphs" fill="#111">0. 55</text>
<text x="1299.8" y="227.2" font-family="'Liberation Sans', sans-serif" font-size="17.6" textLength="32.4" lengthAdjust="spacingAndGlyphs" fill="#111">0. 60</text>
<text x="1299.8" y="168.9" font-family="'Liberation Sans', sans-serif" font-size="17.6" textLength="32.4" lengthAdjust="spacingAndGlyphs" fill="#111">0. 65</text>
<text x="182.3" y="589.8" font-family="'Liberation Sans', sans-serif" font-size="17.6" text-anchor="middle" textLength="57.6" lengthAdjust="spacingAndGlyphs" fill="#111">2024&#8211;10</text>
<text x="356.6" y="589.8" font-family="'Liberation Sans', sans-serif" font-size="17.6" text-anchor="middle" textLength="57.6" lengthAdjust="spacingAndGlyphs" fill="#111">2024&#8211;11</text>
<text x="525.3" y="589.8" font-family="'Liberation Sans', sans-serif" font-size="17.6" text-anchor="middle" textLength="57.6" lengthAdjust="spacingAndGlyphs" fill="#111">2024&#8211;12</text>
<text x="699.6" y="589.8" font-family="'Liberation Sans', sans-serif" font-size="17.6" text-anchor="middle" textLength="57.6" lengthAdjust="spacingAndGlyphs" fill="#111">2025&#8211;01</text>
<text x="873.9" y="589.8" font-family="'Liberation Sans', sans-serif" font-size="17.6" text-anchor="middle" textLength="57.6" lengthAdjust="spacingAndGlyphs" fill="#111">2025&#8211;02</text>
<text x="1031.4" y="589.8" font-family="'Liberation Sans', sans-serif" font-size="17.6" text-anchor="middle" textLength="57.6" lengthAdjust="spacingAndGlyphs" fill="#111">2025&#8211;03</text>
<text x="1205.7" y="589.8" font-family="'Liberation Sans', sans-serif" font-size="17.6" text-anchor="middle" textLength="57.6" lengthAdjust="spacingAndGlyphs" fill="#111">2025&#8211;04</text>
<text x="583" y="96.2" font-family="'Liberation Mono', monospace" font-size="19.5" textLength="308" lengthAdjust="spacingAndGlyphs" fill="#111">BTC Derivative Risk Volatility</text>
<text x="721" y="610.3" font-family="'Liberation Mono', monospace" font-size="18" textLength="32" lengthAdjust="spacingAndGlyphs" fill="#111">Time</text>
<text transform="translate(112.2,378.2) rotate(-90)" x="0" y="0" font-family="'Liberation Mono', monospace" font-size="18" textLength="76.4" lengthAdjust="spacingAndGlyphs" fill="#111">BTC Price</text>
<text transform="translate(1353.6,369.2) rotate(-90)" x="0" y="0" font-family="'Liberation Mono', monospace" font-size="18" textLength="59" lengthAdjust="spacingAndGlyphs" fill="#111">BTC RPN</text>
<rect x="41.3" y="14.5" width="139.2" height="50.2" rx="2" fill="#fff" stroke="#d2d2d2" stroke-width="1.1"/>
<path d="M47.5,27.3h36.3" stroke="#000" stroke-width="1.8"/>
<path d="M47.5,49.8h36.3" stroke="#5f86d2" stroke-width="1.6"/>
<text x="96.3" y="33.7" font-family="'Liberation Mono', monospace" font-size="18.5" textLength="76.2" lengthAdjust="spacingAndGlyphs" fill="#111">BTC Price</text>
<text x="97" y="57" font-family="'Liberation Mono', monospace" font-size="18.5" textLength="24" lengthAdjust="spacingAndGlyphs" fill="#111">RPN</text>
</svg></body></html>
